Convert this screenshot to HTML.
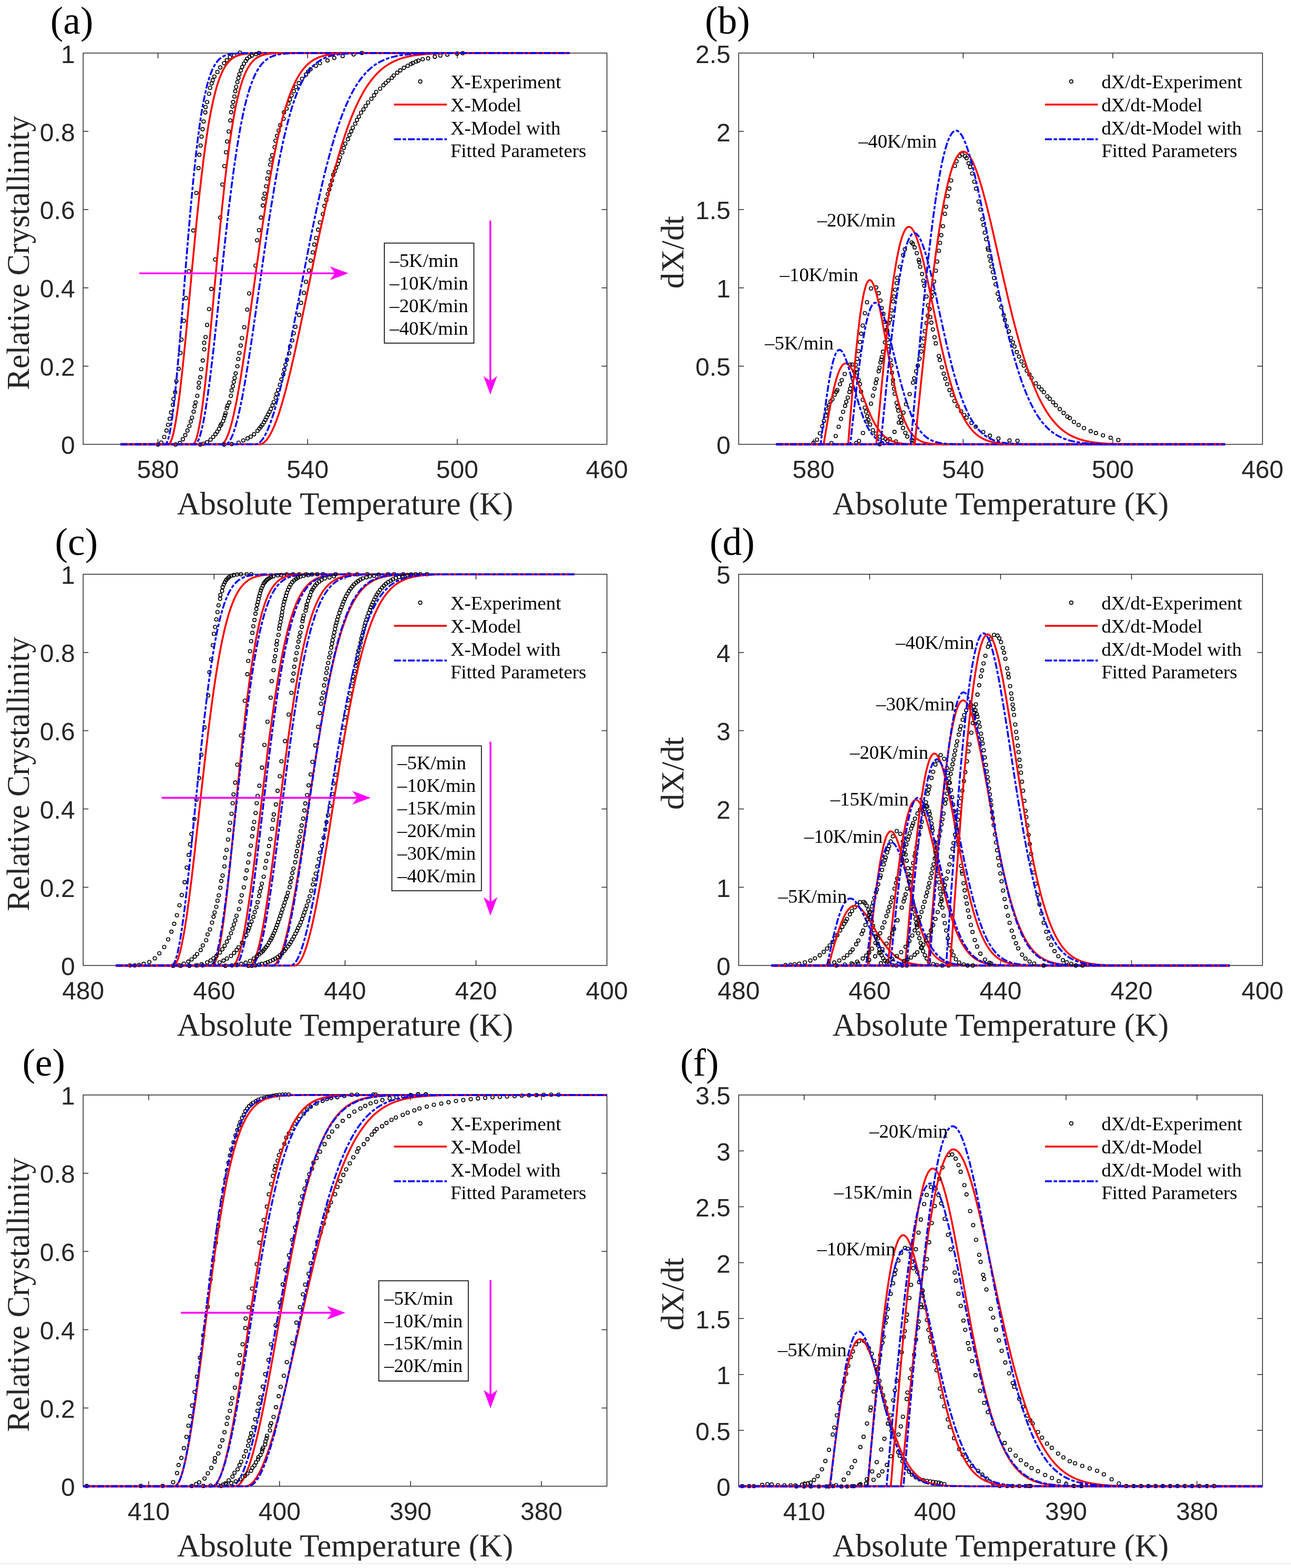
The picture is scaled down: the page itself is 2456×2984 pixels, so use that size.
<!DOCTYPE html>
<html lang="en"><head><meta charset="utf-8"><title>Crystallization kinetics: relative crystallinity and dX/dt versus absolute temperature</title>
<style>
html,body{margin:0;padding:0;background:#fff;}
body{width:2456px;height:2984px;overflow:hidden;position:relative;}
svg{display:block;position:absolute;left:0;top:0;}
text{white-space:pre;}
</style></head><body>
<svg width="2456" height="2984" viewBox="0 0 2456 2984">
<defs><marker id="mk" markerWidth="12" markerHeight="12" refX="6" refY="6" markerUnits="userSpaceOnUse" overflow="visible"><circle cx="6" cy="6" r="3.25" fill="none" stroke="#000" stroke-width="1.6"/></marker><clipPath id="figclip"><rect x="0" y="0" width="2456" height="2970"/></clipPath></defs>
<rect x="0" y="0" width="2456" height="2984" fill="#fff"/>
<g clip-path="url(#figclip)">
<g id="panel-a">
<rect x="158.2" y="101.0" width="996.4" height="744.6" fill="none" stroke="#262626" stroke-width="1.5"/>
<path d="M300.5,845.6v-10M300.5,101.0v10M585.2,845.6v-10M585.2,101.0v10M869.9,845.6v-10M869.9,101.0v10M158.2,696.7h10M1154.6,696.7h-10M158.2,547.8h10M1154.6,547.8h-10M158.2,398.8h10M1154.6,398.8h-10M158.2,249.9h10M1154.6,249.9h-10" fill="none" stroke="#262626" stroke-width="1.5"/>
<clipPath id="clip-a"><rect x="152.2" y="95.0" width="1008.4" height="756.6"/></clipPath>
<g clip-path="url(#clip-a)" fill="none" stroke-linejoin="round">
<polyline points="300.4,845.9 306.7,842.2 312.5,831.5 316.8,819.4 319.7,808.5 322.9,797.0 325.5,784.9 328.9,770.5 330.1,759.5 333.2,746.6 335.5,725.6 339.9,701.9 343.3,671.7 345.3,646.3 349.9,610.6 353.7,567.4 359.4,516.2 367.8,438.6 373.6,367.2 377.6,319.9 379.3,294.6 381.6,277.0 383.4,260.0 385.4,245.9 387.4,231.2 390.6,213.9 391.1,203.8 394.0,194.3 397.8,178.5 399.8,167.3 402.6,158.6 404.7,152.6 407.8,145.7 413.6,137.0 419.1,128.4 426.3,120.3 431.5,114.6 437.5,108.8 445.3,105.3 456.2,100.2" stroke="none" marker-start="url(#mk)" marker-mid="url(#mk)" marker-end="url(#mk)"/>
<path d="M229.4,845.6L319.9,845.6L320.2,845.6L320.8,845.4L321.5,845.1L322.2,844.4L323.0,843.5L323.8,842.3L324.7,840.7L325.6,838.6L326.5,836.2L327.5,833.2L328.5,829.8L329.6,825.8L330.6,821.3L331.7,816.2L332.8,810.6L334.0,804.4L335.1,797.5L336.3,790.1L337.5,782.1L338.7,773.5L339.9,764.3L341.2,754.6L342.5,744.2L343.7,733.3L345.0,721.8L346.4,709.8L347.7,697.3L349.0,684.3L350.4,670.8L351.8,657.0L353.2,642.7L354.6,628.1L356.0,613.1L357.4,597.9L358.9,582.4L360.3,566.7L361.8,550.8L363.3,534.9L364.7,518.8L366.2,502.7L367.8,486.6L369.3,470.5L370.8,454.5L372.4,438.7L373.9,423.0L375.5,407.5L377.1,392.2L378.6,377.3L380.2,362.6L381.9,348.2L383.5,334.2L385.1,320.6L386.7,307.4L388.4,294.7L390.0,282.3L391.7,270.4L393.4,259.0L395.0,248.1L396.7,237.6L398.4,227.7L400.1,218.2L401.9,209.2L403.6,200.7L405.3,192.7L407.1,185.1L408.8,178.0L410.6,171.3L412.3,165.1L414.1,159.3L415.9,153.9L417.7,148.9L419.5,144.3L421.3,140.0L423.1,136.1L424.9,132.5L426.7,129.2L428.5,126.1L430.4,123.4L432.2,120.9L434.1,118.7L435.9,116.6L437.8,114.8L439.7,113.1L441.5,111.6L443.4,110.3L445.3,109.1L447.2,108.1L449.1,107.2L451.0,106.3L453.0,105.6L454.9,105.0L456.8,104.4L458.8,103.9L460.7,103.5L462.7,103.1L464.6,102.8L466.6,102.5L468.6,102.3L470.5,102.1L472.5,101.9L474.5,101.8L476.5,101.7L478.5,101.5L480.5,101.5L482.5,101.4L484.5,101.3L486.5,101.3L488.6,101.2L490.6,101.2L492.6,101.1L494.7,101.1L496.7,101.1L498.8,101.1L500.9,101.1L502.9,101.0L505.0,101.0L507.1,101.0L509.2,101.0L511.2,101.0L513.3,101.0L515.4,101.0L517.5,101.0L519.6,101.0L521.8,101.0L523.9,101.0L526.0,101.0L528.1,101.0L530.3,101.0L532.4,101.0L1083.4,101.0" stroke="#f00" stroke-width="3.5"/>
<path d="M229.4,845.6L314.1,845.6L314.5,845.6L314.9,845.4L315.5,845.1L316.1,844.4L316.8,843.5L317.5,842.3L318.2,840.7L319.0,838.6L319.8,836.2L320.7,833.2L321.5,829.8L322.4,825.8L323.3,821.3L324.3,816.2L325.2,810.6L326.2,804.4L327.2,797.5L328.2,790.1L329.2,782.1L330.3,773.5L331.3,764.3L332.4,754.6L333.5,744.2L334.6,733.3L335.7,721.8L336.8,709.8L337.9,697.3L339.1,684.3L340.3,670.8L341.4,657.0L342.6,642.7L343.8,628.1L345.0,613.1L346.3,597.9L347.5,582.4L348.8,566.7L350.0,550.8L351.3,534.9L352.5,518.8L353.8,502.7L355.1,486.6L356.4,470.5L357.7,454.5L359.1,438.7L360.4,423.0L361.7,407.5L363.1,392.2L364.5,377.3L365.8,362.6L367.2,348.2L368.6,334.2L370.0,320.6L371.4,307.4L372.8,294.7L374.2,282.3L375.6,270.4L377.0,259.0L378.5,248.1L379.9,237.6L381.4,227.7L382.8,218.2L384.3,209.2L385.8,200.7L387.3,192.7L388.8,185.1L390.3,178.0L391.8,171.3L393.3,165.1L394.8,159.3L396.3,153.9L397.8,148.9L399.4,144.3L400.9,140.0L402.5,136.1L404.0,132.5L405.6,129.2L407.2,126.1L408.7,123.4L410.3,120.9L411.9,118.7L413.5,116.6L415.1,114.8L416.7,113.1L418.3,111.6L419.9,110.3L421.5,109.1L423.2,108.1L424.8,107.2L426.4,106.3L428.1,105.6L429.7,105.0L431.4,104.4L433.0,103.9L434.7,103.5L436.4,103.1L438.0,102.8L439.7,102.5L441.4,102.3L443.1,102.1L444.8,101.9L446.5,101.8L448.2,101.7L449.9,101.5L451.6,101.5L453.3,101.4L455.1,101.3L456.8,101.3L458.5,101.2L460.3,101.2L462.0,101.1L463.8,101.1L465.5,101.1L467.3,101.1L469.1,101.1L470.8,101.0L472.6,101.0L474.4,101.0L476.2,101.0L477.9,101.0L479.7,101.0L481.5,101.0L483.3,101.0L485.1,101.0L486.9,101.0L488.8,101.0L490.6,101.0L492.4,101.0L494.2,101.0L496.1,101.0L1083.4,101.0" stroke="#00f" stroke-width="3.5" stroke-dasharray="13.1 3.4 6.6 3.4"/>
<polyline points="334.1,845.9 342.2,843.1 347.9,835.9 352.5,828.1 356.6,819.4 360.3,810.8 362.9,802.2 365.2,794.7 368.4,783.4 370.4,773.4 372.1,765.9 375.3,753.2 377.9,737.6 378.5,728.4 381.0,718.1 382.8,702.5 385.7,686.1 388.5,664.8 388.5,652.4 391.1,641.5 394.0,618.4 397.8,588.2 402.1,549.9 409.3,493.7 419.1,414.1 423.1,351.3 426.8,316.2 430.0,289.7 432.0,269.2 435.2,250.2 438.1,229.2 439.8,213.6 442.1,202.7 443.5,194.1 445.9,183.7 447.6,173.6 449.3,165.5 451.6,156.3 453.6,148.5 455.4,141.3 458.2,134.1 460.8,127.5 464.0,121.2 467.5,116.0 470.3,111.7 474.7,108.2 479.0,105.9 487.0,103.0 492.8,100.7" stroke="none" marker-start="url(#mk)" marker-mid="url(#mk)" marker-end="url(#mk)"/>
<path d="M229.4,845.6L366.5,845.6L366.8,845.6L367.4,845.4L368.0,845.1L368.7,844.4L369.5,843.5L370.3,842.3L371.2,840.7L372.1,838.6L373.0,836.2L374.0,833.2L375.0,829.8L376.0,825.8L377.1,821.3L378.1,816.2L379.2,810.6L380.3,804.4L381.5,797.5L382.6,790.1L383.8,782.1L385.0,773.5L386.2,764.3L387.5,754.6L388.7,744.2L390.0,733.3L391.3,721.8L392.6,709.8L393.9,697.3L395.2,684.3L396.5,670.8L397.9,657.0L399.3,642.7L400.6,628.1L402.0,613.1L403.4,597.9L404.9,582.4L406.3,566.7L407.7,550.8L409.2,534.9L410.7,518.8L412.2,502.7L413.6,486.6L415.1,470.5L416.7,454.5L418.2,438.7L419.7,423.0L421.3,407.5L422.8,392.2L424.4,377.3L425.9,362.6L427.5,348.2L429.1,334.2L430.7,320.6L432.3,307.4L434.0,294.7L435.6,282.3L437.2,270.4L438.9,259.0L440.5,248.1L442.2,237.6L443.9,227.7L445.5,218.2L447.2,209.2L448.9,200.7L450.6,192.7L452.4,185.1L454.1,178.0L455.8,171.3L457.5,165.1L459.3,159.3L461.0,153.9L462.8,148.9L464.6,144.3L466.3,140.0L468.1,136.1L469.9,132.5L471.7,129.2L473.5,126.1L475.3,123.4L477.2,120.9L479.0,118.7L480.8,116.6L482.6,114.8L484.5,113.1L486.3,111.6L488.2,110.3L490.1,109.1L491.9,108.1L493.8,107.2L495.7,106.3L497.6,105.6L499.5,105.0L501.4,104.4L503.3,103.9L505.2,103.5L507.1,103.1L509.1,102.8L511.0,102.5L512.9,102.3L514.9,102.1L516.8,101.9L518.8,101.8L520.8,101.7L522.7,101.5L524.7,101.5L526.7,101.4L528.7,101.3L530.7,101.3L532.7,101.2L534.7,101.2L536.7,101.1L538.7,101.1L540.7,101.1L542.7,101.1L544.8,101.1L546.8,101.0L548.9,101.0L550.9,101.0L553.0,101.0L555.0,101.0L557.1,101.0L559.1,101.0L561.2,101.0L563.3,101.0L565.4,101.0L567.5,101.0L569.6,101.0L571.7,101.0L573.8,101.0L575.9,101.0L1083.4,101.0" stroke="#f00" stroke-width="3.5"/>
<path d="M229.4,845.6L370.5,845.6L370.9,845.6L371.6,845.4L372.3,845.1L373.1,844.4L374.0,843.5L375.0,842.3L376.0,840.7L377.0,838.6L378.1,836.2L379.2,833.2L380.4,829.8L381.6,825.8L382.8,821.3L384.0,816.2L385.3,810.6L386.6,804.4L387.9,797.5L389.3,790.1L390.6,782.1L392.0,773.5L393.4,764.3L394.9,754.6L396.3,744.2L397.8,733.3L399.3,721.8L400.8,709.8L402.3,697.3L403.8,684.3L405.4,670.8L407.0,657.0L408.5,642.7L410.1,628.1L411.8,613.1L413.4,597.9L415.0,582.4L416.7,566.7L418.4,550.8L420.1,534.9L421.8,518.8L423.5,502.7L425.2,486.6L427.0,470.5L428.7,454.5L430.5,438.7L432.3,423.0L434.0,407.5L435.8,392.2L437.7,377.3L439.5,362.6L441.3,348.2L443.2,334.2L445.0,320.6L446.9,307.4L448.8,294.7L450.7,282.3L452.6,270.4L454.5,259.0L456.4,248.1L458.3,237.6L460.3,227.7L462.2,218.2L464.2,209.2L466.1,200.7L468.1,192.7L470.1,185.1L472.1,178.0L474.1,171.3L476.1,165.1L478.2,159.3L480.2,153.9L482.2,148.9L484.3,144.3L486.3,140.0L488.4,136.1L490.5,132.5L492.6,129.2L494.7,126.1L496.8,123.4L498.9,120.9L501.0,118.7L503.1,116.6L505.2,114.8L507.4,113.1L509.5,111.6L511.7,110.3L513.8,109.1L516.0,108.1L518.2,107.2L520.4,106.3L522.6,105.6L524.8,105.0L527.0,104.4L529.2,103.9L531.4,103.5L533.6,103.1L535.9,102.8L538.1,102.5L540.4,102.3L542.6,102.1L544.9,101.9L547.2,101.8L549.4,101.7L551.7,101.5L554.0,101.5L556.3,101.4L558.6,101.3L560.9,101.3L563.2,101.2L565.6,101.2L567.9,101.1L570.2,101.1L572.6,101.1L574.9,101.1L577.3,101.1L579.6,101.0L582.0,101.0L584.4,101.0L586.8,101.0L589.2,101.0L591.5,101.0L593.9,101.0L596.3,101.0L598.8,101.0L601.2,101.0L603.6,101.0L606.0,101.0L608.5,101.0L610.9,101.0L613.3,101.0L1083.4,101.0" stroke="#00f" stroke-width="3.5" stroke-dasharray="13.1 3.4 6.6 3.4"/>
<polyline points="381.0,845.9 387.1,844.5 394.0,841.6 400.6,836.7 405.5,831.5 409.9,826.4 413.3,821.5 416.5,816.3 419.4,809.9 421.1,807.1 424.5,801.3 426.3,795.5 428.0,790.6 429.1,786.3 431.5,776.8 432.9,771.9 436.1,765.9 439.2,753.2 440.7,743.1 443.0,735.1 444.7,726.7 446.4,719.2 448.4,710.6 451.6,697.0 453.3,683.2 455.4,671.7 457.9,657.6 460.3,643.5 464.6,622.7 470.3,589.3 474.1,558.5 486.2,505.5 489.1,457.3 492.8,438.0 496.5,414.1 500.0,391.1 501.4,378.1 503.5,368.6 506.3,354.5 508.6,339.8 510.9,327.7 514.1,313.3 515.3,303.8 517.9,295.4 522.5,280.2 524.2,267.8 527.1,258.6 530.2,248.5 533.1,238.4 539.5,226.0 540.3,213.9 545.2,206.7 548.7,197.2 551.6,189.4 554.7,181.7 559.0,173.6 563.1,165.8 568.5,158.1 574.6,150.0 582.1,141.9 586.1,136.2 590.7,131.8 600.8,125.2 608.6,120.3 623.0,115.1 635.9,110.2 651.8,106.8 672.8,103.6 688.4,100.7" stroke="none" marker-start="url(#mk)" marker-mid="url(#mk)" marker-end="url(#mk)"/>
<path d="M229.4,845.6L419.9,845.6L420.5,845.6L421.3,845.4L422.3,845.1L423.4,844.4L424.5,843.5L425.8,842.3L427.1,840.7L428.4,838.6L429.8,836.2L431.3,833.2L432.8,829.8L434.3,825.8L435.9,821.3L437.5,816.2L439.2,810.6L440.9,804.4L442.6,797.5L444.4,790.1L446.1,782.1L447.9,773.5L449.8,764.3L451.6,754.6L453.5,744.2L455.4,733.3L457.4,721.8L459.3,709.8L461.3,697.3L463.3,684.3L465.3,670.8L467.4,657.0L469.5,642.7L471.6,628.1L473.7,613.1L475.8,597.9L477.9,582.4L480.1,566.7L482.3,550.8L484.5,534.9L486.7,518.8L488.9,502.7L491.2,486.6L493.4,470.5L495.7,454.5L498.0,438.7L500.3,423.0L502.7,407.5L505.0,392.2L507.4,377.3L509.8,362.6L512.2,348.2L514.6,334.2L517.0,320.6L519.4,307.4L521.9,294.7L524.3,282.3L526.8,270.4L529.3,259.0L531.8,248.1L534.3,237.6L536.8,227.7L539.4,218.2L541.9,209.2L544.5,200.7L547.1,192.7L549.6,185.1L552.2,178.0L554.9,171.3L557.5,165.1L560.1,159.3L562.8,153.9L565.4,148.9L568.1,144.3L570.8,140.0L573.5,136.1L576.2,132.5L578.9,129.2L581.6,126.1L584.3,123.4L587.1,120.9L589.8,118.7L592.6,116.6L595.4,114.8L598.2,113.1L601.0,111.6L603.8,110.3L606.6,109.1L609.4,108.1L612.3,107.2L615.1,106.3L618.0,105.6L620.8,105.0L623.7,104.4L626.6,103.9L629.5,103.5L632.4,103.1L635.3,102.8L638.2,102.5L641.1,102.3L644.1,102.1L647.0,101.9L650.0,101.8L652.9,101.7L655.9,101.5L658.9,101.5L661.9,101.4L664.9,101.3L667.9,101.3L670.9,101.2L673.9,101.2L677.0,101.1L680.0,101.1L683.1,101.1L686.1,101.1L689.2,101.1L692.3,101.0L695.4,101.0L698.4,101.0L701.5,101.0L704.6,101.0L707.8,101.0L710.9,101.0L714.0,101.0L717.2,101.0L720.3,101.0L723.5,101.0L726.6,101.0L729.8,101.0L733.0,101.0L736.1,101.0L1083.4,101.0" stroke="#f00" stroke-width="3.5"/>
<path d="M229.4,845.6L428.4,845.6L429.0,845.6L429.8,845.4L430.8,845.1L432.0,844.4L433.2,843.5L434.4,842.3L435.8,840.7L437.2,838.6L438.6,836.2L440.1,833.2L441.7,829.8L443.3,825.8L444.9,821.3L446.5,816.2L448.3,810.6L450.0,804.4L451.8,797.5L453.6,790.1L455.4,782.1L457.3,773.5L459.1,764.3L461.1,754.6L463.0,744.2L465.0,733.3L467.0,721.8L469.0,709.8L471.0,697.3L473.1,684.3L475.2,670.8L477.3,657.0L479.4,642.7L481.6,628.1L483.7,613.1L485.9,597.9L488.1,582.4L490.4,566.7L492.6,550.8L494.9,534.9L497.2,518.8L499.5,502.7L501.8,486.6L504.1,470.5L506.5,454.5L508.8,438.7L511.2,423.0L513.6,407.5L516.0,392.2L518.5,377.3L520.9,362.6L523.4,348.2L525.8,334.2L528.3,320.6L530.8,307.4L533.4,294.7L535.9,282.3L538.4,270.4L541.0,259.0L543.6,248.1L546.2,237.6L548.8,227.7L551.4,218.2L554.0,209.2L556.6,200.7L559.3,192.7L562.0,185.1L564.6,178.0L567.3,171.3L570.0,165.1L572.7,159.3L575.5,153.9L578.2,148.9L581.0,144.3L583.7,140.0L586.5,136.1L589.3,132.5L592.1,129.2L594.9,126.1L597.7,123.4L600.5,120.9L603.4,118.7L606.2,116.6L609.1,114.8L611.9,113.1L614.8,111.6L617.7,110.3L620.6,109.1L623.5,108.1L626.4,107.2L629.4,106.3L632.3,105.6L635.2,105.0L638.2,104.4L641.2,103.9L644.2,103.5L647.1,103.1L650.1,102.8L653.2,102.5L656.2,102.3L659.2,102.1L662.2,101.9L665.3,101.8L668.3,101.7L671.4,101.5L674.5,101.5L677.5,101.4L680.6,101.3L683.7,101.3L686.8,101.2L690.0,101.2L693.1,101.1L696.2,101.1L699.3,101.1L702.5,101.1L705.7,101.1L708.8,101.0L712.0,101.0L715.2,101.0L718.4,101.0L721.6,101.0L724.8,101.0L728.0,101.0L731.2,101.0L734.4,101.0L737.7,101.0L740.9,101.0L744.2,101.0L747.4,101.0L750.7,101.0L754.0,101.0L1083.4,101.0" stroke="#00f" stroke-width="3.5" stroke-dasharray="13.1 3.4 6.6 3.4"/>
<polyline points="426.3,845.9 440.7,845.1 453.9,842.5 462.8,838.2 470.9,834.4 477.0,831.0 483.3,826.4 489.9,820.0 493.4,815.7 496.3,812.0 499.1,808.5 502.3,803.6 504.9,799.0 507.2,794.1 510.1,788.9 512.7,783.7 515.3,778.3 518.4,771.6 520.7,765.3 524.5,756.7 526.2,749.5 529.1,742.3 532.5,732.2 535.4,722.1 538.9,712.3 540.9,703.4 543.2,694.2 545.8,684.7 550.1,672.3 551.8,659.6 555.9,647.8 558.8,634.3 561.9,621.9 569.1,599.4 572.6,576.4 578.1,557.4 582.1,536.3 587.8,514.7 591.0,496.0 595.0,480.2 597.9,465.4 601.4,453.0 605.1,437.1 608.6,423.3 614.3,407.5 617.2,391.9 621.0,380.4 623.6,369.5 626.4,360.8 628.7,352.2 631.6,343.5 633.9,332.9 636.8,326.3 639.4,319.1 642.6,311.9 644.6,306.1 646.9,299.5 651.2,290.3 654.1,281.6 657.0,273.5 661.9,264.9 664.7,257.1 668.2,249.9 671.1,243.3 675.7,235.5 679.1,228.3 682.6,222.0 686.9,214.5 691.5,208.2 695.6,201.8 700.2,195.2 706.5,188.0 711.7,181.4 715.7,175.0 723.2,168.7 729.6,162.1 733.9,157.8 738.8,153.4 745.4,148.3 749.0,143.7 755.6,138.4 761.5,133.9 768.4,129.1 775.5,125.2 781.6,121.7 785.3,119.9 791.4,117.2 795.9,115.4 804.1,112.7 814.5,111.1 827.2,107.9 837.8,105.8 851.0,104.0 869.6,102.1 880.2,101.3" stroke="none" marker-start="url(#mk)" marker-mid="url(#mk)" marker-end="url(#mk)"/>
<path d="M229.4,845.6L493.2,845.6L494.0,845.6L495.2,845.4L496.7,845.1L498.3,844.4L500.0,843.5L501.9,842.3L503.8,840.7L505.8,838.6L507.9,836.2L510.1,833.2L512.3,829.8L514.6,825.8L516.9,821.3L519.3,816.2L521.8,810.6L524.3,804.4L526.9,797.5L529.5,790.1L532.1,782.1L534.8,773.5L537.5,764.3L540.3,754.6L543.1,744.2L545.9,733.3L548.8,721.8L551.7,709.8L554.7,697.3L557.6,684.3L560.7,670.8L563.7,657.0L566.8,642.7L569.9,628.1L573.0,613.1L576.2,597.9L579.3,582.4L582.6,566.7L585.8,550.8L589.1,534.9L592.4,518.8L595.7,502.7L599.0,486.6L602.4,470.5L605.8,454.5L609.2,438.7L612.7,423.0L616.1,407.5L619.6,392.2L623.1,377.3L626.6,362.6L630.2,348.2L633.8,334.2L637.4,320.6L641.0,307.4L644.6,294.7L648.3,282.3L652.0,270.4L655.6,259.0L659.4,248.1L663.1,237.6L666.9,227.7L670.6,218.2L674.4,209.2L678.2,200.7L682.1,192.7L685.9,185.1L689.8,178.0L693.6,171.3L697.5,165.1L701.5,159.3L705.4,153.9L709.3,148.9L713.3,144.3L717.3,140.0L721.3,136.1L725.3,132.5L729.3,129.2L733.4,126.1L737.5,123.4L741.5,120.9L745.6,118.7L749.7,116.6L753.9,114.8L758.0,113.1L762.2,111.6L766.3,110.3L770.5,109.1L774.7,108.1L778.9,107.2L783.2,106.3L787.4,105.6L791.7,105.0L795.9,104.4L800.2,103.9L804.5,103.5L808.8,103.1L813.2,102.8L817.5,102.5L821.8,102.3L826.2,102.1L830.6,101.9L835.0,101.8L839.4,101.7L843.8,101.5L848.2,101.5L852.7,101.4L857.1,101.3L861.6,101.3L866.1,101.2L870.6,101.2L875.1,101.1L879.6,101.1L884.2,101.1L888.7,101.1L893.3,101.1L897.8,101.0L902.4,101.0L907.0,101.0L911.6,101.0L916.2,101.0L920.8,101.0L925.5,101.0L930.1,101.0L934.8,101.0L939.5,101.0L944.2,101.0L948.9,101.0L953.6,101.0L958.3,101.0L963.0,101.0L1083.4,101.0" stroke="#f00" stroke-width="3.5"/>
<path d="M229.4,845.6L485.5,845.6L486.3,845.6L487.5,845.4L488.8,845.1L490.3,844.4L491.9,843.5L493.6,842.3L495.4,840.7L497.3,838.6L499.3,836.2L501.3,833.2L503.4,829.8L505.5,825.8L507.7,821.3L510.0,816.2L512.2,810.6L514.6,804.4L517.0,797.5L519.4,790.1L521.9,782.1L524.4,773.5L526.9,764.3L529.5,754.6L532.1,744.2L534.8,733.3L537.5,721.8L540.2,709.8L542.9,697.3L545.7,684.3L548.5,670.8L551.3,657.0L554.2,642.7L557.1,628.1L560.0,613.1L563.0,597.9L565.9,582.4L568.9,566.7L572.0,550.8L575.0,534.9L578.1,518.8L581.2,502.7L584.3,486.6L587.5,470.5L590.6,454.5L593.8,438.7L597.0,423.0L600.3,407.5L603.5,392.2L606.8,377.3L610.1,362.6L613.4,348.2L616.7,334.2L620.1,320.6L623.5,307.4L626.9,294.7L630.3,282.3L633.7,270.4L637.1,259.0L640.6,248.1L644.1,237.6L647.6,227.7L651.1,218.2L654.7,209.2L658.2,200.7L661.8,192.7L665.4,185.1L669.0,178.0L672.6,171.3L676.2,165.1L679.9,159.3L683.6,153.9L687.3,148.9L691.0,144.3L694.7,140.0L698.4,136.1L702.2,132.5L705.9,129.2L709.7,126.1L713.5,123.4L717.3,120.9L721.1,118.7L724.9,116.6L728.8,114.8L732.7,113.1L736.5,111.6L740.4,110.3L744.3,109.1L748.3,108.1L752.2,107.2L756.1,106.3L760.1,105.6L764.1,105.0L768.1,104.4L772.1,103.9L776.1,103.5L780.1,103.1L784.1,102.8L788.2,102.5L792.2,102.3L796.3,102.1L800.4,101.9L804.5,101.8L808.6,101.7L812.7,101.5L816.9,101.5L821.0,101.4L825.2,101.3L829.4,101.3L833.5,101.2L837.7,101.2L841.9,101.1L846.2,101.1L850.4,101.1L854.6,101.1L858.9,101.1L863.1,101.0L867.4,101.0L871.7,101.0L876.0,101.0L880.3,101.0L884.6,101.0L889.0,101.0L893.3,101.0L897.6,101.0L902.0,101.0L906.4,101.0L910.8,101.0L915.1,101.0L919.6,101.0L924.0,101.0L1083.4,101.0" stroke="#00f" stroke-width="3.5" stroke-dasharray="13.1 3.4 6.6 3.4"/>
</g>
<g font-family="Liberation Sans, Arial, sans-serif" font-size="48.0" fill="#262626">
<text x="300.5" y="909.8" text-anchor="middle">580</text>
<text x="585.2" y="909.8" text-anchor="middle">540</text>
<text x="869.9" y="909.8" text-anchor="middle">500</text>
<text x="1154.6" y="909.8" text-anchor="middle">460</text>
<text x="142.6" y="864.2" text-anchor="end">0</text>
<text x="142.6" y="715.3" text-anchor="end">0.2</text>
<text x="142.6" y="566.4" text-anchor="end">0.4</text>
<text x="142.6" y="417.4" text-anchor="end">0.6</text>
<text x="142.6" y="268.5" text-anchor="end">0.8</text>
<text x="142.6" y="119.6" text-anchor="end">1</text>
</g>
<g font-family="Liberation Serif, Times New Roman, serif" font-size="60.8" fill="#262626">
<text x="656.4" y="979.3" text-anchor="middle">Absolute Temperature (K)</text>
<text transform="translate(55.0,481.3) rotate(-90)" text-anchor="middle">Relative Crystallinity</text>
</g>
<text x="95.8" y="64" font-family="Liberation Serif, Times New Roman, serif" font-size="73.5" fill="#000">(a)</text>
<g font-family="Liberation Serif, Times New Roman, serif" font-size="36.8" fill="#000">
<circle cx="799.5" cy="155.1" r="3.25" fill="none" stroke="#000" stroke-width="1.6"/>
<path d="M749.5,199.1h100.5" stroke="#f00" stroke-width="3.5" fill="none"/>
<path d="M749.5,265.1h100.5" stroke="#00f" stroke-width="3.5" stroke-dasharray="13.1 3.4 6.6 3.4" fill="none"/>
<text x="856.9" y="168.4">X-Experiment</text>
<text x="856.9" y="211.8">X-Model</text>
<text x="856.9" y="255.8">X-Model with</text>
<text x="856.9" y="298.7">Fitted Parameters</text>
</g>
<rect x="731.2" y="462.6" width="170.3" height="190.4" fill="#fff" stroke="#000" stroke-width="1.6"/>
<g font-family="Liberation Serif, Times New Roman, serif" font-size="36.8" fill="#000">
<text x="741.3" y="508.0">–5K/min</text>
<text x="741.3" y="551.0">–10K/min</text>
<text x="741.3" y="594.0">–20K/min</text>
<text x="741.3" y="637.0">–40K/min</text>
</g>
<path d="M265.0,520.1L638.1,520.1" stroke="#f0f" stroke-width="3.4" fill="none"/>
<path d="M662.8,520.1L627.8,507.1L637.1,520.1L627.8,533.1Z" fill="#f0f"/>
<path d="M932.8,419.7L932.8,726.1" stroke="#f0f" stroke-width="3.4" fill="none"/>
<path d="M932.8,750.8L945.8,715.8L932.8,725.1L919.8,715.8Z" fill="#f0f"/>
<g font-family="Liberation Serif, Times New Roman, serif" font-size="36.8" fill="#000">
</g>
</g>
<g id="panel-b">
<rect x="1405.3" y="101.0" width="996.4" height="744.6" fill="none" stroke="#262626" stroke-width="1.5"/>
<path d="M1547.6,845.6v-10M1547.6,101.0v10M1832.3,845.6v-10M1832.3,101.0v10M2117.0,845.6v-10M2117.0,101.0v10M1405.3,696.7h10M2401.7,696.7h-10M1405.3,547.8h10M2401.7,547.8h-10M1405.3,398.8h10M2401.7,398.8h-10M1405.3,249.9h10M2401.7,249.9h-10" fill="none" stroke="#262626" stroke-width="1.5"/>
<clipPath id="clip-b"><rect x="1399.3" y="95.0" width="1008.4" height="756.6"/></clipPath>
<g clip-path="url(#clip-b)" fill="none" stroke-linejoin="round">
<polyline points="1547.6,842.9 1554.2,836.7 1559.8,824.5 1564.3,811.2 1567.4,801.2 1571.3,790.9 1573.2,783.0 1576.4,774.8 1576.8,771.2 1580.1,764.0 1583.6,759.7 1587.9,751.3 1591.2,745.6 1592.9,742.4 1598.0,731.2 1601.3,723.4 1607.0,711.7 1617.4,693.7 1621.4,693.7 1627.9,694.2 1629.4,702.8 1630.1,709.3 1633.4,723.0 1635.8,730.9 1638.0,745.3 1641.3,760.8 1645.2,775.8 1647.4,783.5 1649.8,792.1 1652.1,799.3 1648.8,802.2 1655.3,807.9 1660.6,818.7 1666.1,825.2 1673.6,831.0 1679.0,832.8 1684.8,835.3 1688.1,839.2 1692.7,835.6 1704.3,840.3" stroke="none" marker-start="url(#mk)" marker-mid="url(#mk)" marker-end="url(#mk)"/>
<path d="M1476.5,845.6L1567.0,845.6L1567.3,843.3L1567.9,839.9L1568.6,835.9L1569.3,831.5L1570.1,826.8L1570.9,821.8L1571.8,816.5L1572.7,811.1L1573.6,805.5L1574.6,799.9L1575.6,794.1L1576.7,788.2L1577.7,782.3L1578.8,776.4L1579.9,770.5L1581.1,764.6L1582.2,758.8L1583.4,753.1L1584.6,747.6L1585.8,742.1L1587.0,736.9L1588.3,731.8L1589.6,726.9L1590.8,722.3L1592.1,718.0L1593.5,713.9L1594.8,710.1L1596.1,706.6L1597.5,703.5L1598.9,700.7L1600.3,698.3L1601.7,696.2L1603.1,694.5L1604.5,693.2L1606.0,692.3L1607.4,691.8L1608.9,691.6L1610.4,691.9L1611.8,692.5L1613.3,693.4L1614.9,694.8L1616.4,696.5L1617.9,698.5L1619.5,700.8L1621.0,703.4L1622.6,706.4L1624.2,709.5L1625.7,713.0L1627.3,716.6L1629.0,720.4L1630.6,724.4L1632.2,728.6L1633.8,732.9L1635.5,737.2L1637.1,741.7L1638.8,746.2L1640.5,750.7L1642.1,755.3L1643.8,759.8L1645.5,764.3L1647.2,768.8L1649.0,773.1L1650.7,777.4L1652.4,781.6L1654.2,785.7L1655.9,789.7L1657.7,793.5L1659.4,797.2L1661.2,800.7L1663.0,804.1L1664.8,807.3L1666.6,810.4L1668.4,813.3L1670.2,816.0L1672.0,818.6L1673.8,821.0L1675.6,823.3L1677.5,825.4L1679.3,827.3L1681.2,829.1L1683.0,830.8L1684.9,832.3L1686.8,833.7L1688.6,835.0L1690.5,836.2L1692.4,837.3L1694.3,838.2L1696.2,839.1L1698.1,839.9L1700.1,840.6L1702.0,841.2L1703.9,841.8L1705.9,842.3L1707.8,842.7L1709.8,843.1L1711.7,843.4L1713.7,843.7L1715.7,844.0L1717.6,844.2L1719.6,844.4L1721.6,844.6L1723.6,844.8L1725.6,844.9L1727.6,845.0L1729.6,845.1L1731.6,845.2L1733.6,845.2L1735.7,845.3L1737.7,845.4L1739.7,845.4L1741.8,845.4L1743.8,845.5L1745.9,845.5L1748.0,845.5L1750.0,845.5L1752.1,845.5L1754.2,845.6L1756.3,845.6L1758.3,845.6L1760.4,845.6L1762.5,845.6L1764.6,845.6L1766.7,845.6L1768.9,845.6L1771.0,845.6L1773.1,845.6L1775.2,845.6L1777.4,845.6L1779.5,845.6L2330.5,845.6" stroke="#f00" stroke-width="3.5"/>
<path d="M1476.5,845.6L1561.2,845.6L1561.6,842.9L1562.0,838.9L1562.6,834.2L1563.2,829.1L1563.9,823.6L1564.6,817.7L1565.3,811.6L1566.1,805.3L1566.9,798.8L1567.8,792.2L1568.6,785.4L1569.5,778.5L1570.4,771.7L1571.4,764.7L1572.3,757.9L1573.3,751.0L1574.3,744.2L1575.3,737.6L1576.3,731.1L1577.4,724.7L1578.4,718.6L1579.5,712.6L1580.6,707.0L1581.7,701.6L1582.8,696.5L1583.9,691.7L1585.0,687.3L1586.2,683.2L1587.4,679.6L1588.5,676.3L1589.7,673.5L1590.9,671.1L1592.1,669.1L1593.4,667.6L1594.6,666.5L1595.9,665.9L1597.1,665.7L1598.4,666.0L1599.6,666.7L1600.9,667.8L1602.2,669.4L1603.5,671.4L1604.8,673.7L1606.2,676.4L1607.5,679.5L1608.8,682.9L1610.2,686.6L1611.6,690.6L1612.9,694.9L1614.3,699.4L1615.7,704.0L1617.1,708.9L1618.5,713.9L1619.9,719.0L1621.3,724.2L1622.7,729.5L1624.1,734.8L1625.6,740.1L1627.0,745.4L1628.5,750.6L1629.9,755.8L1631.4,760.9L1632.9,766.0L1634.4,770.9L1635.9,775.6L1637.4,780.3L1638.9,784.7L1640.4,789.1L1641.9,793.2L1643.4,797.1L1644.9,800.9L1646.5,804.5L1648.0,807.9L1649.6,811.1L1651.1,814.1L1652.7,816.9L1654.3,819.5L1655.8,822.0L1657.4,824.3L1659.0,826.4L1660.6,828.3L1662.2,830.1L1663.8,831.7L1665.4,833.2L1667.0,834.6L1668.6,835.9L1670.3,837.0L1671.9,838.0L1673.5,838.9L1675.2,839.7L1676.8,840.5L1678.5,841.1L1680.1,841.7L1681.8,842.2L1683.5,842.7L1685.1,843.1L1686.8,843.4L1688.5,843.7L1690.2,844.0L1691.9,844.2L1693.6,844.4L1695.3,844.6L1697.0,844.8L1698.7,844.9L1700.4,845.0L1702.2,845.1L1703.9,845.2L1705.6,845.3L1707.4,845.3L1709.1,845.4L1710.9,845.4L1712.6,845.4L1714.4,845.5L1716.2,845.5L1717.9,845.5L1719.7,845.5L1721.5,845.5L1723.3,845.6L1725.0,845.6L1726.8,845.6L1728.6,845.6L1730.4,845.6L1732.2,845.6L1734.0,845.6L1735.9,845.6L1737.7,845.6L1739.5,845.6L1741.3,845.6L1743.2,845.6L2330.5,845.6" stroke="#00f" stroke-width="3.5" stroke-dasharray="13.1 3.4 6.6 3.4"/>
<polyline points="1581.8,843.2 1589.8,829.8 1595.5,812.3 1599.8,797.1 1603.9,783.7 1607.8,772.4 1609.9,764.7 1612.8,756.8 1616.0,746.0 1617.4,739.8 1619.3,733.0 1622.2,720.1 1625.8,707.8 1630.8,682.9 1633.3,668.2 1636.1,650.7 1638.4,635.1 1688.4,646.6 1689.9,658.9 1694.2,685.5 1695.6,695.6 1696.8,709.3 1698.8,723.3 1699.2,730.5 1700.9,739.8 1702.1,749.2 1705.7,766.5 1707.4,774.4 1709.0,781.6 1711.7,792.8 1714.3,800.0 1710.0,804.3 1714.8,804.8 1717.9,814.4 1722.3,823.8 1726.1,830.7 1734.5,837.5 1737.4,838.6 1641.2,619.5 1645.3,596.0 1649.5,575.3 1657.0,549.0 1666.9,547.1 1671.6,557.9 1674.9,572.0 1677.1,586.4 1680.5,597.4 1683.2,612.6 1686.8,627.8" stroke="none" marker-start="url(#mk)" marker-mid="url(#mk)" marker-end="url(#mk)"/>
<path d="M1476.5,845.6L1613.6,845.6L1613.9,840.9L1614.5,833.9L1615.1,825.9L1615.8,816.9L1616.6,807.4L1617.4,797.2L1618.3,786.6L1619.2,775.6L1620.1,764.3L1621.1,752.7L1622.1,741.0L1623.1,729.1L1624.2,717.1L1625.2,705.1L1626.3,693.1L1627.4,681.2L1628.6,669.5L1629.7,657.9L1630.9,646.6L1632.1,635.6L1633.3,624.9L1634.6,614.6L1635.8,604.7L1637.1,595.3L1638.4,586.5L1639.7,578.2L1641.0,570.5L1642.3,563.5L1643.6,557.1L1645.0,551.5L1646.4,546.5L1647.7,542.3L1649.1,538.9L1650.5,536.3L1652.0,534.4L1653.4,533.3L1654.8,533.0L1656.3,533.5L1657.8,534.7L1659.3,536.7L1660.7,539.4L1662.2,542.8L1663.8,546.9L1665.3,551.7L1666.8,557.0L1668.4,563.0L1669.9,569.4L1671.5,576.3L1673.0,583.7L1674.6,591.5L1676.2,599.6L1677.8,608.1L1679.4,616.7L1681.1,625.6L1682.7,634.7L1684.3,643.8L1686.0,653.0L1687.6,662.2L1689.3,671.4L1691.0,680.6L1692.6,689.6L1694.3,698.5L1696.0,707.2L1697.7,715.7L1699.5,724.0L1701.2,732.1L1702.9,739.9L1704.6,747.3L1706.4,754.5L1708.1,761.4L1709.9,767.9L1711.7,774.2L1713.4,780.0L1715.2,785.6L1717.0,790.8L1718.8,795.7L1720.6,800.3L1722.4,804.6L1724.3,808.5L1726.1,812.2L1727.9,815.6L1729.7,818.7L1731.6,821.5L1733.4,824.1L1735.3,826.5L1737.2,828.7L1739.0,830.6L1740.9,832.4L1742.8,834.0L1744.7,835.4L1746.6,836.7L1748.5,837.8L1750.4,838.8L1752.3,839.7L1754.2,840.5L1756.2,841.2L1758.1,841.8L1760.0,842.4L1762.0,842.8L1763.9,843.2L1765.9,843.6L1767.9,843.9L1769.8,844.2L1771.8,844.4L1773.8,844.6L1775.8,844.7L1777.8,844.9L1779.8,845.0L1781.8,845.1L1783.8,845.2L1785.8,845.3L1787.8,845.3L1789.8,845.4L1791.9,845.4L1793.9,845.4L1796.0,845.5L1798.0,845.5L1800.1,845.5L1802.1,845.5L1804.2,845.5L1806.2,845.6L1808.3,845.6L1810.4,845.6L1812.5,845.6L1814.6,845.6L1816.7,845.6L1818.8,845.6L1820.9,845.6L1823.0,845.6L2330.5,845.6" stroke="#f00" stroke-width="3.5"/>
<path d="M1476.5,845.6L1617.6,845.6L1618.0,841.5L1618.7,835.6L1619.4,828.6L1620.2,820.9L1621.1,812.6L1622.1,803.9L1623.1,794.7L1624.1,785.2L1625.2,775.5L1626.3,765.5L1627.5,755.4L1628.7,745.1L1629.9,734.8L1631.1,724.5L1632.4,714.1L1633.7,703.9L1635.0,693.7L1636.4,683.8L1637.7,674.0L1639.1,664.5L1640.5,655.3L1642.0,646.4L1643.4,637.9L1644.9,629.8L1646.4,622.2L1647.9,615.0L1649.4,608.4L1650.9,602.3L1652.5,596.8L1654.1,592.0L1655.6,587.7L1657.2,584.1L1658.9,581.1L1660.5,578.9L1662.1,577.3L1663.8,576.3L1665.5,576.1L1667.2,576.5L1668.9,577.5L1670.6,579.2L1672.3,581.6L1674.1,584.5L1675.8,588.1L1677.6,592.1L1679.4,596.8L1681.1,601.9L1682.9,607.4L1684.8,613.4L1686.6,619.8L1688.4,626.5L1690.3,633.5L1692.1,640.8L1694.0,648.3L1695.9,655.9L1697.8,663.7L1699.7,671.6L1701.6,679.5L1703.5,687.5L1705.4,695.4L1707.4,703.3L1709.3,711.1L1711.3,718.8L1713.2,726.3L1715.2,733.6L1717.2,740.8L1719.2,747.7L1721.2,754.4L1723.2,760.9L1725.3,767.1L1727.3,773.0L1729.3,778.6L1731.4,784.0L1733.4,789.1L1735.5,793.9L1737.6,798.4L1739.7,802.6L1741.8,806.5L1743.9,810.2L1746.0,813.6L1748.1,816.8L1750.2,819.7L1752.3,822.4L1754.5,824.8L1756.6,827.1L1758.8,829.1L1760.9,831.0L1763.1,832.7L1765.3,834.2L1767.5,835.6L1769.7,836.8L1771.9,837.9L1774.1,838.9L1776.3,839.8L1778.5,840.5L1780.7,841.2L1783.0,841.8L1785.2,842.4L1787.5,842.8L1789.7,843.2L1792.0,843.6L1794.3,843.9L1796.5,844.1L1798.8,844.4L1801.1,844.6L1803.4,844.7L1805.7,844.9L1808.0,845.0L1810.3,845.1L1812.7,845.2L1815.0,845.2L1817.3,845.3L1819.7,845.4L1822.0,845.4L1824.4,845.4L1826.7,845.5L1829.1,845.5L1831.5,845.5L1833.9,845.5L1836.3,845.5L1838.6,845.6L1841.0,845.6L1843.4,845.6L1845.9,845.6L1848.3,845.6L1850.7,845.6L1853.1,845.6L1855.6,845.6L1858.0,845.6L1860.4,845.6L2330.5,845.6" stroke="#00f" stroke-width="3.5" stroke-dasharray="13.1 3.4 6.6 3.4"/>
<polyline points="1629.0,843.0 1634.1,839.2 1641.7,824.0 1656.9,768.2 1660.7,753.0 1663.7,739.8 1666.2,728.9 1667.8,721.8 1671.6,706.6 1673.3,699.8 1675.1,689.7 1676.6,684.6 1677.6,679.5 1679.7,669.4 1683.5,651.6 1687.8,628.8 1690.3,614.9 1693.1,608.5 1694.4,602.2 1696.2,590.8 1699.2,573.6 1700.7,564.2 1703.0,551.5 1705.8,538.8 1707.0,528.7 1711.9,507.7 1718.2,485.6 1721.5,474.2 1734.2,461.5 1736.7,464.1 1740.0,470.9 1744.1,481.8 1747.9,494.5 1748.9,499.1 1750.6,507.7 1754.2,521.6 1756.7,534.3 1758.5,543.9 1762.6,564.2 1765.3,581.2 1768.4,588.3 1769.7,603.5 1771.7,614.1 1774.7,627.0 1777.8,641.7 1780.3,653.4 1786.1,677.5 1787.9,685.1 1791.7,699.0 1795.3,711.2 1798.3,720.6 1801.8,731.0 1806.4,742.4 1810.7,751.7 1815.8,763.2 1821.6,772.8 1828.5,782.7 1834.3,789.8 1838.8,794.8 1848.2,805.0 1856.3,812.1 1870.5,822.2 1883.2,829.1 1899.4,834.6 1920.5,838.2 1935.7,838.7" stroke="none" marker-start="url(#mk)" marker-mid="url(#mk)" marker-end="url(#mk)"/>
<path d="M1476.5,845.6L1667.0,845.6L1667.6,839.3L1668.4,830.2L1669.4,819.5L1670.5,807.7L1671.6,794.9L1672.9,781.5L1674.2,767.4L1675.5,752.9L1676.9,737.9L1678.4,722.6L1679.9,707.0L1681.4,691.3L1683.0,675.4L1684.6,659.5L1686.3,643.7L1688.0,627.9L1689.7,612.4L1691.5,597.0L1693.2,582.0L1695.0,567.4L1696.9,553.3L1698.7,539.6L1700.6,526.6L1702.5,514.1L1704.5,502.4L1706.4,491.4L1708.4,481.3L1710.4,472.0L1712.4,463.5L1714.5,456.0L1716.6,449.5L1718.7,444.0L1720.8,439.4L1722.9,435.9L1725.0,433.4L1727.2,432.0L1729.4,431.6L1731.6,432.2L1733.8,433.9L1736.0,436.5L1738.3,440.1L1740.5,444.6L1742.8,450.0L1745.1,456.3L1747.4,463.4L1749.8,471.2L1752.1,479.8L1754.5,489.0L1756.9,498.8L1759.3,509.1L1761.7,519.8L1764.1,531.0L1766.5,542.5L1769.0,554.3L1771.4,566.2L1773.9,578.3L1776.4,590.5L1778.9,602.8L1781.4,614.9L1783.9,627.0L1786.5,639.0L1789.0,650.8L1791.6,662.3L1794.2,673.6L1796.7,684.6L1799.3,695.3L1802.0,705.6L1804.6,715.5L1807.2,725.0L1809.9,734.1L1812.5,742.7L1815.2,751.0L1817.9,758.8L1820.6,766.1L1823.3,773.0L1826.0,779.5L1828.7,785.6L1831.4,791.2L1834.2,796.5L1836.9,801.3L1839.7,805.8L1842.5,809.9L1845.3,813.7L1848.1,817.2L1850.9,820.3L1853.7,823.2L1856.5,825.8L1859.4,828.1L1862.2,830.2L1865.1,832.1L1867.9,833.8L1870.8,835.3L1873.7,836.6L1876.6,837.8L1879.5,838.9L1882.4,839.8L1885.3,840.6L1888.2,841.3L1891.2,841.9L1894.1,842.5L1897.1,842.9L1900.0,843.4L1903.0,843.7L1906.0,844.0L1909.0,844.3L1912.0,844.5L1915.0,844.7L1918.0,844.8L1921.0,844.9L1924.1,845.1L1927.1,845.2L1930.2,845.2L1933.2,845.3L1936.3,845.4L1939.4,845.4L1942.5,845.4L1945.5,845.5L1948.6,845.5L1951.7,845.5L1954.9,845.5L1958.0,845.5L1961.1,845.6L1964.3,845.6L1967.4,845.6L1970.6,845.6L1973.7,845.6L1976.9,845.6L1980.1,845.6L1983.2,845.6L2330.5,845.6" stroke="#f00" stroke-width="3.5"/>
<path d="M1476.5,845.6L1675.5,845.6L1676.1,839.5L1676.9,830.6L1677.9,820.2L1679.1,808.7L1680.3,796.4L1681.5,783.3L1682.9,769.7L1684.3,755.6L1685.7,741.0L1687.2,726.1L1688.8,711.0L1690.4,695.7L1692.0,680.3L1693.6,664.9L1695.4,649.5L1697.1,634.2L1698.9,619.1L1700.7,604.2L1702.5,589.6L1704.4,575.4L1706.2,561.7L1708.2,548.4L1710.1,535.7L1712.1,523.7L1714.1,512.3L1716.1,501.6L1718.1,491.8L1720.2,482.7L1722.3,474.5L1724.4,467.2L1726.5,460.9L1728.7,455.5L1730.8,451.1L1733.0,447.7L1735.2,445.3L1737.5,443.9L1739.7,443.5L1742.0,444.1L1744.3,445.7L1746.6,448.3L1748.9,451.8L1751.2,456.2L1753.6,461.4L1755.9,467.5L1758.3,474.4L1760.7,482.0L1763.1,490.3L1765.6,499.2L1768.0,508.7L1770.5,518.7L1772.9,529.2L1775.4,540.0L1777.9,551.2L1780.5,562.6L1783.0,574.3L1785.5,586.0L1788.1,597.9L1790.7,609.7L1793.3,621.6L1795.9,633.3L1798.5,644.9L1801.1,656.4L1803.7,667.6L1806.4,678.6L1809.1,689.2L1811.7,699.6L1814.4,709.6L1817.1,719.2L1819.8,728.5L1822.6,737.3L1825.3,745.7L1828.1,753.7L1830.8,761.3L1833.6,768.4L1836.4,775.1L1839.2,781.4L1842.0,787.3L1844.8,792.8L1847.6,797.9L1850.5,802.6L1853.3,807.0L1856.2,811.0L1859.0,814.6L1861.9,818.0L1864.8,821.0L1867.7,823.8L1870.6,826.3L1873.5,828.6L1876.5,830.7L1879.4,832.5L1882.3,834.1L1885.3,835.6L1888.3,836.9L1891.3,838.1L1894.2,839.1L1897.2,840.0L1900.3,840.8L1903.3,841.4L1906.3,842.0L1909.3,842.6L1912.4,843.0L1915.4,843.4L1918.5,843.8L1921.6,844.0L1924.6,844.3L1927.7,844.5L1930.8,844.7L1933.9,844.8L1937.1,845.0L1940.2,845.1L1943.3,845.2L1946.4,845.2L1949.6,845.3L1952.8,845.4L1955.9,845.4L1959.1,845.4L1962.3,845.5L1965.5,845.5L1968.7,845.5L1971.9,845.5L1975.1,845.5L1978.3,845.6L1981.5,845.6L1984.8,845.6L1988.0,845.6L1991.3,845.6L1994.5,845.6L1997.8,845.6L2001.1,845.6L2330.5,845.6" stroke="#00f" stroke-width="3.5" stroke-dasharray="13.1 3.4 6.6 3.4"/>
<polyline points="1673.6,845.4 1701.7,821.9 1718.7,785.2 1723.7,769.3 1730.6,750.0 1736.9,728.3 1739.2,720.1 1742.8,706.8 1746.0,695.9 1749.3,682.6 1752.8,668.7 1754.7,657.7 1756.8,644.2 1759.3,630.4 1762.8,614.9 1765.1,600.9 1768.4,588.3 1772.7,564.2 1774.2,556.1 1777.0,535.8 1780.3,515.3 1782.8,497.8 1786.1,477.3 1788.2,462.3 1790.7,447.6 1793.8,430.5 1797.6,407.0 1799.7,393.5 1802.9,373.2 1805.9,359.1 1809.4,343.5 1816.7,315.8 1819.7,307.0 1825.6,296.7 1830.6,293.8 1835.9,297.3 1838.8,301.1 1842.6,310.6 1845.6,317.9 1849.4,330.3 1853.5,345.8 1857.0,359.1 1861.7,383.5 1865.3,398.7 1869.1,417.3 1871.1,428.1 1873.5,442.8 1876.1,455.2 1879.4,472.2 1880.0,475.2 1882.3,487.8 1884.4,496.6 1886.4,507.5 1888.8,517.8 1891.1,529.0 1894.1,541.3 1898.2,559.0 1901.1,570.1 1904.9,584.5 1909.4,599.5 1911.7,608.9 1915.2,620.7 1919.1,630.4 1923.2,643.3 1927.0,651.6 1929.9,659.5 1934.3,670.1 1938.7,678.6 1943.2,687.7 1947.6,695.7 1953.4,705.4 1958.4,712.7 1962.3,719.2 1970.5,729.5 1976.4,736.2 1981.4,741.2 1985.8,746.2 1992.5,754.5 1997.0,758.9 2003.4,765.6 2008.7,771.2 2016.1,778.6 2023.4,785.9 2030.5,792.7 2035.2,795.6 2043.1,803.0 2051.9,808.8 2062.2,814.7 2074.9,820.6 2084.9,824.1 2098.4,828.5 2112.8,833.0 2127.5,837.4" stroke="none" marker-start="url(#mk)" marker-mid="url(#mk)" marker-end="url(#mk)"/>
<path d="M1476.5,845.6L1740.3,845.6L1741.1,837.2L1742.3,824.8L1743.8,810.4L1745.4,794.5L1747.1,777.4L1749.0,759.3L1750.9,740.4L1752.9,720.8L1755.0,700.6L1757.2,680.0L1759.4,659.1L1761.7,637.9L1764.0,616.5L1766.4,595.1L1768.9,573.8L1771.4,552.6L1774.0,531.6L1776.6,511.0L1779.2,490.8L1781.9,471.2L1784.6,452.1L1787.4,433.7L1790.2,416.1L1793.0,399.4L1795.9,383.6L1798.8,368.9L1801.8,355.2L1804.7,342.7L1807.8,331.3L1810.8,321.2L1813.9,312.4L1817.0,305.0L1820.1,298.9L1823.3,294.2L1826.4,290.8L1829.7,288.9L1832.9,288.4L1836.2,289.2L1839.5,291.4L1842.8,294.9L1846.1,299.8L1849.5,305.9L1852.9,313.2L1856.3,321.6L1859.8,331.2L1863.2,341.7L1866.7,353.2L1870.2,365.6L1873.7,378.7L1877.3,392.6L1880.9,407.1L1884.5,422.1L1888.1,437.6L1891.7,453.4L1895.4,469.5L1899.1,485.9L1902.7,502.3L1906.5,518.7L1910.2,535.1L1914.0,551.4L1917.7,567.5L1921.5,583.4L1925.3,598.9L1929.2,614.1L1933.0,628.9L1936.9,643.2L1940.7,657.1L1944.6,670.4L1948.6,683.2L1952.5,695.5L1956.4,707.1L1960.4,718.2L1964.4,728.7L1968.4,738.6L1972.4,747.9L1976.4,756.7L1980.5,764.8L1984.6,772.4L1988.6,779.5L1992.7,786.0L1996.8,792.0L2001.0,797.6L2005.1,802.7L2009.3,807.3L2013.4,811.6L2017.6,815.4L2021.8,818.9L2026.0,822.1L2030.3,824.9L2034.5,827.4L2038.8,829.7L2043.0,831.7L2047.3,833.5L2051.6,835.1L2055.9,836.5L2060.3,837.8L2064.6,838.9L2068.9,839.8L2073.3,840.7L2077.7,841.4L2082.1,842.0L2086.5,842.6L2090.9,843.0L2095.3,843.4L2099.8,843.8L2104.2,844.1L2108.7,844.3L2113.2,844.5L2117.7,844.7L2122.2,844.9L2126.7,845.0L2131.3,845.1L2135.8,845.2L2140.4,845.3L2144.9,845.3L2149.5,845.4L2154.1,845.4L2158.7,845.5L2163.3,845.5L2167.9,845.5L2172.6,845.5L2177.2,845.5L2181.9,845.6L2186.6,845.6L2191.3,845.6L2196.0,845.6L2200.7,845.6L2205.4,845.6L2210.1,845.6L2330.5,845.6" stroke="#f00" stroke-width="3.5"/>
<path d="M1476.5,845.6L1732.6,845.6L1733.4,836.6L1734.6,823.3L1735.9,807.9L1737.4,790.9L1739.0,772.5L1740.7,753.1L1742.5,732.9L1744.4,711.9L1746.4,690.3L1748.4,668.2L1750.5,645.7L1752.6,623.0L1754.8,600.1L1757.1,577.2L1759.3,554.3L1761.7,531.6L1764.1,509.2L1766.5,487.1L1769.0,465.4L1771.5,444.3L1774.0,423.9L1776.6,404.2L1779.2,385.4L1781.9,367.5L1784.6,350.6L1787.3,334.7L1790.0,320.1L1792.8,306.6L1795.6,294.5L1798.4,283.7L1801.3,274.3L1804.2,266.3L1807.1,259.7L1810.1,254.7L1813.0,251.1L1816.0,249.0L1819.1,248.4L1822.1,249.3L1825.2,251.7L1828.3,255.5L1831.4,260.7L1834.6,267.2L1837.7,275.0L1840.9,284.1L1844.1,294.3L1847.4,305.6L1850.6,317.9L1853.9,331.2L1857.2,345.3L1860.5,360.2L1863.8,375.7L1867.2,391.8L1870.6,408.4L1874.0,425.3L1877.4,442.6L1880.8,460.1L1884.2,477.7L1887.7,495.3L1891.2,512.9L1894.7,530.3L1898.2,547.6L1901.8,564.6L1905.3,581.2L1908.9,597.5L1912.5,613.4L1916.1,628.7L1919.7,643.6L1923.3,657.9L1927.0,671.6L1930.7,684.7L1934.4,697.2L1938.1,709.1L1941.8,720.4L1945.5,731.0L1949.3,740.9L1953.0,750.3L1956.8,759.0L1960.6,767.2L1964.4,774.7L1968.2,781.7L1972.0,788.2L1975.9,794.2L1979.8,799.6L1983.6,804.6L1987.5,809.1L1991.4,813.3L1995.4,817.0L1999.3,820.4L2003.2,823.4L2007.2,826.1L2011.2,828.6L2015.2,830.7L2019.2,832.7L2023.2,834.4L2027.2,835.9L2031.2,837.2L2035.3,838.4L2039.3,839.4L2043.4,840.3L2047.5,841.1L2051.6,841.8L2055.7,842.4L2059.8,842.9L2064.0,843.3L2068.1,843.7L2072.3,844.0L2076.5,844.2L2080.6,844.5L2084.8,844.7L2089.0,844.8L2093.3,845.0L2097.5,845.1L2101.7,845.2L2106.0,845.2L2110.2,845.3L2114.5,845.4L2118.8,845.4L2123.1,845.4L2127.4,845.5L2131.7,845.5L2136.1,845.5L2140.4,845.5L2144.7,845.5L2149.1,845.6L2153.5,845.6L2157.9,845.6L2162.2,845.6L2166.7,845.6L2171.1,845.6L2330.5,845.6" stroke="#00f" stroke-width="3.5" stroke-dasharray="13.1 3.4 6.6 3.4"/>
</g>
<g font-family="Liberation Sans, Arial, sans-serif" font-size="48.0" fill="#262626">
<text x="1547.6" y="909.8" text-anchor="middle">580</text>
<text x="1832.3" y="909.8" text-anchor="middle">540</text>
<text x="2117.0" y="909.8" text-anchor="middle">500</text>
<text x="2401.7" y="909.8" text-anchor="middle">460</text>
<text x="1389.7" y="864.2" text-anchor="end">0</text>
<text x="1389.7" y="715.3" text-anchor="end">0.5</text>
<text x="1389.7" y="566.4" text-anchor="end">1</text>
<text x="1389.7" y="417.4" text-anchor="end">1.5</text>
<text x="1389.7" y="268.5" text-anchor="end">2</text>
<text x="1389.7" y="119.6" text-anchor="end">2.5</text>
</g>
<g font-family="Liberation Serif, Times New Roman, serif" font-size="60.8" fill="#262626">
<text x="1903.5" y="979.3" text-anchor="middle">Absolute Temperature (K)</text>
<text transform="translate(1300.0,480.0) rotate(-90)" text-anchor="middle">dX/dt</text>
</g>
<text x="1341" y="64" font-family="Liberation Serif, Times New Roman, serif" font-size="73.5" fill="#000">(b)</text>
<g font-family="Liberation Serif, Times New Roman, serif" font-size="36.8" fill="#000">
<circle cx="2038.0" cy="155.1" r="3.25" fill="none" stroke="#000" stroke-width="1.6"/>
<path d="M1988.0,199.1h100.5" stroke="#f00" stroke-width="3.5" fill="none"/>
<path d="M1988.0,265.1h100.5" stroke="#00f" stroke-width="3.5" stroke-dasharray="13.1 3.4 6.6 3.4" fill="none"/>
<text x="2095.4" y="168.4">dX/dt-Experiment</text>
<text x="2095.4" y="211.8">dX/dt-Model</text>
<text x="2095.4" y="255.8">dX/dt-Model with</text>
<text x="2095.4" y="298.7">Fitted Parameters</text>
</g>
<g font-family="Liberation Serif, Times New Roman, serif" font-size="36.8" fill="#000">
<text x="1455.1" y="665.2">–5K/min</text>
<text x="1483.6" y="534.7">–10K/min</text>
<text x="1554.7" y="430.7">–20K/min</text>
<text x="1632.9" y="281.4">–40K/min</text>
</g>
</g>
<g id="panel-c">
<rect x="158.2" y="1092.8" width="996.4" height="744.6" fill="none" stroke="#262626" stroke-width="1.5"/>
<path d="M407.3,1837.4v-10M407.3,1092.8v10M656.4,1837.4v-10M656.4,1092.8v10M905.5,1837.4v-10M905.5,1092.8v10M158.2,1688.5h10M1154.6,1688.5h-10M158.2,1539.6h10M1154.6,1539.6h-10M158.2,1390.6h10M1154.6,1390.6h-10M158.2,1241.7h10M1154.6,1241.7h-10" fill="none" stroke="#262626" stroke-width="1.5"/>
<clipPath id="clip-c"><rect x="152.2" y="1086.8" width="1008.4" height="756.6"/></clipPath>
<g clip-path="url(#clip-c)" fill="none" stroke-linejoin="round">
<polyline points="569.1,1093.0 582.0,1093.0 614.6,1092.7 663.5,1093.0 679.4,1093.0 698.7,1092.7 749.9,1092.7 767.2,1092.7" stroke="none" marker-start="url(#mk)" marker-mid="url(#mk)" marker-end="url(#mk)"/>
<polyline points="247.3,1837.3 256.5,1837.3 264.6,1836.4 273.2,1834.4 284.1,1830.7 294.5,1823.8 303.2,1814.3 312.4,1802.2 319.9,1787.8 326.2,1773.1 331.4,1758.1 336.6,1741.7 341.5,1722.7 345.8,1703.4 351.3,1678.9 355.3,1651.0 359.0,1627.1 361.6,1606.9 364.2,1587.3 369.7,1558.5 373.7,1521.9 378.9,1480.7 383.0,1436.3 389.0,1384.4 396.0,1323.4 398.5,1279.3 401.7,1254.8 404.9,1228.0 406.9,1206.2 409.2,1193.2 411.5,1178.8 413.8,1164.7 415.8,1152.0 418.7,1139.6 419.3,1132.4 422.5,1124.4 423.6,1117.4 425.9,1112.3 427.9,1107.9 430.2,1103.9 433.1,1100.7 436.0,1098.1 440.0,1095.8 444.6,1094.4 451.0,1093.2 458.2,1092.7 469.4,1092.7 478.0,1092.7" stroke="none" marker-start="url(#mk)" marker-mid="url(#mk)" marker-end="url(#mk)"/>
<path d="M220.5,1837.4L329.4,1837.4L329.9,1837.4L330.5,1837.2L331.3,1836.9L332.2,1836.2L333.1,1835.3L334.1,1834.1L335.1,1832.5L336.2,1830.4L337.3,1828.0L338.5,1825.0L339.7,1821.6L340.9,1817.6L342.2,1813.1L343.5,1808.0L344.8,1802.4L346.1,1796.2L347.5,1789.3L348.9,1781.9L350.3,1773.9L351.8,1765.3L353.2,1756.1L354.7,1746.4L356.2,1736.0L357.7,1725.1L359.3,1713.6L360.8,1701.6L362.4,1689.1L364.0,1676.1L365.6,1662.6L367.2,1648.8L368.9,1634.5L370.6,1619.9L372.2,1604.9L373.9,1589.7L375.6,1574.2L377.4,1558.5L379.1,1542.6L380.9,1526.7L382.6,1510.6L384.4,1494.5L386.2,1478.4L388.0,1462.3L389.8,1446.3L391.6,1430.5L393.5,1414.8L395.3,1399.3L397.2,1384.0L399.1,1369.1L401.0,1354.4L402.9,1340.0L404.8,1326.0L406.7,1312.4L408.7,1299.2L410.6,1286.5L412.6,1274.1L414.6,1262.2L416.5,1250.8L418.5,1239.9L420.5,1229.4L422.5,1219.5L424.6,1210.0L426.6,1201.0L428.6,1192.5L430.7,1184.5L432.8,1176.9L434.8,1169.8L436.9,1163.1L439.0,1156.9L441.1,1151.1L443.2,1145.7L445.3,1140.7L447.4,1136.1L449.6,1131.8L451.7,1127.9L453.9,1124.3L456.0,1121.0L458.2,1117.9L460.4,1115.2L462.6,1112.7L464.8,1110.5L467.0,1108.4L469.2,1106.6L471.4,1104.9L473.6,1103.4L475.9,1102.1L478.1,1100.9L480.4,1099.9L482.6,1099.0L484.9,1098.1L487.2,1097.4L489.4,1096.8L491.7,1096.2L494.0,1095.7L496.3,1095.3L498.6,1094.9L501.0,1094.6L503.3,1094.3L505.6,1094.1L508.0,1093.9L510.3,1093.7L512.7,1093.6L515.0,1093.5L517.4,1093.3L519.8,1093.3L522.2,1093.2L524.6,1093.1L526.9,1093.1L529.4,1093.0L531.8,1093.0L534.2,1092.9L536.6,1092.9L539.0,1092.9L541.5,1092.9L543.9,1092.9L546.4,1092.8L548.8,1092.8L551.3,1092.8L553.7,1092.8L556.2,1092.8L558.7,1092.8L561.2,1092.8L563.7,1092.8L566.2,1092.8L568.7,1092.8L571.2,1092.8L573.7,1092.8L576.2,1092.8L578.8,1092.8L581.3,1092.8L1092.3,1092.8" stroke="#f00" stroke-width="3.5"/>
<path d="M220.5,1837.4L326.4,1837.4L326.8,1837.4L327.4,1837.2L328.1,1836.9L328.9,1836.2L329.7,1835.3L330.6,1834.1L331.5,1832.5L332.5,1830.4L333.5,1828.0L334.5,1825.0L335.6,1821.6L336.7,1817.6L337.8,1813.1L339.0,1808.0L340.1,1802.4L341.3,1796.2L342.6,1789.3L343.8,1781.9L345.1,1773.9L346.3,1765.3L347.6,1756.1L349.0,1746.4L350.3,1736.0L351.7,1725.1L353.0,1713.6L354.4,1701.6L355.8,1689.1L357.3,1676.1L358.7,1662.6L360.2,1648.8L361.6,1634.5L363.1,1619.9L364.6,1604.9L366.1,1589.7L367.6,1574.2L369.2,1558.5L370.7,1542.6L372.3,1526.7L373.9,1510.6L375.5,1494.5L377.1,1478.4L378.7,1462.3L380.3,1446.3L381.9,1430.5L383.6,1414.8L385.2,1399.3L386.9,1384.0L388.6,1369.1L390.3,1354.4L392.0,1340.0L393.7,1326.0L395.4,1312.4L397.1,1299.2L398.9,1286.5L400.6,1274.1L402.4,1262.2L404.1,1250.8L405.9,1239.9L407.7,1229.4L409.5,1219.5L411.3,1210.0L413.1,1201.0L414.9,1192.5L416.8,1184.5L418.6,1176.9L420.4,1169.8L422.3,1163.1L424.2,1156.9L426.0,1151.1L427.9,1145.7L429.8,1140.7L431.7,1136.1L433.6,1131.8L435.5,1127.9L437.4,1124.3L439.4,1121.0L441.3,1117.9L443.2,1115.2L445.2,1112.7L447.1,1110.5L449.1,1108.4L451.1,1106.6L453.1,1104.9L455.1,1103.4L457.0,1102.1L459.0,1100.9L461.1,1099.9L463.1,1099.0L465.1,1098.1L467.1,1097.4L469.2,1096.8L471.2,1096.2L473.2,1095.7L475.3,1095.3L477.4,1094.9L479.4,1094.6L481.5,1094.3L483.6,1094.1L485.7,1093.9L487.8,1093.7L489.9,1093.6L492.0,1093.5L494.1,1093.3L496.2,1093.3L498.3,1093.2L500.5,1093.1L502.6,1093.1L504.7,1093.0L506.9,1093.0L509.1,1092.9L511.2,1092.9L513.4,1092.9L515.6,1092.9L517.7,1092.9L519.9,1092.8L522.1,1092.8L524.3,1092.8L526.5,1092.8L528.7,1092.8L530.9,1092.8L533.1,1092.8L535.4,1092.8L537.6,1092.8L539.8,1092.8L542.1,1092.8L544.3,1092.8L546.6,1092.8L548.8,1092.8L551.1,1092.8L1092.3,1092.8" stroke="#00f" stroke-width="3.5" stroke-dasharray="13.1 3.4 6.6 3.4"/>
<polyline points="329.4,1837.9 340.0,1836.7 349.5,1833.8 358.2,1830.1 364.5,1825.8 370.6,1820.6 374.9,1815.7 381.8,1807.9 385.8,1799.3 392.2,1789.2 395.0,1778.3 399.4,1768.8 403.4,1755.8 406.3,1744.6 408.3,1736.5 411.5,1725.8 413.8,1714.3 416.3,1704.0 419.2,1689.6 421.0,1676.6 423.5,1666.2 427.0,1648.7 428.2,1632.2 431.0,1617.5 433.9,1597.7 436.2,1579.5 437.7,1565.7 440.5,1548.7 442.6,1528.5 444.3,1511.8 447.5,1489.4 451.5,1455.3 458.7,1399.7 465.7,1333.5 470.6,1283.1 472.3,1257.7 475.7,1239.3 477.8,1220.3 480.1,1204.4 481.8,1191.8 484.1,1179.9 486.1,1168.1 487.8,1158.9 489.3,1151.1 490.7,1145.7 491.9,1139.9 493.3,1134.1 494.7,1129.0 496.2,1123.8 497.6,1119.5 499.9,1114.6 501.9,1110.2 504.3,1107.4 506.6,1104.5 509.1,1102.2 512.3,1100.2 515.8,1098.1 520.1,1096.7 528.2,1095.0 535.1,1094.4 545.4,1093.2 557.5,1093.0" stroke="none" marker-start="url(#mk)" marker-mid="url(#mk)" marker-end="url(#mk)"/>
<path d="M220.5,1837.4L403.6,1837.4L404.0,1837.4L404.6,1837.2L405.3,1836.9L406.1,1836.2L406.9,1835.3L407.8,1834.1L408.7,1832.5L409.6,1830.4L410.6,1828.0L411.7,1825.0L412.7,1821.6L413.8,1817.6L415.0,1813.1L416.1,1808.0L417.3,1802.4L418.5,1796.2L419.7,1789.3L420.9,1781.9L422.2,1773.9L423.5,1765.3L424.8,1756.1L426.1,1746.4L427.4,1736.0L428.8,1725.1L430.2,1713.6L431.6,1701.6L433.0,1689.1L434.4,1676.1L435.8,1662.6L437.3,1648.8L438.7,1634.5L440.2,1619.9L441.7,1604.9L443.2,1589.7L444.7,1574.2L446.3,1558.5L447.8,1542.6L449.4,1526.7L451.0,1510.6L452.5,1494.5L454.1,1478.4L455.7,1462.3L457.4,1446.3L459.0,1430.5L460.6,1414.8L462.3,1399.3L464.0,1384.0L465.6,1369.1L467.3,1354.4L469.0,1340.0L470.7,1326.0L472.4,1312.4L474.2,1299.2L475.9,1286.5L477.6,1274.1L479.4,1262.2L481.2,1250.8L482.9,1239.9L484.7,1229.4L486.5,1219.5L488.3,1210.0L490.1,1201.0L491.9,1192.5L493.8,1184.5L495.6,1176.9L497.4,1169.8L499.3,1163.1L501.2,1156.9L503.0,1151.1L504.9,1145.7L506.8,1140.7L508.7,1136.1L510.6,1131.8L512.5,1127.9L514.4,1124.3L516.3,1121.0L518.3,1117.9L520.2,1115.2L522.2,1112.7L524.1,1110.5L526.1,1108.4L528.0,1106.6L530.0,1104.9L532.0,1103.4L534.0,1102.1L536.0,1100.9L538.0,1099.9L540.0,1099.0L542.0,1098.1L544.0,1097.4L546.1,1096.8L548.1,1096.2L550.2,1095.7L552.2,1095.3L554.3,1094.9L556.3,1094.6L558.4,1094.3L560.5,1094.1L562.6,1093.9L564.7,1093.7L566.8,1093.6L568.9,1093.5L571.0,1093.3L573.1,1093.3L575.2,1093.2L577.3,1093.1L579.5,1093.1L581.6,1093.0L583.8,1093.0L585.9,1092.9L588.1,1092.9L590.2,1092.9L592.4,1092.9L594.6,1092.9L596.8,1092.8L598.9,1092.8L601.1,1092.8L603.3,1092.8L605.5,1092.8L607.7,1092.8L610.0,1092.8L612.2,1092.8L614.4,1092.8L616.6,1092.8L618.9,1092.8L621.1,1092.8L623.4,1092.8L625.6,1092.8L627.9,1092.8L1092.3,1092.8" stroke="#f00" stroke-width="3.5"/>
<path d="M220.5,1837.4L400.5,1837.4L400.9,1837.4L401.6,1837.2L402.3,1836.9L403.1,1836.2L404.0,1835.3L405.0,1834.1L406.0,1832.5L407.0,1830.4L408.1,1828.0L409.3,1825.0L410.4,1821.6L411.6,1817.6L412.8,1813.1L414.1,1808.0L415.3,1802.4L416.7,1796.2L418.0,1789.3L419.3,1781.9L420.7,1773.9L422.1,1765.3L423.5,1756.1L424.9,1746.4L426.4,1736.0L427.9,1725.1L429.4,1713.6L430.9,1701.6L432.4,1689.1L434.0,1676.1L435.5,1662.6L437.1,1648.8L438.7,1634.5L440.3,1619.9L441.9,1604.9L443.6,1589.7L445.2,1574.2L446.9,1558.5L448.6,1542.6L450.3,1526.7L452.0,1510.6L453.7,1494.5L455.5,1478.4L457.2,1462.3L459.0,1446.3L460.7,1430.5L462.5,1414.8L464.3,1399.3L466.1,1384.0L468.0,1369.1L469.8,1354.4L471.6,1340.0L473.5,1326.0L475.4,1312.4L477.2,1299.2L479.1,1286.5L481.0,1274.1L482.9,1262.2L484.9,1250.8L486.8,1239.9L488.7,1229.4L490.7,1219.5L492.6,1210.0L494.6,1201.0L496.6,1192.5L498.6,1184.5L500.6,1176.9L502.6,1169.8L504.6,1163.1L506.6,1156.9L508.7,1151.1L510.7,1145.7L512.8,1140.7L514.8,1136.1L516.9,1131.8L519.0,1127.9L521.0,1124.3L523.1,1121.0L525.2,1117.9L527.4,1115.2L529.5,1112.7L531.6,1110.5L533.7,1108.4L535.9,1106.6L538.0,1104.9L540.2,1103.4L542.4,1102.1L544.5,1100.9L546.7,1099.9L548.9,1099.0L551.1,1098.1L553.3,1097.4L555.5,1096.8L557.7,1096.2L560.0,1095.7L562.2,1095.3L564.4,1094.9L566.7,1094.6L568.9,1094.3L571.2,1094.1L573.5,1093.9L575.7,1093.7L578.0,1093.6L580.3,1093.5L582.6,1093.3L584.9,1093.3L587.2,1093.2L589.5,1093.1L591.8,1093.1L594.2,1093.0L596.5,1093.0L598.8,1092.9L601.2,1092.9L603.6,1092.9L605.9,1092.9L608.3,1092.9L610.7,1092.8L613.0,1092.8L615.4,1092.8L617.8,1092.8L620.2,1092.8L622.6,1092.8L625.0,1092.8L627.4,1092.8L629.9,1092.8L632.3,1092.8L634.7,1092.8L637.2,1092.8L639.6,1092.8L642.0,1092.8L644.5,1092.8L1092.3,1092.8" stroke="#00f" stroke-width="3.5" stroke-dasharray="13.1 3.4 6.6 3.4"/>
<polyline points="343.8,1837.9 360.2,1837.9 373.1,1837.3 383.5,1835.0 394.2,1831.5 400.8,1827.8 406.3,1823.8 411.7,1819.2 418.4,1812.8 423.0,1806.5 427.3,1799.9 431.6,1792.1 435.4,1784.6 439.4,1776.0 442.3,1767.3 444.9,1759.5 447.5,1751.5 450.0,1742.8 454.7,1730.2 457.5,1715.8 459.8,1703.7 463.9,1688.7 467.0,1671.4 469.3,1656.4 472.2,1641.2 474.2,1625.9 477.1,1609.5 479.7,1591.6 481.4,1576.9 483.5,1564.3 486.3,1547.3 488.4,1528.5 490.1,1514.7 493.5,1495.4 498.4,1460.9 503.1,1417.8 508.9,1373.5 514.9,1327.7 516.9,1296.3 520.4,1275.3 521.5,1258.3 523.3,1249.1 525.0,1237.0 526.1,1226.6 527.0,1219.7 529.9,1208.2 531.0,1196.6 532.2,1190.3 533.6,1183.7 534.8,1177.1 535.9,1171.3 536.8,1165.0 537.9,1157.8 539.4,1150.9 540.8,1144.8 542.3,1139.9 544.0,1133.9 545.7,1128.1 548.0,1122.3 550.3,1117.4 552.9,1112.5 556.1,1107.9 559.6,1104.5 563.3,1101.6 566.8,1099.3 571.4,1097.3 577.7,1095.8 586.3,1094.4 593.5,1093.2 603.6,1092.7" stroke="none" marker-start="url(#mk)" marker-mid="url(#mk)" marker-end="url(#mk)"/>
<path d="M220.5,1837.4L441.8,1837.4L442.3,1837.4L443.0,1837.2L443.9,1836.9L444.8,1836.2L445.8,1835.3L446.9,1834.1L448.0,1832.5L449.2,1830.4L450.4,1828.0L451.6,1825.0L452.9,1821.6L454.3,1817.6L455.6,1813.1L457.0,1808.0L458.4,1802.4L459.9,1796.2L461.4,1789.3L462.9,1781.9L464.4,1773.9L466.0,1765.3L467.6,1756.1L469.2,1746.4L470.8,1736.0L472.4,1725.1L474.1,1713.6L475.8,1701.6L477.5,1689.1L479.2,1676.1L481.0,1662.6L482.7,1648.8L484.5,1634.5L486.3,1619.9L488.1,1604.9L490.0,1589.7L491.8,1574.2L493.7,1558.5L495.6,1542.6L497.5,1526.7L499.4,1510.6L501.3,1494.5L503.2,1478.4L505.2,1462.3L507.2,1446.3L509.1,1430.5L511.1,1414.8L513.1,1399.3L515.2,1384.0L517.2,1369.1L519.3,1354.4L521.3,1340.0L523.4,1326.0L525.5,1312.4L527.6,1299.2L529.7,1286.5L531.8,1274.1L533.9,1262.2L536.1,1250.8L538.2,1239.9L540.4,1229.4L542.6,1219.5L544.8,1210.0L547.0,1201.0L549.2,1192.5L551.4,1184.5L553.6,1176.9L555.9,1169.8L558.1,1163.1L560.4,1156.9L562.6,1151.1L564.9,1145.7L567.2,1140.7L569.5,1136.1L571.8,1131.8L574.1,1127.9L576.5,1124.3L578.8,1121.0L581.2,1117.9L583.5,1115.2L585.9,1112.7L588.3,1110.5L590.6,1108.4L593.0,1106.6L595.4,1104.9L597.9,1103.4L600.3,1102.1L602.7,1100.9L605.1,1099.9L607.6,1099.0L610.0,1098.1L612.5,1097.4L615.0,1096.8L617.4,1096.2L619.9,1095.7L622.4,1095.3L624.9,1094.9L627.4,1094.6L629.9,1094.3L632.5,1094.1L635.0,1093.9L637.5,1093.7L640.1,1093.6L642.6,1093.5L645.2,1093.3L647.8,1093.3L650.4,1093.2L652.9,1093.1L655.5,1093.1L658.1,1093.0L660.7,1093.0L663.4,1092.9L666.0,1092.9L668.6,1092.9L671.2,1092.9L673.9,1092.9L676.5,1092.8L679.2,1092.8L681.9,1092.8L684.5,1092.8L687.2,1092.8L689.9,1092.8L692.6,1092.8L695.3,1092.8L698.0,1092.8L700.7,1092.8L703.4,1092.8L706.1,1092.8L708.9,1092.8L711.6,1092.8L714.3,1092.8L1092.3,1092.8" stroke="#f00" stroke-width="3.5"/>
<path d="M220.5,1837.4L446.6,1837.4L447.1,1837.4L447.8,1837.2L448.7,1836.9L449.6,1836.2L450.6,1835.3L451.6,1834.1L452.7,1832.5L453.9,1830.4L455.1,1828.0L456.3,1825.0L457.6,1821.6L458.9,1817.6L460.3,1813.1L461.6,1808.0L463.0,1802.4L464.5,1796.2L465.9,1789.3L467.4,1781.9L468.9,1773.9L470.5,1765.3L472.0,1756.1L473.6,1746.4L475.2,1736.0L476.9,1725.1L478.5,1713.6L480.2,1701.6L481.9,1689.1L483.6,1676.1L485.3,1662.6L487.0,1648.8L488.8,1634.5L490.6,1619.9L492.3,1604.9L494.2,1589.7L496.0,1574.2L497.8,1558.5L499.7,1542.6L501.5,1526.7L503.4,1510.6L505.3,1494.5L507.2,1478.4L509.2,1462.3L511.1,1446.3L513.1,1430.5L515.0,1414.8L517.0,1399.3L519.0,1384.0L521.0,1369.1L523.1,1354.4L525.1,1340.0L527.1,1326.0L529.2,1312.4L531.3,1299.2L533.3,1286.5L535.4,1274.1L537.5,1262.2L539.7,1250.8L541.8,1239.9L543.9,1229.4L546.1,1219.5L548.2,1210.0L550.4,1201.0L552.6,1192.5L554.8,1184.5L557.0,1176.9L559.2,1169.8L561.4,1163.1L563.6,1156.9L565.9,1151.1L568.1,1145.7L570.4,1140.7L572.7,1136.1L574.9,1131.8L577.2,1127.9L579.5,1124.3L581.8,1121.0L584.2,1117.9L586.5,1115.2L588.8,1112.7L591.2,1110.5L593.5,1108.4L595.9,1106.6L598.2,1104.9L600.6,1103.4L603.0,1102.1L605.4,1100.9L607.8,1099.9L610.2,1099.0L612.6,1098.1L615.1,1097.4L617.5,1096.8L620.0,1096.2L622.4,1095.7L624.9,1095.3L627.3,1094.9L629.8,1094.6L632.3,1094.3L634.8,1094.1L637.3,1093.9L639.8,1093.7L642.3,1093.6L644.8,1093.5L647.4,1093.3L649.9,1093.3L652.4,1093.2L655.0,1093.1L657.6,1093.1L660.1,1093.0L662.7,1093.0L665.3,1092.9L667.9,1092.9L670.5,1092.9L673.1,1092.9L675.7,1092.9L678.3,1092.8L680.9,1092.8L683.5,1092.8L686.2,1092.8L688.8,1092.8L691.5,1092.8L694.1,1092.8L696.8,1092.8L699.4,1092.8L702.1,1092.8L704.8,1092.8L707.5,1092.8L710.2,1092.8L712.9,1092.8L715.6,1092.8L1092.3,1092.8" stroke="#00f" stroke-width="3.5" stroke-dasharray="13.1 3.4 6.6 3.4"/>
<polyline points="375.4,1837.3 385.5,1837.3 406.3,1835.9 417.8,1831.5 425.3,1828.1 431.6,1824.3 439.4,1819.2 445.4,1813.4 450.3,1807.9 453.8,1802.7 460.4,1794.1 468.5,1779.7 471.9,1771.1 473.7,1766.2 475.7,1760.4 478.6,1753.8 482.0,1745.1 484.6,1735.9 487.8,1726.7 490.1,1716.9 493.0,1705.4 494.4,1696.8 496.4,1689.8 498.1,1681.8 501.6,1668.5 504.5,1651.5 506.5,1638.6 509.7,1624.7 511.7,1610.1 514.3,1596.8 517.7,1577.2 519.5,1560.2 520.9,1549.9 524.9,1530.9 528.1,1504.9 532.4,1477.3 535.4,1448.7 542.3,1410.4 549.2,1359.7 554.4,1318.5 556.4,1295.1 558.4,1281.9 559.8,1268.9 562.1,1255.4 564.2,1242.7 566.2,1231.5 567.9,1221.1 569.6,1211.9 571.4,1203.8 574.0,1192.9 575.4,1182.2 576.3,1177.1 577.7,1171.3 581.4,1162.1 582.9,1155.5 583.5,1150.6 586.0,1143.4 588.1,1137.6 590.1,1132.7 592.1,1126.1 594.4,1122.3 596.7,1118.3 599.9,1114.0 603.0,1110.2 607.4,1106.8 611.7,1103.6 618.0,1100.7 626.7,1099.0 635.3,1096.7 638.2,1092.7" stroke="none" marker-start="url(#mk)" marker-mid="url(#mk)" marker-end="url(#mk)"/>
<path d="M220.5,1837.4L474.8,1837.4L475.3,1837.4L476.1,1837.2L477.0,1836.9L477.9,1836.2L479.0,1835.3L480.1,1834.1L481.3,1832.5L482.5,1830.4L483.7,1828.0L485.1,1825.0L486.4,1821.6L487.8,1817.6L489.2,1813.1L490.7,1808.0L492.1,1802.4L493.7,1796.2L495.2,1789.3L496.8,1781.9L498.4,1773.9L500.0,1765.3L501.6,1756.1L503.3,1746.4L505.0,1736.0L506.7,1725.1L508.5,1713.6L510.2,1701.6L512.0,1689.1L513.8,1676.1L515.6,1662.6L517.5,1648.8L519.3,1634.5L521.2,1619.9L523.1,1604.9L525.0,1589.7L526.9,1574.2L528.9,1558.5L530.8,1542.6L532.8,1526.7L534.8,1510.6L536.8,1494.5L538.8,1478.4L540.9,1462.3L542.9,1446.3L545.0,1430.5L547.1,1414.8L549.1,1399.3L551.3,1384.0L553.4,1369.1L555.5,1354.4L557.7,1340.0L559.8,1326.0L562.0,1312.4L564.2,1299.2L566.4,1286.5L568.6,1274.1L570.8,1262.2L573.0,1250.8L575.3,1239.9L577.5,1229.4L579.8,1219.5L582.1,1210.0L584.4,1201.0L586.7,1192.5L589.0,1184.5L591.3,1176.9L593.6,1169.8L596.0,1163.1L598.4,1156.9L600.7,1151.1L603.1,1145.7L605.5,1140.7L607.9,1136.1L610.3,1131.8L612.7,1127.9L615.1,1124.3L617.6,1121.0L620.0,1117.9L622.5,1115.2L624.9,1112.7L627.4,1110.5L629.9,1108.4L632.4,1106.6L634.9,1104.9L637.4,1103.4L639.9,1102.1L642.4,1100.9L645.0,1099.9L647.5,1099.0L650.1,1098.1L652.7,1097.4L655.2,1096.8L657.8,1096.2L660.4,1095.7L663.0,1095.3L665.6,1094.9L668.2,1094.6L670.8,1094.3L673.5,1094.1L676.1,1093.9L678.8,1093.7L681.4,1093.6L684.1,1093.5L686.7,1093.3L689.4,1093.3L692.1,1093.2L694.8,1093.1L697.5,1093.1L700.2,1093.0L702.9,1093.0L705.7,1092.9L708.4,1092.9L711.1,1092.9L713.9,1092.9L716.6,1092.9L719.4,1092.8L722.2,1092.8L724.9,1092.8L727.7,1092.8L730.5,1092.8L733.3,1092.8L736.1,1092.8L738.9,1092.8L741.7,1092.8L744.6,1092.8L747.4,1092.8L750.2,1092.8L753.1,1092.8L755.9,1092.8L758.8,1092.8L1092.3,1092.8" stroke="#f00" stroke-width="3.5"/>
<path d="M220.5,1837.4L477.7,1837.4L478.2,1837.4L479.0,1837.2L479.9,1836.9L480.9,1836.2L482.0,1835.3L483.1,1834.1L484.3,1832.5L485.6,1830.4L486.9,1828.0L488.2,1825.0L489.6,1821.6L491.0,1817.6L492.5,1813.1L494.0,1808.0L495.5,1802.4L497.1,1796.2L498.7,1789.3L500.3,1781.9L501.9,1773.9L503.6,1765.3L505.3,1756.1L507.0,1746.4L508.7,1736.0L510.5,1725.1L512.3,1713.6L514.1,1701.6L515.9,1689.1L517.8,1676.1L519.7,1662.6L521.6,1648.8L523.5,1634.5L525.4,1619.9L527.4,1604.9L529.3,1589.7L531.3,1574.2L533.3,1558.5L535.3,1542.6L537.3,1526.7L539.4,1510.6L541.5,1494.5L543.5,1478.4L545.6,1462.3L547.7,1446.3L549.9,1430.5L552.0,1414.8L554.2,1399.3L556.3,1384.0L558.5,1369.1L560.7,1354.4L562.9,1340.0L565.1,1326.0L567.4,1312.4L569.6,1299.2L571.9,1286.5L574.2,1274.1L576.5,1262.2L578.8,1250.8L581.1,1239.9L583.4,1229.4L585.7,1219.5L588.1,1210.0L590.4,1201.0L592.8,1192.5L595.2,1184.5L597.6,1176.9L600.0,1169.8L602.4,1163.1L604.8,1156.9L607.3,1151.1L609.7,1145.7L612.2,1140.7L614.6,1136.1L617.1,1131.8L619.6,1127.9L622.1,1124.3L624.6,1121.0L627.1,1117.9L629.6,1115.2L632.2,1112.7L634.7,1110.5L637.3,1108.4L639.8,1106.6L642.4,1104.9L645.0,1103.4L647.6,1102.1L650.2,1100.9L652.8,1099.9L655.4,1099.0L658.1,1098.1L660.7,1097.4L663.4,1096.8L666.0,1096.2L668.7,1095.7L671.4,1095.3L674.0,1094.9L676.7,1094.6L679.4,1094.3L682.1,1094.1L684.8,1093.9L687.6,1093.7L690.3,1093.6L693.0,1093.5L695.8,1093.3L698.6,1093.3L701.3,1093.2L704.1,1093.1L706.9,1093.1L709.7,1093.0L712.5,1093.0L715.3,1092.9L718.1,1092.9L720.9,1092.9L723.7,1092.9L726.6,1092.9L729.4,1092.8L732.2,1092.8L735.1,1092.8L738.0,1092.8L740.8,1092.8L743.7,1092.8L746.6,1092.8L749.5,1092.8L752.4,1092.8L755.3,1092.8L758.2,1092.8L761.1,1092.8L764.1,1092.8L767.0,1092.8L769.9,1092.8L1092.3,1092.8" stroke="#00f" stroke-width="3.5" stroke-dasharray="13.1 3.4 6.6 3.4"/>
<polyline points="428.7,1837.9 441.1,1837.3 450.3,1836.7 459.0,1834.4 467.3,1832.1 475.7,1828.7 482.9,1824.3 488.4,1820.0 493.0,1816.3 497.0,1812.8 500.2,1809.9 502.8,1806.5 505.9,1802.7 508.8,1799.0 511.7,1794.1 514.6,1789.2 516.6,1785.5 518.9,1780.6 520.9,1776.2 523.2,1771.1 525.2,1765.9 527.2,1760.4 529.0,1755.2 531.3,1748.9 533.3,1743.1 535.3,1737.1 537.3,1730.7 539.6,1723.5 541.6,1717.8 543.9,1710.6 545.7,1706.3 547.7,1699.1 551.1,1688.4 552.6,1678.9 554.6,1671.1 556.3,1661.6 558.3,1653.0 561.5,1640.9 563.2,1629.4 565.0,1619.9 566.7,1609.8 568.4,1601.7 570.1,1592.5 572.2,1581.8 573.9,1570.9 576.8,1557.9 579.1,1542.4 580.8,1529.1 584.3,1513.3 587.1,1494.6 590.9,1473.8 594.4,1449.8 599.9,1418.4 605.3,1383.3 608.5,1357.1 610.8,1339.2 612.3,1329.1 614.9,1318.2 616.6,1304.4 619.2,1292.6 620.9,1280.7 622.3,1271.8 624.4,1261.7 626.4,1251.1 628.4,1242.2 630.1,1232.6 631.6,1224.9 632.7,1218.2 634.4,1211.0 635.9,1203.8 637.3,1197.2 638.5,1190.9 640.2,1185.1 641.6,1179.4 643.4,1173.6 645.7,1166.4 647.7,1160.6 649.7,1155.5 651.7,1150.0 653.7,1144.8 656.0,1139.9 658.3,1134.7 661.2,1129.5 664.1,1124.6 667.0,1120.3 670.4,1116.0 673.6,1112.3 677.6,1108.8 681.4,1105.9 685.7,1103.0 690.0,1100.7 697.2,1098.7 703.8,1096.7 711.6,1095.8 720.3,1093.5 738.4,1092.7" stroke="none" marker-start="url(#mk)" marker-mid="url(#mk)" marker-end="url(#mk)"/>
<path d="M220.5,1837.4L518.3,1837.4L518.9,1837.4L519.8,1837.2L520.8,1836.9L522.0,1836.2L523.3,1835.3L524.6,1834.1L526.0,1832.5L527.5,1830.4L529.0,1828.0L530.5,1825.0L532.2,1821.6L533.8,1817.6L535.5,1813.1L537.3,1808.0L539.0,1802.4L540.9,1796.2L542.7,1789.3L544.6,1781.9L546.5,1773.9L548.5,1765.3L550.4,1756.1L552.4,1746.4L554.5,1736.0L556.5,1725.1L558.6,1713.6L560.7,1701.6L562.9,1689.1L565.0,1676.1L567.2,1662.6L569.4,1648.8L571.6,1634.5L573.9,1619.9L576.1,1604.9L578.4,1589.7L580.7,1574.2L583.1,1558.5L585.4,1542.6L587.8,1526.7L590.2,1510.6L592.6,1494.5L595.0,1478.4L597.4,1462.3L599.9,1446.3L602.4,1430.5L604.9,1414.8L607.4,1399.3L609.9,1384.0L612.5,1369.1L615.0,1354.4L617.6,1340.0L620.2,1326.0L622.8,1312.4L625.4,1299.2L628.0,1286.5L630.7,1274.1L633.3,1262.2L636.0,1250.8L638.7,1239.9L641.4,1229.4L644.1,1219.5L646.9,1210.0L649.6,1201.0L652.4,1192.5L655.2,1184.5L657.9,1176.9L660.7,1169.8L663.6,1163.1L666.4,1156.9L669.2,1151.1L672.1,1145.7L674.9,1140.7L677.8,1136.1L680.7,1131.8L683.6,1127.9L686.5,1124.3L689.4,1121.0L692.4,1117.9L695.3,1115.2L698.3,1112.7L701.2,1110.5L704.2,1108.4L707.2,1106.6L710.2,1104.9L713.2,1103.4L716.2,1102.1L719.3,1100.9L722.3,1099.9L725.4,1099.0L728.4,1098.1L731.5,1097.4L734.6,1096.8L737.7,1096.2L740.8,1095.7L743.9,1095.3L747.0,1094.9L750.2,1094.6L753.3,1094.3L756.5,1094.1L759.6,1093.9L762.8,1093.7L766.0,1093.6L769.2,1093.5L772.4,1093.3L775.6,1093.3L778.8,1093.2L782.0,1093.1L785.3,1093.1L788.5,1093.0L791.8,1093.0L795.0,1092.9L798.3,1092.9L801.6,1092.9L804.9,1092.9L808.2,1092.9L811.5,1092.8L814.8,1092.8L818.2,1092.8L821.5,1092.8L824.8,1092.8L828.2,1092.8L831.6,1092.8L834.9,1092.8L838.3,1092.8L841.7,1092.8L845.1,1092.8L848.5,1092.8L851.9,1092.8L855.3,1092.8L858.7,1092.8L1092.3,1092.8" stroke="#f00" stroke-width="3.5"/>
<path d="M220.5,1837.4L521.0,1837.4L521.6,1837.4L522.5,1837.2L523.5,1836.9L524.6,1836.2L525.8,1835.3L527.1,1834.1L528.5,1832.5L529.9,1830.4L531.4,1828.0L532.9,1825.0L534.5,1821.6L536.1,1817.6L537.7,1813.1L539.4,1808.0L541.1,1802.4L542.9,1796.2L544.7,1789.3L546.5,1781.9L548.4,1773.9L550.3,1765.3L552.2,1756.1L554.1,1746.4L556.1,1736.0L558.1,1725.1L560.1,1713.6L562.2,1701.6L564.3,1689.1L566.4,1676.1L568.5,1662.6L570.6,1648.8L572.8,1634.5L575.0,1619.9L577.2,1604.9L579.4,1589.7L581.6,1574.2L583.9,1558.5L586.2,1542.6L588.5,1526.7L590.8,1510.6L593.1,1494.5L595.5,1478.4L597.8,1462.3L600.2,1446.3L602.6,1430.5L605.0,1414.8L607.5,1399.3L609.9,1384.0L612.4,1369.1L614.9,1354.4L617.4,1340.0L619.9,1326.0L622.4,1312.4L625.0,1299.2L627.5,1286.5L630.1,1274.1L632.7,1262.2L635.3,1250.8L637.9,1239.9L640.5,1229.4L643.2,1219.5L645.8,1210.0L648.5,1201.0L651.2,1192.5L653.9,1184.5L656.6,1176.9L659.3,1169.8L662.0,1163.1L664.8,1156.9L667.5,1151.1L670.3,1145.7L673.1,1140.7L675.9,1136.1L678.7,1131.8L681.5,1127.9L684.3,1124.3L687.1,1121.0L690.0,1117.9L692.8,1115.2L695.7,1112.7L698.6,1110.5L701.5,1108.4L704.4,1106.6L707.3,1104.9L710.2,1103.4L713.1,1102.1L716.1,1100.9L719.0,1099.9L722.0,1099.0L725.0,1098.1L728.0,1097.4L731.0,1096.8L734.0,1096.2L737.0,1095.7L740.0,1095.3L743.0,1094.9L746.1,1094.6L749.1,1094.3L752.2,1094.1L755.3,1093.9L758.4,1093.7L761.4,1093.6L764.5,1093.5L767.7,1093.3L770.8,1093.3L773.9,1093.2L777.0,1093.1L780.2,1093.1L783.3,1093.0L786.5,1093.0L789.7,1092.9L792.8,1092.9L796.0,1092.9L799.2,1092.9L802.4,1092.9L805.6,1092.8L808.9,1092.8L812.1,1092.8L815.3,1092.8L818.6,1092.8L821.8,1092.8L825.1,1092.8L828.4,1092.8L831.7,1092.8L834.9,1092.8L838.2,1092.8L841.5,1092.8L844.9,1092.8L848.2,1092.8L851.5,1092.8L1092.3,1092.8" stroke="#00f" stroke-width="3.5" stroke-dasharray="13.1 3.4 6.6 3.4"/>
<polyline points="472.5,1837.9 479.1,1837.9 485.8,1837.3 493.0,1835.9 497.9,1834.4 505.1,1833.0 509.4,1831.0 514.3,1829.2 519.5,1826.6 523.8,1824.3 528.1,1821.5 532.4,1818.0 536.7,1814.3 541.1,1809.4 543.9,1805.6 547.7,1801.3 550.6,1797.0 553.4,1792.7 556.3,1787.8 559.2,1782.6 562.1,1776.8 565.0,1771.1 567.0,1766.2 569.9,1761.0 572.2,1755.2 574.8,1748.9 577.1,1742.3 579.1,1736.5 581.4,1730.2 583.7,1723.5 586.6,1714.9 589.2,1705.7 592.3,1695.3 595.2,1683.2 597.2,1673.7 600.7,1662.5 603.6,1648.9 606.7,1634.8 609.3,1622.7 612.5,1609.8 615.7,1594.2 618.8,1578.7 621.1,1564.6 624.0,1551.3 627.5,1534.0 632.4,1511.0 634.4,1491.1 638.4,1474.4 643.9,1446.9 650.6,1413.2 654.0,1384.7 657.2,1365.1 660.6,1347.0 662.9,1332.6 665.5,1319.6 669.0,1305.5 670.7,1295.4 671.9,1287.4 674.5,1277.3 676.5,1267.2 677.9,1260.0 679.4,1252.8 680.5,1245.6 682.0,1238.4 684.3,1231.2 686.0,1223.1 687.4,1215.4 689.2,1209.6 690.6,1203.8 692.3,1197.2 693.8,1190.9 695.2,1185.1 697.2,1179.4 699.2,1172.7 701.5,1166.4 703.8,1160.6 705.3,1155.7 707.3,1151.1 709.6,1146.2 711.9,1141.3 714.5,1136.2 716.8,1131.8 719.7,1127.5 723.1,1122.6 726.9,1118.3 730.3,1114.6 734.1,1111.1 738.4,1107.9 743.3,1105.1 747.6,1102.5 752.8,1100.2 759.1,1098.1 766.3,1096.4 775.0,1094.4 782.2,1093.2 790.8,1092.7 799.5,1092.7 812.4,1092.7" stroke="none" marker-start="url(#mk)" marker-mid="url(#mk)" marker-end="url(#mk)"/>
<path d="M220.5,1837.4L560.5,1837.4L561.1,1837.4L562.1,1837.2L563.2,1836.9L564.5,1836.2L565.8,1835.3L567.2,1834.1L568.7,1832.5L570.3,1830.4L571.9,1828.0L573.6,1825.0L575.3,1821.6L577.1,1817.6L578.9,1813.1L580.7,1808.0L582.6,1802.4L584.6,1796.2L586.6,1789.3L588.6,1781.9L590.6,1773.9L592.7,1765.3L594.8,1756.1L596.9,1746.4L599.1,1736.0L601.3,1725.1L603.5,1713.6L605.8,1701.6L608.1,1689.1L610.4,1676.1L612.7,1662.6L615.0,1648.8L617.4,1634.5L619.8,1619.9L622.2,1604.9L624.7,1589.7L627.2,1574.2L629.6,1558.5L632.1,1542.6L634.7,1526.7L637.2,1510.6L639.8,1494.5L642.4,1478.4L645.0,1462.3L647.6,1446.3L650.3,1430.5L652.9,1414.8L655.6,1399.3L658.3,1384.0L661.0,1369.1L663.7,1354.4L666.5,1340.0L669.2,1326.0L672.0,1312.4L674.8,1299.2L677.6,1286.5L680.5,1274.1L683.3,1262.2L686.2,1250.8L689.0,1239.9L691.9,1229.4L694.8,1219.5L697.8,1210.0L700.7,1201.0L703.6,1192.5L706.6,1184.5L709.6,1176.9L712.6,1169.8L715.6,1163.1L718.6,1156.9L721.6,1151.1L724.6,1145.7L727.7,1140.7L730.8,1136.1L733.9,1131.8L736.9,1127.9L740.1,1124.3L743.2,1121.0L746.3,1117.9L749.4,1115.2L752.6,1112.7L755.8,1110.5L758.9,1108.4L762.1,1106.6L765.3,1104.9L768.6,1103.4L771.8,1102.1L775.0,1100.9L778.3,1099.9L781.5,1099.0L784.8,1098.1L788.1,1097.4L791.4,1096.8L794.7,1096.2L798.0,1095.7L801.3,1095.3L804.7,1094.9L808.0,1094.6L811.4,1094.3L814.7,1094.1L818.1,1093.9L821.5,1093.7L824.9,1093.6L828.3,1093.5L831.7,1093.3L835.1,1093.3L838.6,1093.2L842.0,1093.1L845.5,1093.1L849.0,1093.0L852.4,1093.0L855.9,1092.9L859.4,1092.9L862.9,1092.9L866.4,1092.9L870.0,1092.9L873.5,1092.8L877.0,1092.8L880.6,1092.8L884.2,1092.8L887.7,1092.8L891.3,1092.8L894.9,1092.8L898.5,1092.8L902.1,1092.8L905.7,1092.8L909.3,1092.8L913.0,1092.8L916.6,1092.8L920.3,1092.8L923.9,1092.8L1092.3,1092.8" stroke="#f00" stroke-width="3.5"/>
<path d="M220.5,1837.4L552.8,1837.4L553.5,1837.4L554.4,1837.2L555.6,1836.9L556.8,1836.2L558.1,1835.3L559.5,1834.1L561.0,1832.5L562.6,1830.4L564.2,1828.0L565.9,1825.0L567.6,1821.6L569.4,1817.6L571.2,1813.1L573.0,1808.0L574.9,1802.4L576.9,1796.2L578.8,1789.3L580.8,1781.9L582.9,1773.9L585.0,1765.3L587.1,1756.1L589.2,1746.4L591.4,1736.0L593.5,1725.1L595.8,1713.6L598.0,1701.6L600.3,1689.1L602.6,1676.1L604.9,1662.6L607.2,1648.8L609.6,1634.5L612.0,1619.9L614.4,1604.9L616.9,1589.7L619.3,1574.2L621.8,1558.5L624.3,1542.6L626.8,1526.7L629.4,1510.6L631.9,1494.5L634.5,1478.4L637.1,1462.3L639.7,1446.3L642.4,1430.5L645.0,1414.8L647.7,1399.3L650.4,1384.0L653.1,1369.1L655.8,1354.4L658.5,1340.0L661.3,1326.0L664.1,1312.4L666.9,1299.2L669.7,1286.5L672.5,1274.1L675.3,1262.2L678.2,1250.8L681.0,1239.9L683.9,1229.4L686.8,1219.5L689.7,1210.0L692.6,1201.0L695.6,1192.5L698.5,1184.5L701.5,1176.9L704.5,1169.8L707.5,1163.1L710.5,1156.9L713.5,1151.1L716.5,1145.7L719.6,1140.7L722.6,1136.1L725.7,1131.8L728.8,1127.9L731.9,1124.3L735.0,1121.0L738.1,1117.9L741.3,1115.2L744.4,1112.7L747.6,1110.5L750.7,1108.4L753.9,1106.6L757.1,1104.9L760.3,1103.4L763.5,1102.1L766.8,1100.9L770.0,1099.9L773.3,1099.0L776.5,1098.1L779.8,1097.4L783.1,1096.8L786.4,1096.2L789.7,1095.7L793.0,1095.3L796.3,1094.9L799.7,1094.6L803.0,1094.3L806.4,1094.1L809.7,1093.9L813.1,1093.7L816.5,1093.6L819.9,1093.5L823.3,1093.3L826.7,1093.3L830.2,1093.2L833.6,1093.1L837.0,1093.1L840.5,1093.0L844.0,1093.0L847.4,1092.9L850.9,1092.9L854.4,1092.9L857.9,1092.9L861.4,1092.9L865.0,1092.8L868.5,1092.8L872.0,1092.8L875.6,1092.8L879.2,1092.8L882.7,1092.8L886.3,1092.8L889.9,1092.8L893.5,1092.8L897.1,1092.8L900.7,1092.8L904.3,1092.8L908.0,1092.8L911.6,1092.8L915.2,1092.8L1092.3,1092.8" stroke="#00f" stroke-width="3.5" stroke-dasharray="13.1 3.4 6.6 3.4"/>
</g>
<g font-family="Liberation Sans, Arial, sans-serif" font-size="48.0" fill="#262626">
<text x="158.2" y="1901.6" text-anchor="middle">480</text>
<text x="407.3" y="1901.6" text-anchor="middle">460</text>
<text x="656.4" y="1901.6" text-anchor="middle">440</text>
<text x="905.5" y="1901.6" text-anchor="middle">420</text>
<text x="1154.6" y="1901.6" text-anchor="middle">400</text>
<text x="142.6" y="1856.0" text-anchor="end">0</text>
<text x="142.6" y="1707.1" text-anchor="end">0.2</text>
<text x="142.6" y="1558.2" text-anchor="end">0.4</text>
<text x="142.6" y="1409.2" text-anchor="end">0.6</text>
<text x="142.6" y="1260.3" text-anchor="end">0.8</text>
<text x="142.6" y="1111.4" text-anchor="end">1</text>
</g>
<g font-family="Liberation Serif, Times New Roman, serif" font-size="60.8" fill="#262626">
<text x="656.4" y="1971.1" text-anchor="middle">Absolute Temperature (K)</text>
<text transform="translate(55.0,1473.1) rotate(-90)" text-anchor="middle">Relative Crystallinity</text>
</g>
<text x="104.6" y="1056.3" font-family="Liberation Serif, Times New Roman, serif" font-size="73.5" fill="#000">(c)</text>
<g font-family="Liberation Serif, Times New Roman, serif" font-size="36.8" fill="#000">
<circle cx="799.5" cy="1146.9" r="3.25" fill="none" stroke="#000" stroke-width="1.6"/>
<path d="M749.5,1190.9h100.5" stroke="#f00" stroke-width="3.5" fill="none"/>
<path d="M749.5,1256.9h100.5" stroke="#00f" stroke-width="3.5" stroke-dasharray="13.1 3.4 6.6 3.4" fill="none"/>
<text x="856.9" y="1160.2">X-Experiment</text>
<text x="856.9" y="1203.6">X-Model</text>
<text x="856.9" y="1247.6">X-Model with</text>
<text x="856.9" y="1290.5">Fitted Parameters</text>
</g>
<rect x="745.5" y="1419.4" width="170.3" height="275.8" fill="#fff" stroke="#000" stroke-width="1.6"/>
<g font-family="Liberation Serif, Times New Roman, serif" font-size="36.8" fill="#000">
<text x="756" y="1464.0">–5K/min</text>
<text x="756" y="1506.9">–10K/min</text>
<text x="756" y="1549.8">–15K/min</text>
<text x="756" y="1592.7">–20K/min</text>
<text x="756" y="1635.6">–30K/min</text>
<text x="756" y="1678.5">–40K/min</text>
</g>
<path d="M307.3,1518.3L680.5,1518.3" stroke="#f0f" stroke-width="3.4" fill="none"/>
<path d="M705.2,1518.3L670.2,1505.3L679.5,1518.3L670.2,1531.3Z" fill="#f0f"/>
<path d="M933.1,1411.5L933.1,1717.8" stroke="#f0f" stroke-width="3.4" fill="none"/>
<path d="M933.1,1742.5L946.1,1707.5L933.1,1716.8L920.1,1707.5Z" fill="#f0f"/>
</g>
<g id="panel-d">
<rect x="1405.3" y="1092.8" width="996.4" height="744.6" fill="none" stroke="#262626" stroke-width="1.5"/>
<path d="M1654.4,1837.4v-10M1654.4,1092.8v10M1903.5,1837.4v-10M1903.5,1092.8v10M2152.6,1837.4v-10M2152.6,1092.8v10M1405.3,1688.5h10M2401.7,1688.5h-10M1405.3,1539.6h10M2401.7,1539.6h-10M1405.3,1390.6h10M2401.7,1390.6h-10M1405.3,1241.7h10M2401.7,1241.7h-10" fill="none" stroke="#262626" stroke-width="1.5"/>
<clipPath id="clip-d"><rect x="1399.3" y="1086.8" width="1008.4" height="756.6"/></clipPath>
<g clip-path="url(#clip-d)" fill="none" stroke-linejoin="round">
<polyline points="1494.4,1836.5 1503.6,1836.0 1511.7,1835.2 1520.3,1834.0 1531.2,1831.5 1541.6,1828.0 1550.3,1823.8 1559.5,1817.9 1567.0,1811.6 1573.3,1805.3 1578.5,1799.3 1583.7,1792.7 1588.6,1785.9 1592.9,1779.4 1598.4,1770.7 1602.4,1764.0 1606.1,1757.8 1608.7,1753.4 1611.3,1749.0 1616.8,1740.1 1620.8,1733.8 1626.0,1726.6 1630.1,1721.9 1636.1,1716.9 1643.1,1716.5 1645.6,1718.7 1648.8,1723.6 1652.0,1731.0 1654.0,1736.9 1656.3,1744.6 1658.6,1753.1 1660.9,1762.1 1662.9,1770.2 1665.8,1781.6 1666.4,1783.9 1669.6,1795.6 1670.7,1799.5 1673.0,1806.8 1675.0,1812.4 1677.3,1818.0 1680.2,1823.7 1683.1,1828.0 1687.1,1832.2 1691.7,1835.0 1698.1,1836.7 1705.3,1837.4 1716.5,1837.4 1725.1,1837.4" stroke="none" marker-start="url(#mk)" marker-mid="url(#mk)" marker-end="url(#mk)"/>
<path d="M1467.6,1837.4L1576.5,1837.4L1577.0,1835.7L1577.6,1833.2L1578.4,1830.2L1579.3,1827.0L1580.2,1823.5L1581.2,1819.8L1582.2,1815.9L1583.3,1811.9L1584.4,1807.8L1585.6,1803.6L1586.8,1799.3L1588.0,1795.0L1589.3,1790.7L1590.6,1786.3L1591.9,1781.9L1593.2,1777.6L1594.6,1773.3L1596.0,1769.1L1597.4,1765.0L1598.9,1761.0L1600.3,1757.1L1601.8,1753.4L1603.3,1749.8L1604.8,1746.4L1606.4,1743.1L1607.9,1740.1L1609.5,1737.3L1611.1,1734.8L1612.7,1732.5L1614.3,1730.4L1616.0,1728.6L1617.7,1727.1L1619.3,1725.8L1621.0,1724.9L1622.7,1724.2L1624.5,1723.8L1626.2,1723.7L1628.0,1723.9L1629.7,1724.3L1631.5,1725.0L1633.3,1726.0L1635.1,1727.3L1636.9,1728.8L1638.7,1730.5L1640.6,1732.4L1642.4,1734.6L1644.3,1736.9L1646.2,1739.5L1648.1,1742.1L1650.0,1745.0L1651.9,1747.9L1653.8,1751.0L1655.8,1754.2L1657.7,1757.4L1659.7,1760.7L1661.7,1764.0L1663.6,1767.3L1665.6,1770.7L1667.6,1774.1L1669.6,1777.4L1671.7,1780.7L1673.7,1783.9L1675.7,1787.1L1677.8,1790.2L1679.9,1793.2L1681.9,1796.1L1684.0,1798.9L1686.1,1801.7L1688.2,1804.3L1690.3,1806.8L1692.4,1809.2L1694.5,1811.4L1696.7,1813.6L1698.8,1815.6L1701.0,1817.5L1703.1,1819.3L1705.3,1820.9L1707.5,1822.5L1709.7,1823.9L1711.9,1825.2L1714.1,1826.5L1716.3,1827.6L1718.5,1828.6L1720.7,1829.6L1723.0,1830.5L1725.2,1831.2L1727.5,1832.0L1729.7,1832.6L1732.0,1833.2L1734.3,1833.7L1736.5,1834.2L1738.8,1834.6L1741.1,1834.9L1743.4,1835.3L1745.7,1835.6L1748.1,1835.8L1750.4,1836.0L1752.7,1836.2L1755.1,1836.4L1757.4,1836.5L1759.8,1836.7L1762.1,1836.8L1764.5,1836.9L1766.9,1837.0L1769.3,1837.0L1771.7,1837.1L1774.0,1837.1L1776.5,1837.2L1778.9,1837.2L1781.3,1837.3L1783.7,1837.3L1786.1,1837.3L1788.6,1837.3L1791.0,1837.3L1793.5,1837.3L1795.9,1837.4L1798.4,1837.4L1800.8,1837.4L1803.3,1837.4L1805.8,1837.4L1808.3,1837.4L1810.8,1837.4L1813.3,1837.4L1815.8,1837.4L1818.3,1837.4L1820.8,1837.4L1823.3,1837.4L1825.9,1837.4L1828.4,1837.4L2339.4,1837.4" stroke="#f00" stroke-width="3.5"/>
<path d="M1467.6,1837.4L1573.5,1837.4L1573.9,1835.5L1574.5,1832.6L1575.2,1829.4L1576.0,1825.7L1576.8,1821.8L1577.7,1817.7L1578.6,1813.3L1579.6,1808.9L1580.6,1804.2L1581.6,1799.5L1582.7,1794.7L1583.8,1789.9L1584.9,1785.0L1586.1,1780.1L1587.2,1775.2L1588.4,1770.4L1589.7,1765.6L1590.9,1760.9L1592.2,1756.2L1593.4,1751.7L1594.7,1747.4L1596.1,1743.2L1597.4,1739.2L1598.8,1735.3L1600.1,1731.7L1601.5,1728.3L1602.9,1725.2L1604.4,1722.3L1605.8,1719.8L1607.3,1717.4L1608.7,1715.4L1610.2,1713.7L1611.7,1712.3L1613.2,1711.3L1614.7,1710.5L1616.3,1710.0L1617.8,1709.9L1619.4,1710.1L1621.0,1710.6L1622.6,1711.4L1624.2,1712.5L1625.8,1713.9L1627.4,1715.6L1629.0,1717.5L1630.7,1719.7L1632.3,1722.1L1634.0,1724.8L1635.7,1727.6L1637.4,1730.6L1639.1,1733.8L1640.8,1737.1L1642.5,1740.5L1644.2,1744.1L1646.0,1747.7L1647.7,1751.4L1649.5,1755.1L1651.2,1758.9L1653.0,1762.6L1654.8,1766.4L1656.6,1770.1L1658.4,1773.8L1660.2,1777.4L1662.0,1781.0L1663.9,1784.4L1665.7,1787.8L1667.5,1791.1L1669.4,1794.3L1671.3,1797.3L1673.1,1800.3L1675.0,1803.1L1676.9,1805.7L1678.8,1808.3L1680.7,1810.7L1682.6,1812.9L1684.5,1815.1L1686.5,1817.1L1688.4,1818.9L1690.3,1820.7L1692.3,1822.3L1694.2,1823.8L1696.2,1825.1L1698.2,1826.4L1700.2,1827.6L1702.2,1828.6L1704.1,1829.6L1706.1,1830.5L1708.2,1831.3L1710.2,1832.0L1712.2,1832.7L1714.2,1833.2L1716.3,1833.8L1718.3,1834.2L1720.3,1834.6L1722.4,1835.0L1724.5,1835.3L1726.5,1835.6L1728.6,1835.9L1730.7,1836.1L1732.8,1836.3L1734.9,1836.4L1737.0,1836.6L1739.1,1836.7L1741.2,1836.8L1743.3,1836.9L1745.4,1837.0L1747.6,1837.1L1749.7,1837.1L1751.8,1837.2L1754.0,1837.2L1756.2,1837.2L1758.3,1837.3L1760.5,1837.3L1762.7,1837.3L1764.8,1837.3L1767.0,1837.3L1769.2,1837.3L1771.4,1837.4L1773.6,1837.4L1775.8,1837.4L1778.0,1837.4L1780.2,1837.4L1782.5,1837.4L1784.7,1837.4L1786.9,1837.4L1789.2,1837.4L1791.4,1837.4L1793.7,1837.4L1795.9,1837.4L1798.2,1837.4L2339.4,1837.4" stroke="#00f" stroke-width="3.5" stroke-dasharray="13.1 3.4 6.6 3.4"/>
<polyline points="1576.5,1834.2 1587.1,1831.6 1596.6,1828.0 1605.3,1823.0 1611.6,1818.0 1617.7,1812.1 1622.0,1806.9 1628.9,1796.9 1632.9,1790.0 1639.3,1777.4 1642.1,1770.9 1646.5,1760.3 1650.5,1749.4 1653.4,1741.1 1655.4,1735.0 1658.6,1725.0 1660.9,1717.5 1663.4,1708.7 1666.3,1698.6 1668.1,1692.5 1670.6,1683.1 1674.1,1670.5 1675.3,1666.2 1678.1,1655.6 1681.0,1645.2 1683.3,1636.9 1684.8,1631.9 1687.6,1622.2 1689.7,1615.7 1691.4,1610.4 1694.6,1601.4 1698.6,1591.6 1705.8,1581.5 1712.8,1587.0 1717.7,1601.6 1719.4,1608.8 1722.8,1626.3 1724.9,1637.9 1727.2,1652.3 1728.9,1663.6 1731.2,1679.1 1733.2,1692.9 1734.9,1704.6 1736.4,1714.3 1737.8,1723.7 1739.0,1731.1 1740.4,1740.1 1741.8,1748.7 1743.3,1756.9 1744.7,1764.7 1747.0,1776.3 1749.0,1785.4 1751.4,1794.6 1753.7,1802.7 1756.2,1810.3 1759.4,1817.8 1762.9,1824.1 1767.2,1829.5 1775.3,1834.7 1782.2,1836.5 1792.5,1837.4 1804.6,1837.4" stroke="none" marker-start="url(#mk)" marker-mid="url(#mk)" marker-end="url(#mk)"/>
<path d="M1467.6,1837.4L1650.7,1837.4L1651.1,1833.5L1651.7,1827.9L1652.4,1821.3L1653.2,1814.0L1654.0,1806.1L1654.9,1797.9L1655.8,1789.2L1656.7,1780.2L1657.7,1771.0L1658.8,1761.5L1659.8,1751.9L1660.9,1742.2L1662.1,1732.4L1663.2,1722.6L1664.4,1712.8L1665.6,1703.1L1666.8,1693.5L1668.0,1684.1L1669.3,1674.8L1670.6,1665.8L1671.9,1657.1L1673.2,1648.6L1674.5,1640.6L1675.9,1632.9L1677.3,1625.7L1678.7,1618.9L1680.1,1612.6L1681.5,1606.9L1682.9,1601.7L1684.4,1597.1L1685.8,1593.0L1687.3,1589.6L1688.8,1586.8L1690.3,1584.7L1691.8,1583.1L1693.4,1582.3L1694.9,1582.0L1696.5,1582.4L1698.1,1583.4L1699.6,1585.0L1701.2,1587.2L1702.8,1590.0L1704.5,1593.4L1706.1,1597.3L1707.7,1601.6L1709.4,1606.5L1711.1,1611.7L1712.7,1617.4L1714.4,1623.4L1716.1,1629.8L1717.8,1636.4L1719.5,1643.3L1721.3,1650.4L1723.0,1657.7L1724.7,1665.1L1726.5,1672.5L1728.3,1680.0L1730.0,1687.6L1731.8,1695.1L1733.6,1702.6L1735.4,1709.9L1737.2,1717.2L1739.0,1724.3L1740.9,1731.3L1742.7,1738.1L1744.5,1744.7L1746.4,1751.0L1748.3,1757.1L1750.1,1763.0L1752.0,1768.6L1753.9,1773.9L1755.8,1779.0L1757.7,1783.8L1759.6,1788.4L1761.5,1792.6L1763.4,1796.6L1765.4,1800.4L1767.3,1803.9L1769.3,1807.1L1771.2,1810.1L1773.2,1812.9L1775.1,1815.4L1777.1,1817.7L1779.1,1819.9L1781.1,1821.8L1783.1,1823.6L1785.1,1825.2L1787.1,1826.6L1789.1,1827.9L1791.1,1829.1L1793.2,1830.1L1795.2,1831.0L1797.3,1831.9L1799.3,1832.6L1801.4,1833.3L1803.4,1833.8L1805.5,1834.3L1807.6,1834.8L1809.7,1835.1L1811.8,1835.5L1813.9,1835.8L1816.0,1836.0L1818.1,1836.2L1820.2,1836.4L1822.3,1836.6L1824.4,1836.7L1826.6,1836.8L1828.7,1836.9L1830.9,1837.0L1833.0,1837.1L1835.2,1837.1L1837.3,1837.2L1839.5,1837.2L1841.7,1837.2L1843.9,1837.3L1846.0,1837.3L1848.2,1837.3L1850.4,1837.3L1852.6,1837.3L1854.8,1837.4L1857.1,1837.4L1859.3,1837.4L1861.5,1837.4L1863.7,1837.4L1866.0,1837.4L1868.2,1837.4L1870.5,1837.4L1872.7,1837.4L1875.0,1837.4L2339.4,1837.4" stroke="#f00" stroke-width="3.5"/>
<path d="M1467.6,1837.4L1647.6,1837.4L1648.0,1833.8L1648.7,1828.7L1649.4,1822.6L1650.2,1815.9L1651.1,1808.7L1652.1,1801.1L1653.1,1793.1L1654.1,1784.8L1655.2,1776.4L1656.4,1767.7L1657.5,1758.8L1658.7,1749.9L1659.9,1740.9L1661.2,1731.9L1662.4,1722.9L1663.8,1714.0L1665.1,1705.2L1666.4,1696.5L1667.8,1688.0L1669.2,1679.7L1670.6,1671.7L1672.0,1663.9L1673.5,1656.5L1675.0,1649.5L1676.5,1642.8L1678.0,1636.6L1679.5,1630.9L1681.1,1625.6L1682.6,1620.8L1684.2,1616.6L1685.8,1612.9L1687.4,1609.7L1689.0,1607.1L1690.7,1605.1L1692.3,1603.7L1694.0,1602.9L1695.7,1602.7L1697.4,1603.1L1699.1,1604.0L1700.8,1605.5L1702.6,1607.5L1704.3,1610.1L1706.1,1613.2L1707.8,1616.7L1709.6,1620.7L1711.4,1625.2L1713.2,1630.0L1715.1,1635.2L1716.9,1640.8L1718.7,1646.6L1720.6,1652.7L1722.5,1659.0L1724.3,1665.6L1726.2,1672.2L1728.1,1679.0L1730.0,1685.9L1732.0,1692.8L1733.9,1699.7L1735.8,1706.6L1737.8,1713.5L1739.7,1720.3L1741.7,1727.0L1743.7,1733.5L1745.7,1739.9L1747.7,1746.1L1749.7,1752.2L1751.7,1758.0L1753.7,1763.6L1755.8,1769.0L1757.8,1774.2L1759.9,1779.1L1761.9,1783.8L1764.0,1788.2L1766.1,1792.3L1768.1,1796.3L1770.2,1799.9L1772.3,1803.4L1774.5,1806.6L1776.6,1809.6L1778.7,1812.3L1780.8,1814.8L1783.0,1817.2L1785.1,1819.3L1787.3,1821.3L1789.5,1823.1L1791.6,1824.7L1793.8,1826.2L1796.0,1827.5L1798.2,1828.7L1800.4,1829.7L1802.6,1830.7L1804.8,1831.6L1807.1,1832.3L1809.3,1833.0L1811.5,1833.6L1813.8,1834.1L1816.0,1834.6L1818.3,1835.0L1820.6,1835.3L1822.8,1835.6L1825.1,1835.9L1827.4,1836.1L1829.7,1836.3L1832.0,1836.5L1834.3,1836.6L1836.6,1836.8L1838.9,1836.9L1841.3,1837.0L1843.6,1837.0L1845.9,1837.1L1848.3,1837.1L1850.7,1837.2L1853.0,1837.2L1855.4,1837.3L1857.8,1837.3L1860.1,1837.3L1862.5,1837.3L1864.9,1837.3L1867.3,1837.4L1869.7,1837.4L1872.1,1837.4L1874.5,1837.4L1877.0,1837.4L1879.4,1837.4L1881.8,1837.4L1884.3,1837.4L1886.7,1837.4L1889.1,1837.4L1891.6,1837.4L2339.4,1837.4" stroke="#00f" stroke-width="3.5" stroke-dasharray="13.1 3.4 6.6 3.4"/>
<polyline points="1590.9,1837.4 1607.3,1835.8 1620.2,1833.6 1630.6,1830.2 1641.3,1824.1 1647.9,1818.6 1653.4,1812.7 1658.8,1805.5 1665.5,1794.6 1670.1,1785.7 1674.4,1776.1 1678.7,1765.4 1682.5,1755.2 1686.5,1743.4 1689.4,1734.4 1692.0,1725.9 1694.6,1717.1 1697.1,1708.0 1701.8,1691.2 1704.6,1680.4 1706.9,1671.7 1711.0,1656.2 1714.1,1644.1 1716.4,1635.4 1719.3,1624.6 1721.3,1617.2 1724.2,1606.9 1726.8,1597.9 1728.5,1592.2 1730.6,1585.7 1733.4,1577.0 1735.5,1571.2 1737.2,1566.6 1740.6,1558.1 1745.5,1548.1 1750.2,1541.0 1756.0,1535.5 1762.0,1533.6 1764.0,1535.1 1767.5,1544.3 1768.6,1549.0 1770.4,1557.4 1772.1,1567.3 1773.2,1574.7 1774.1,1580.5 1777.0,1601.6 1778.1,1610.6 1779.3,1619.8 1780.7,1631.6 1781.9,1641.1 1783.0,1650.7 1783.9,1657.9 1785.0,1667.4 1786.5,1679.2 1787.9,1690.7 1789.4,1702.0 1791.1,1714.9 1792.8,1727.3 1795.1,1742.7 1797.4,1756.7 1800.0,1770.8 1803.2,1785.7 1806.7,1798.9 1810.4,1810.1 1813.9,1818.0 1818.5,1825.5 1824.8,1831.7 1833.4,1835.5 1840.6,1837.4 1850.7,1837.4" stroke="none" marker-start="url(#mk)" marker-mid="url(#mk)" marker-end="url(#mk)"/>
<path d="M1467.6,1837.4L1688.9,1837.4L1689.4,1832.6L1690.1,1825.6L1691.0,1817.5L1691.9,1808.5L1692.9,1798.8L1694.0,1788.6L1695.1,1777.9L1696.3,1766.8L1697.5,1755.4L1698.7,1743.7L1700.0,1731.9L1701.4,1719.9L1702.7,1707.8L1704.1,1695.7L1705.5,1683.6L1707.0,1671.6L1708.5,1659.8L1710.0,1648.1L1711.5,1636.7L1713.1,1625.6L1714.7,1614.8L1716.3,1604.4L1717.9,1594.4L1719.5,1585.0L1721.2,1576.1L1722.9,1567.7L1724.6,1560.0L1726.3,1552.9L1728.1,1546.4L1729.8,1540.7L1731.6,1535.8L1733.4,1531.5L1735.2,1528.1L1737.1,1525.4L1738.9,1523.5L1740.8,1522.4L1742.7,1522.1L1744.6,1522.6L1746.5,1523.9L1748.4,1525.9L1750.3,1528.6L1752.3,1532.1L1754.3,1536.2L1756.2,1541.0L1758.2,1546.4L1760.2,1552.3L1762.3,1558.8L1764.3,1565.8L1766.4,1573.3L1768.4,1581.1L1770.5,1589.3L1772.6,1597.8L1774.7,1606.6L1776.8,1615.5L1778.9,1624.7L1781.0,1633.9L1783.2,1643.2L1785.3,1652.5L1787.5,1661.7L1789.7,1671.0L1791.9,1680.1L1794.1,1689.0L1796.3,1697.8L1798.5,1706.4L1800.7,1714.8L1803.0,1722.9L1805.2,1730.8L1807.5,1738.3L1809.7,1745.5L1812.0,1752.5L1814.3,1759.1L1816.6,1765.3L1818.9,1771.3L1821.2,1776.9L1823.6,1782.1L1825.9,1787.1L1828.3,1791.7L1830.6,1796.0L1833.0,1800.0L1835.4,1803.7L1837.7,1807.1L1840.1,1810.2L1842.5,1813.1L1845.0,1815.7L1847.4,1818.1L1849.8,1820.3L1852.2,1822.3L1854.7,1824.1L1857.1,1825.7L1859.6,1827.1L1862.1,1828.4L1864.5,1829.6L1867.0,1830.6L1869.5,1831.5L1872.0,1832.3L1874.5,1833.0L1877.0,1833.6L1879.6,1834.1L1882.1,1834.6L1884.6,1835.0L1887.2,1835.4L1889.7,1835.7L1892.3,1836.0L1894.9,1836.2L1897.5,1836.4L1900.0,1836.5L1902.6,1836.7L1905.2,1836.8L1907.8,1836.9L1910.5,1837.0L1913.1,1837.1L1915.7,1837.1L1918.3,1837.2L1921.0,1837.2L1923.6,1837.2L1926.3,1837.3L1929.0,1837.3L1931.6,1837.3L1934.3,1837.3L1937.0,1837.3L1939.7,1837.4L1942.4,1837.4L1945.1,1837.4L1947.8,1837.4L1950.5,1837.4L1953.2,1837.4L1956.0,1837.4L1958.7,1837.4L1961.4,1837.4L2339.4,1837.4" stroke="#f00" stroke-width="3.5"/>
<path d="M1467.6,1837.4L1693.7,1837.4L1694.2,1832.6L1694.9,1825.5L1695.8,1817.2L1696.7,1808.1L1697.7,1798.3L1698.7,1787.9L1699.8,1777.1L1701.0,1765.9L1702.2,1754.3L1703.4,1742.5L1704.7,1730.5L1706.0,1718.3L1707.4,1706.1L1708.7,1693.8L1710.1,1681.6L1711.6,1669.4L1713.0,1657.4L1714.5,1645.6L1716.0,1634.0L1717.6,1622.8L1719.1,1611.8L1720.7,1601.3L1722.3,1591.2L1724.0,1581.6L1725.6,1572.6L1727.3,1564.1L1729.0,1556.3L1730.7,1549.1L1732.4,1542.6L1734.1,1536.8L1735.9,1531.8L1737.7,1527.5L1739.4,1524.0L1741.3,1521.3L1743.1,1519.4L1744.9,1518.3L1746.8,1518.0L1748.6,1518.5L1750.5,1519.7L1752.4,1521.7L1754.3,1524.5L1756.3,1528.0L1758.2,1532.2L1760.2,1537.0L1762.1,1542.5L1764.1,1548.6L1766.1,1555.1L1768.1,1562.2L1770.2,1569.8L1772.2,1577.7L1774.2,1586.0L1776.3,1594.7L1778.4,1603.5L1780.4,1612.6L1782.5,1621.8L1784.6,1631.2L1786.8,1640.6L1788.9,1650.0L1791.0,1659.4L1793.2,1668.8L1795.3,1678.0L1797.5,1687.1L1799.7,1696.0L1801.9,1704.7L1804.1,1713.2L1806.3,1721.4L1808.5,1729.3L1810.7,1737.0L1813.0,1744.3L1815.2,1751.3L1817.5,1758.0L1819.8,1764.4L1822.0,1770.4L1824.3,1776.1L1826.6,1781.4L1828.9,1786.4L1831.3,1791.1L1833.6,1795.5L1835.9,1799.5L1838.3,1803.2L1840.6,1806.7L1843.0,1809.9L1845.3,1812.8L1847.7,1815.5L1850.1,1817.9L1852.5,1820.1L1854.9,1822.1L1857.3,1823.9L1859.7,1825.5L1862.2,1827.0L1864.6,1828.3L1867.1,1829.5L1869.5,1830.5L1872.0,1831.4L1874.4,1832.2L1876.9,1832.9L1879.4,1833.6L1881.9,1834.1L1884.4,1834.6L1886.9,1835.0L1889.4,1835.4L1891.9,1835.7L1894.5,1835.9L1897.0,1836.2L1899.5,1836.4L1902.1,1836.5L1904.7,1836.7L1907.2,1836.8L1909.8,1836.9L1912.4,1837.0L1915.0,1837.1L1917.6,1837.1L1920.2,1837.2L1922.8,1837.2L1925.4,1837.2L1928.0,1837.3L1930.6,1837.3L1933.3,1837.3L1935.9,1837.3L1938.6,1837.3L1941.2,1837.4L1943.9,1837.4L1946.5,1837.4L1949.2,1837.4L1951.9,1837.4L1954.6,1837.4L1957.3,1837.4L1960.0,1837.4L1962.7,1837.4L2339.4,1837.4" stroke="#00f" stroke-width="3.5" stroke-dasharray="13.1 3.4 6.6 3.4"/>
<polyline points="1622.5,1835.1 1632.6,1833.5 1653.4,1826.8 1664.9,1819.9 1672.4,1813.4 1678.7,1806.5 1686.5,1795.8 1692.5,1785.5 1697.4,1775.8 1700.9,1768.1 1707.5,1751.4 1715.6,1727.3 1719.0,1715.6 1720.8,1709.5 1722.8,1702.1 1725.7,1691.2 1729.1,1677.3 1731.7,1666.5 1734.9,1652.8 1737.2,1642.5 1740.1,1629.2 1741.5,1622.5 1743.5,1613.0 1745.2,1604.7 1748.7,1588.0 1751.6,1573.9 1753.6,1564.1 1756.8,1548.7 1758.8,1539.0 1761.4,1526.7 1764.8,1510.8 1766.6,1503.1 1768.0,1496.9 1772.0,1480.4 1775.2,1468.7 1779.5,1455.0 1782.5,1447.3 1789.4,1437.0 1796.3,1444.2 1801.5,1461.6 1803.5,1470.8 1805.5,1481.4 1806.9,1489.6 1809.2,1503.8 1811.3,1517.2 1813.3,1531.3 1815.0,1543.9 1816.7,1556.9 1818.5,1570.1 1821.1,1590.2 1822.5,1601.4 1823.4,1608.1 1824.8,1619.2 1828.5,1647.7 1830.0,1658.3 1830.6,1662.5 1833.1,1680.8 1835.2,1694.4 1837.2,1707.3 1839.2,1719.6 1841.5,1732.8 1843.8,1745.0 1847.0,1760.2 1850.1,1773.6 1854.5,1789.0 1858.8,1801.4 1865.1,1814.9 1873.8,1826.3 1882.4,1832.4 1885.3,1833.6" stroke="none" marker-start="url(#mk)" marker-mid="url(#mk)" marker-end="url(#mk)"/>
<path d="M1467.6,1837.4L1721.9,1837.4L1722.4,1831.3L1723.2,1822.4L1724.1,1811.9L1725.0,1800.4L1726.1,1788.0L1727.2,1774.9L1728.4,1761.2L1729.6,1747.1L1730.8,1732.5L1732.2,1717.5L1733.5,1702.4L1734.9,1687.0L1736.3,1671.6L1737.8,1656.1L1739.2,1640.6L1740.8,1625.3L1742.3,1610.1L1743.9,1595.2L1745.5,1580.6L1747.1,1566.3L1748.7,1552.5L1750.4,1539.2L1752.1,1526.5L1753.8,1514.4L1755.6,1503.0L1757.3,1492.3L1759.1,1482.4L1760.9,1473.3L1762.7,1465.1L1764.6,1457.8L1766.4,1451.4L1768.3,1446.0L1770.2,1441.6L1772.1,1438.2L1774.0,1435.8L1776.0,1434.4L1777.9,1434.0L1779.9,1434.6L1781.9,1436.2L1783.9,1438.8L1785.9,1442.3L1788.0,1446.7L1790.0,1451.9L1792.1,1458.1L1794.2,1465.0L1796.2,1472.6L1798.4,1480.9L1800.5,1489.9L1802.6,1499.4L1804.8,1509.5L1806.9,1519.9L1809.1,1530.8L1811.3,1542.0L1813.5,1553.5L1815.7,1565.2L1817.9,1577.0L1820.1,1588.8L1822.4,1600.8L1824.6,1612.6L1826.9,1624.4L1829.2,1636.1L1831.5,1647.6L1833.8,1658.8L1836.1,1669.8L1838.4,1680.5L1840.7,1690.9L1843.1,1700.9L1845.5,1710.6L1847.8,1719.9L1850.2,1728.7L1852.6,1737.2L1855.0,1745.2L1857.4,1752.8L1859.8,1760.0L1862.2,1766.7L1864.7,1773.0L1867.1,1778.9L1869.6,1784.4L1872.0,1789.5L1874.5,1794.3L1877.0,1798.6L1879.5,1802.6L1882.0,1806.3L1884.5,1809.7L1887.0,1812.8L1889.5,1815.5L1892.1,1818.1L1894.6,1820.4L1897.2,1822.4L1899.8,1824.2L1902.3,1825.9L1904.9,1827.4L1907.5,1828.7L1910.1,1829.8L1912.7,1830.8L1915.3,1831.7L1917.9,1832.5L1920.6,1833.2L1923.2,1833.8L1925.9,1834.4L1928.5,1834.8L1931.2,1835.2L1933.8,1835.5L1936.5,1835.8L1939.2,1836.1L1941.9,1836.3L1944.6,1836.5L1947.3,1836.6L1950.0,1836.8L1952.8,1836.9L1955.5,1837.0L1958.2,1837.0L1961.0,1837.1L1963.7,1837.2L1966.5,1837.2L1969.3,1837.2L1972.0,1837.3L1974.8,1837.3L1977.6,1837.3L1980.4,1837.3L1983.2,1837.3L1986.0,1837.4L1988.8,1837.4L1991.7,1837.4L1994.5,1837.4L1997.3,1837.4L2000.2,1837.4L2003.0,1837.4L2005.9,1837.4L2339.4,1837.4" stroke="#f00" stroke-width="3.5"/>
<path d="M1467.6,1837.4L1724.8,1837.4L1725.3,1831.5L1726.1,1822.8L1727.0,1812.7L1728.0,1801.5L1729.1,1789.4L1730.2,1776.7L1731.4,1763.4L1732.7,1749.6L1734.0,1735.4L1735.3,1720.9L1736.7,1706.2L1738.1,1691.3L1739.6,1676.3L1741.1,1661.2L1742.6,1646.2L1744.2,1631.3L1745.8,1616.6L1747.4,1602.1L1749.0,1587.9L1750.7,1574.0L1752.4,1560.6L1754.1,1547.7L1755.8,1535.3L1757.6,1523.6L1759.4,1512.5L1761.2,1502.1L1763.0,1492.5L1764.9,1483.6L1766.8,1475.7L1768.7,1468.6L1770.6,1462.4L1772.5,1457.1L1774.5,1452.8L1776.4,1449.5L1778.4,1447.2L1780.4,1445.8L1782.4,1445.4L1784.4,1446.0L1786.5,1447.6L1788.6,1450.1L1790.6,1453.5L1792.7,1457.8L1794.8,1462.9L1797.0,1468.8L1799.1,1475.6L1801.3,1483.0L1803.4,1491.1L1805.6,1499.8L1807.8,1509.0L1810.0,1518.8L1812.2,1529.0L1814.5,1539.5L1816.7,1550.4L1819.0,1561.6L1821.3,1572.9L1823.6,1584.4L1825.9,1595.9L1828.2,1607.5L1830.5,1619.0L1832.8,1630.5L1835.2,1641.8L1837.5,1653.0L1839.9,1663.9L1842.3,1674.6L1844.7,1685.0L1847.1,1695.1L1849.5,1704.8L1851.9,1714.2L1854.4,1723.2L1856.8,1731.8L1859.3,1740.0L1861.7,1747.8L1864.2,1755.2L1866.7,1762.2L1869.2,1768.7L1871.7,1774.8L1874.2,1780.6L1876.7,1785.9L1879.3,1790.9L1881.8,1795.5L1884.4,1799.7L1886.9,1803.6L1889.5,1807.2L1892.1,1810.5L1894.7,1813.5L1897.3,1816.2L1899.9,1818.6L1902.5,1820.8L1905.2,1822.8L1907.8,1824.6L1910.5,1826.2L1913.1,1827.6L1915.8,1828.9L1918.5,1830.0L1921.1,1831.0L1923.8,1831.9L1926.5,1832.7L1929.2,1833.3L1931.9,1833.9L1934.7,1834.4L1937.4,1834.9L1940.1,1835.3L1942.9,1835.6L1945.7,1835.9L1948.4,1836.1L1951.2,1836.3L1954.0,1836.5L1956.8,1836.7L1959.6,1836.8L1962.4,1836.9L1965.2,1837.0L1968.0,1837.1L1970.8,1837.1L1973.7,1837.2L1976.5,1837.2L1979.3,1837.2L1982.2,1837.3L1985.1,1837.3L1987.9,1837.3L1990.8,1837.3L1993.7,1837.3L1996.6,1837.4L1999.5,1837.4L2002.4,1837.4L2005.3,1837.4L2008.2,1837.4L2011.2,1837.4L2014.1,1837.4L2017.0,1837.4L2339.4,1837.4" stroke="#00f" stroke-width="3.5" stroke-dasharray="13.1 3.4 6.6 3.4"/>
<polyline points="1675.8,1833.1 1688.2,1829.4 1697.4,1825.2 1706.1,1819.5 1714.4,1812.0 1722.8,1801.9 1730.0,1790.7 1735.5,1780.5 1740.1,1770.6 1744.1,1760.8 1747.3,1752.4 1749.9,1745.1 1753.0,1735.5 1755.9,1726.2 1758.8,1716.2 1761.7,1705.7 1763.7,1698.1 1766.0,1688.9 1768.0,1680.6 1770.3,1670.8 1772.3,1661.9 1774.3,1652.8 1776.1,1644.8 1778.4,1633.8 1780.4,1623.9 1782.4,1613.9 1784.4,1603.6 1786.7,1591.6 1788.7,1581.0 1791.0,1568.7 1792.8,1559.3 1794.8,1548.3 1798.2,1529.3 1799.7,1521.4 1801.7,1510.3 1803.4,1500.8 1805.4,1489.8 1808.6,1472.7 1810.3,1463.5 1812.1,1454.4 1813.8,1445.6 1815.5,1436.8 1817.2,1428.3 1819.3,1418.7 1821.0,1410.7 1823.9,1398.1 1826.2,1388.6 1827.9,1382.0 1831.4,1369.8 1834.2,1361.0 1838.0,1351.7 1841.5,1345.3 1847.0,1340.8 1852.4,1345.1 1855.6,1351.9 1857.9,1358.8 1859.4,1363.9 1862.0,1374.6 1863.7,1382.7 1866.3,1396.3 1868.0,1406.2 1869.4,1414.9 1871.5,1427.8 1873.5,1441.4 1875.5,1455.6 1877.2,1468.1 1878.7,1478.8 1879.8,1487.5 1881.5,1500.8 1883.0,1511.9 1884.4,1523.1 1885.6,1532.1 1887.3,1545.6 1888.7,1556.9 1890.5,1570.3 1892.8,1588.0 1894.8,1603.2 1896.8,1618.1 1898.8,1632.7 1900.8,1646.8 1903.1,1662.3 1905.4,1677.2 1908.3,1694.7 1911.2,1711.0 1914.1,1726.1 1917.5,1742.6 1920.7,1756.2 1924.7,1771.3 1928.5,1783.4 1932.8,1795.1 1937.1,1804.7 1944.3,1816.8 1950.9,1824.3 1958.7,1830.0 1967.4,1833.7 1985.5,1837.4" stroke="none" marker-start="url(#mk)" marker-mid="url(#mk)" marker-end="url(#mk)"/>
<path d="M1467.6,1837.4L1765.4,1837.4L1766.0,1829.8L1766.9,1818.6L1767.9,1805.5L1769.1,1791.1L1770.4,1775.6L1771.7,1759.3L1773.1,1742.1L1774.6,1724.4L1776.1,1706.1L1777.6,1687.5L1779.3,1668.5L1780.9,1649.3L1782.6,1629.9L1784.4,1610.6L1786.1,1591.2L1788.0,1572.0L1789.8,1553.1L1791.7,1534.4L1793.6,1516.1L1795.6,1498.3L1797.5,1481.0L1799.5,1464.4L1801.6,1448.5L1803.6,1433.3L1805.7,1419.0L1807.8,1405.6L1810.0,1393.3L1812.1,1381.9L1814.3,1371.6L1816.5,1362.5L1818.7,1354.5L1821.0,1347.8L1823.2,1342.2L1825.5,1338.0L1827.8,1335.0L1830.2,1333.2L1832.5,1332.7L1834.9,1333.5L1837.3,1335.5L1839.7,1338.7L1842.1,1343.1L1844.5,1348.6L1847.0,1355.2L1849.5,1362.8L1852.0,1371.5L1854.5,1381.0L1857.0,1391.5L1859.6,1402.7L1862.1,1414.6L1864.7,1427.1L1867.3,1440.3L1869.9,1453.9L1872.5,1467.9L1875.1,1482.2L1877.8,1496.8L1880.4,1511.6L1883.1,1526.5L1885.8,1541.4L1888.5,1556.2L1891.2,1571.0L1894.0,1585.5L1896.7,1599.9L1899.5,1614.0L1902.3,1627.7L1905.0,1641.1L1907.8,1654.1L1910.7,1666.7L1913.5,1678.8L1916.3,1690.4L1919.2,1701.4L1922.0,1712.0L1924.9,1722.0L1927.8,1731.5L1930.7,1740.5L1933.6,1748.9L1936.5,1756.9L1939.5,1764.2L1942.4,1771.1L1945.4,1777.5L1948.3,1783.4L1951.3,1788.9L1954.3,1793.9L1957.3,1798.5L1960.3,1802.7L1963.3,1806.6L1966.4,1810.1L1969.4,1813.2L1972.5,1816.1L1975.5,1818.6L1978.6,1820.9L1981.7,1823.0L1984.8,1824.8L1987.9,1826.5L1991.0,1827.9L1994.1,1829.2L1997.3,1830.3L2000.4,1831.3L2003.6,1832.2L2006.7,1832.9L2009.9,1833.6L2013.1,1834.2L2016.3,1834.7L2019.5,1835.1L2022.7,1835.4L2025.9,1835.8L2029.1,1836.0L2032.4,1836.3L2035.6,1836.4L2038.9,1836.6L2042.1,1836.7L2045.4,1836.9L2048.7,1837.0L2052.0,1837.0L2055.3,1837.1L2058.6,1837.2L2061.9,1837.2L2065.3,1837.2L2068.6,1837.3L2071.9,1837.3L2075.3,1837.3L2078.7,1837.3L2082.0,1837.3L2085.4,1837.4L2088.8,1837.4L2092.2,1837.4L2095.6,1837.4L2099.0,1837.4L2102.4,1837.4L2105.8,1837.4L2339.4,1837.4" stroke="#f00" stroke-width="3.5"/>
<path d="M1467.6,1837.4L1768.1,1837.4L1768.7,1829.5L1769.6,1818.0L1770.6,1804.6L1771.7,1789.7L1772.9,1773.8L1774.2,1756.9L1775.6,1739.3L1777.0,1721.0L1778.5,1702.2L1780.0,1682.9L1781.6,1663.4L1783.2,1643.6L1784.8,1623.7L1786.5,1603.7L1788.2,1583.8L1790.0,1564.1L1791.8,1544.5L1793.6,1525.3L1795.5,1506.4L1797.4,1488.1L1799.3,1470.3L1801.2,1453.2L1803.2,1436.8L1805.2,1421.2L1807.2,1406.4L1809.3,1392.7L1811.4,1379.9L1813.5,1368.2L1815.6,1357.6L1817.7,1348.2L1819.9,1340.0L1822.1,1333.0L1824.3,1327.3L1826.5,1322.9L1828.7,1319.8L1831.0,1318.0L1833.3,1317.5L1835.6,1318.3L1837.9,1320.4L1840.2,1323.7L1842.6,1328.2L1844.9,1333.9L1847.3,1340.7L1849.7,1348.6L1852.1,1357.5L1854.6,1367.3L1857.0,1378.0L1859.5,1389.6L1862.0,1401.9L1864.5,1414.8L1867.0,1428.3L1869.5,1442.3L1872.1,1456.8L1874.6,1471.5L1877.2,1486.6L1879.8,1501.8L1882.4,1517.1L1885.0,1532.4L1887.6,1547.7L1890.3,1562.9L1892.9,1578.0L1895.6,1592.8L1898.3,1607.3L1901.0,1621.4L1903.7,1635.2L1906.4,1648.6L1909.1,1661.5L1911.9,1674.0L1914.6,1685.9L1917.4,1697.4L1920.2,1708.2L1923.0,1718.6L1925.8,1728.4L1928.6,1737.6L1931.4,1746.3L1934.2,1754.4L1937.1,1762.0L1939.9,1769.1L1942.8,1775.7L1945.7,1781.8L1948.6,1787.4L1951.5,1792.6L1954.4,1797.4L1957.3,1801.7L1960.2,1805.6L1963.2,1809.2L1966.1,1812.5L1969.1,1815.4L1972.1,1818.1L1975.1,1820.4L1978.1,1822.6L1981.1,1824.5L1984.1,1826.1L1987.1,1827.6L1990.1,1829.0L1993.2,1830.1L1996.2,1831.1L1999.3,1832.0L2002.4,1832.8L2005.5,1833.5L2008.5,1834.1L2011.6,1834.6L2014.8,1835.0L2017.9,1835.4L2021.0,1835.7L2024.1,1836.0L2027.3,1836.2L2030.4,1836.4L2033.6,1836.6L2036.8,1836.7L2039.9,1836.8L2043.1,1836.9L2046.3,1837.0L2049.5,1837.1L2052.7,1837.1L2056.0,1837.2L2059.2,1837.2L2062.4,1837.3L2065.7,1837.3L2068.9,1837.3L2072.2,1837.3L2075.5,1837.3L2078.8,1837.4L2082.0,1837.4L2085.3,1837.4L2088.6,1837.4L2092.0,1837.4L2095.3,1837.4L2098.6,1837.4L2339.4,1837.4" stroke="#00f" stroke-width="3.5" stroke-dasharray="13.1 3.4 6.6 3.4"/>
<polyline points="1719.6,1829.1 1726.2,1826.2 1732.9,1822.3 1740.1,1816.9 1745.0,1812.3 1752.2,1804.0 1756.5,1797.9 1761.4,1790.0 1766.6,1780.3 1770.9,1770.9 1775.2,1760.5 1779.5,1748.7 1783.8,1735.7 1788.2,1721.3 1791.0,1710.9 1794.8,1696.4 1797.7,1684.6 1800.5,1672.0 1803.4,1658.8 1806.3,1645.0 1809.2,1630.5 1812.1,1615.4 1814.1,1604.5 1817.0,1588.4 1819.3,1575.2 1821.9,1559.9 1824.2,1546.0 1826.2,1533.7 1828.5,1519.3 1830.8,1504.7 1833.7,1486.2 1836.3,1469.4 1839.4,1448.8 1842.3,1430.0 1844.3,1416.8 1847.8,1394.5 1850.7,1376.1 1853.8,1356.3 1856.4,1340.5 1859.6,1321.9 1862.8,1304.1 1865.9,1287.3 1868.2,1275.9 1871.1,1262.5 1874.6,1248.0 1879.5,1230.7 1881.5,1224.8 1885.5,1215.4 1891.0,1208.2 1897.7,1209.6 1901.1,1214.7 1904.3,1222.0 1907.7,1233.0 1910.0,1242.1 1912.6,1253.8 1916.1,1272.0 1917.8,1282.0 1919.0,1289.0 1921.6,1305.8 1923.6,1319.7 1925.0,1330.0 1926.5,1340.7 1927.6,1349.4 1929.1,1360.5 1931.4,1378.8 1933.1,1392.8 1934.5,1404.7 1936.3,1419.1 1937.7,1431.3 1939.4,1445.9 1940.9,1458.2 1942.3,1470.5 1944.3,1487.6 1946.3,1504.7 1948.6,1524.0 1950.9,1543.0 1952.4,1554.7 1954.4,1570.9 1956.7,1588.8 1959.0,1606.2 1961.6,1625.1 1963.9,1641.2 1966.8,1660.3 1970.2,1681.7 1974.0,1703.1 1977.4,1720.9 1981.2,1738.4 1985.5,1756.1 1990.4,1773.2 1994.7,1785.8 1999.9,1798.3 2006.2,1810.1 2013.4,1819.8 2022.1,1827.4 2029.3,1831.3 2037.9,1834.2 2046.6,1837.4 2059.5,1837.4" stroke="none" marker-start="url(#mk)" marker-mid="url(#mk)" marker-end="url(#mk)"/>
<path d="M1467.6,1837.4L1807.6,1837.4L1808.2,1827.9L1809.2,1813.9L1810.3,1797.6L1811.6,1779.6L1812.9,1760.3L1814.3,1739.8L1815.8,1718.4L1817.4,1696.2L1819.0,1673.4L1820.7,1650.1L1822.4,1626.4L1824.2,1602.4L1826.0,1578.3L1827.8,1554.1L1829.7,1529.9L1831.7,1506.0L1833.7,1482.3L1835.7,1458.9L1837.7,1436.1L1839.8,1413.8L1841.9,1392.3L1844.0,1371.5L1846.2,1351.6L1848.4,1332.7L1850.6,1314.8L1852.9,1298.1L1855.2,1282.6L1857.5,1268.5L1859.8,1255.6L1862.1,1244.2L1864.5,1234.3L1866.9,1225.8L1869.3,1218.9L1871.8,1213.6L1874.3,1209.8L1876.7,1207.6L1879.2,1207.0L1881.8,1208.0L1884.3,1210.5L1886.9,1214.5L1889.5,1220.0L1892.1,1226.8L1894.7,1235.1L1897.4,1244.7L1900.0,1255.4L1902.7,1267.4L1905.4,1280.4L1908.1,1294.4L1910.8,1309.3L1913.6,1325.0L1916.3,1341.4L1919.1,1358.4L1921.9,1375.9L1924.7,1393.8L1927.6,1412.0L1930.4,1430.4L1933.3,1449.0L1936.1,1467.6L1939.0,1486.2L1941.9,1504.6L1944.9,1522.8L1947.8,1540.8L1950.7,1558.3L1953.7,1575.5L1956.7,1592.3L1959.7,1608.5L1962.7,1624.2L1965.7,1639.3L1968.7,1653.7L1971.7,1667.6L1974.8,1680.8L1977.9,1693.3L1981.0,1705.2L1984.0,1716.4L1987.2,1726.9L1990.3,1736.8L1993.4,1746.0L1996.5,1754.6L1999.7,1762.6L2002.9,1770.0L2006.0,1776.8L2009.2,1783.1L2012.4,1788.8L2015.7,1794.1L2018.9,1798.9L2022.1,1803.3L2025.4,1807.2L2028.6,1810.8L2031.9,1814.0L2035.2,1816.8L2038.5,1819.4L2041.8,1821.7L2045.1,1823.8L2048.4,1825.6L2051.8,1827.2L2055.1,1828.6L2058.5,1829.8L2061.8,1830.9L2065.2,1831.8L2068.6,1832.6L2072.0,1833.4L2075.4,1834.0L2078.8,1834.5L2082.2,1835.0L2085.7,1835.4L2089.1,1835.7L2092.6,1836.0L2096.1,1836.2L2099.5,1836.4L2103.0,1836.6L2106.5,1836.7L2110.0,1836.8L2113.5,1836.9L2117.1,1837.0L2120.6,1837.1L2124.1,1837.2L2127.7,1837.2L2131.3,1837.2L2134.8,1837.3L2138.4,1837.3L2142.0,1837.3L2145.6,1837.3L2149.2,1837.3L2152.8,1837.4L2156.4,1837.4L2160.1,1837.4L2163.7,1837.4L2167.4,1837.4L2171.0,1837.4L2339.4,1837.4" stroke="#f00" stroke-width="3.5"/>
<path d="M1467.6,1837.4L1799.9,1837.4L1800.6,1827.8L1801.5,1813.8L1802.7,1797.5L1803.9,1779.5L1805.2,1760.0L1806.6,1739.5L1808.1,1718.1L1809.7,1695.8L1811.3,1673.0L1813.0,1649.6L1814.7,1625.8L1816.5,1601.8L1818.3,1577.5L1820.1,1553.3L1822.0,1529.1L1824.0,1505.0L1825.9,1481.2L1827.9,1457.9L1830.0,1434.9L1832.1,1412.6L1834.2,1391.0L1836.3,1370.2L1838.5,1350.2L1840.6,1331.2L1842.9,1313.3L1845.1,1296.6L1847.4,1281.1L1849.7,1266.8L1852.0,1254.0L1854.3,1242.5L1856.7,1232.6L1859.1,1224.1L1861.5,1217.2L1864.0,1211.8L1866.4,1208.0L1868.9,1205.9L1871.4,1205.2L1873.9,1206.2L1876.5,1208.7L1879.0,1212.7L1881.6,1218.2L1884.2,1225.1L1886.8,1233.4L1889.5,1243.0L1892.1,1253.8L1894.8,1265.8L1897.5,1278.8L1900.2,1292.9L1902.9,1307.8L1905.6,1323.5L1908.4,1340.0L1911.2,1357.0L1914.0,1374.6L1916.8,1392.5L1919.6,1410.8L1922.4,1429.3L1925.3,1447.9L1928.1,1466.6L1931.0,1485.2L1933.9,1503.7L1936.8,1521.9L1939.7,1539.9L1942.7,1557.6L1945.6,1574.8L1948.6,1591.6L1951.6,1607.8L1954.6,1623.6L1957.6,1638.7L1960.6,1653.2L1963.6,1667.1L1966.7,1680.3L1969.7,1692.9L1972.8,1704.8L1975.9,1716.0L1979.0,1726.6L1982.1,1736.5L1985.2,1745.8L1988.4,1754.4L1991.5,1762.4L1994.7,1769.8L1997.8,1776.6L2001.0,1782.9L2004.2,1788.7L2007.4,1794.0L2010.6,1798.8L2013.9,1803.2L2017.1,1807.1L2020.4,1810.7L2023.6,1813.9L2026.9,1816.8L2030.2,1819.4L2033.5,1821.7L2036.8,1823.7L2040.1,1825.5L2043.4,1827.1L2046.8,1828.5L2050.1,1829.8L2053.5,1830.9L2056.8,1831.8L2060.2,1832.6L2063.6,1833.3L2067.0,1834.0L2070.4,1834.5L2073.8,1835.0L2077.3,1835.3L2080.7,1835.7L2084.1,1836.0L2087.6,1836.2L2091.1,1836.4L2094.5,1836.6L2098.0,1836.7L2101.5,1836.8L2105.0,1836.9L2108.5,1837.0L2112.1,1837.1L2115.6,1837.2L2119.1,1837.2L2122.7,1837.2L2126.3,1837.3L2129.8,1837.3L2133.4,1837.3L2137.0,1837.3L2140.6,1837.3L2144.2,1837.4L2147.8,1837.4L2151.4,1837.4L2155.1,1837.4L2158.7,1837.4L2162.3,1837.4L2339.4,1837.4" stroke="#00f" stroke-width="3.5" stroke-dasharray="13.1 3.4 6.6 3.4"/>
</g>
<g font-family="Liberation Sans, Arial, sans-serif" font-size="48.0" fill="#262626">
<text x="1405.3" y="1901.6" text-anchor="middle">480</text>
<text x="1654.4" y="1901.6" text-anchor="middle">460</text>
<text x="1903.5" y="1901.6" text-anchor="middle">440</text>
<text x="2152.6" y="1901.6" text-anchor="middle">420</text>
<text x="2401.7" y="1901.6" text-anchor="middle">400</text>
<text x="1389.7" y="1856.0" text-anchor="end">0</text>
<text x="1389.7" y="1707.1" text-anchor="end">1</text>
<text x="1389.7" y="1558.2" text-anchor="end">2</text>
<text x="1389.7" y="1409.2" text-anchor="end">3</text>
<text x="1389.7" y="1260.3" text-anchor="end">4</text>
<text x="1389.7" y="1111.4" text-anchor="end">5</text>
</g>
<g font-family="Liberation Serif, Times New Roman, serif" font-size="60.8" fill="#262626">
<text x="1903.5" y="1971.1" text-anchor="middle">Absolute Temperature (K)</text>
<text transform="translate(1300.0,1471.8) rotate(-90)" text-anchor="middle">dX/dt</text>
</g>
<text x="1350" y="1056" font-family="Liberation Serif, Times New Roman, serif" font-size="73.5" fill="#000">(d)</text>
<g font-family="Liberation Serif, Times New Roman, serif" font-size="36.8" fill="#000">
<circle cx="2038.0" cy="1146.9" r="3.25" fill="none" stroke="#000" stroke-width="1.6"/>
<path d="M1988.0,1190.9h100.5" stroke="#f00" stroke-width="3.5" fill="none"/>
<path d="M1988.0,1256.9h100.5" stroke="#00f" stroke-width="3.5" stroke-dasharray="13.1 3.4 6.6 3.4" fill="none"/>
<text x="2095.4" y="1160.2">dX/dt-Experiment</text>
<text x="2095.4" y="1203.6">dX/dt-Model</text>
<text x="2095.4" y="1247.6">dX/dt-Model with</text>
<text x="2095.4" y="1290.5">Fitted Parameters</text>
</g>
<g font-family="Liberation Serif, Times New Roman, serif" font-size="36.8" fill="#000">
<text x="1480.5" y="1718.1">–5K/min</text>
<text x="1529.9" y="1604.4">–10K/min</text>
<text x="1579.7" y="1533.2">–15K/min</text>
<text x="1617" y="1444.4">–20K/min</text>
<text x="1667.1" y="1352.1">–30K/min</text>
<text x="1704.1" y="1235.3">–40K/min</text>
</g>
</g>
<g id="panel-e">
<rect x="158.2" y="2083.8" width="996.4" height="744.6" fill="none" stroke="#262626" stroke-width="1.5"/>
<path d="M282.8,2828.4v-10M282.8,2083.8v10M531.8,2828.4v-10M531.8,2083.8v10M781.0,2828.4v-10M781.0,2083.8v10M1030.0,2828.4v-10M1030.0,2083.8v10M158.2,2679.5h10M1154.6,2679.5h-10M158.2,2530.6h10M1154.6,2530.6h-10M158.2,2381.6h10M1154.6,2381.6h-10M158.2,2232.7h10M1154.6,2232.7h-10" fill="none" stroke="#262626" stroke-width="1.5"/>
<clipPath id="clip-e"><rect x="152.2" y="2077.8" width="1008.4" height="756.6"/></clipPath>
<g clip-path="url(#clip-e)" fill="none" stroke-linejoin="round">
<polyline points="710.2,2083.0 714.5,2083.0 781.2,2083.7 795.3,2082.4 810.2,2082.6" stroke="none" marker-start="url(#mk)" marker-mid="url(#mk)" marker-end="url(#mk)"/>
<polyline points="165.0,2827.9 267.8,2827.9 309.3,2827.9 329.4,2820.7 336.9,2803.4 339.8,2788.1 345.0,2774.6 349.9,2755.9 354.8,2734.6 358.5,2713.2 362.0,2695.1 365.4,2674.9 370.3,2649.0 374.7,2619.9 380.4,2583.9 386.5,2541.6 395.1,2486.9 400.6,2434.9 405.5,2398.3 410.6,2364.9 415.0,2333.5 418.4,2307.9 422.2,2284.6 425.0,2263.8 428.8,2244.8 431.7,2227.5 434.6,2212.6 437.4,2198.7 440.0,2187.2 444.3,2173.7 448.1,2160.7 451.5,2150.6 454.7,2142.0 457.3,2135.4 460.5,2127.6 463.9,2121.8 466.8,2114.6 470.3,2109.7 474.0,2105.1 477.8,2101.7 481.2,2098.8 487.0,2095.9 491.3,2093.0 497.1,2090.7 502.8,2089.3 508.6,2087.9 514.3,2086.4 520.1,2085.3 525.9,2084.4 531.6,2083.5 537.4,2083.2 543.1,2083.0 549.5,2083.0" stroke="none" marker-start="url(#mk)" marker-mid="url(#mk)" marker-end="url(#mk)"/>
<path d="M158.2,2828.4L331.5,2828.4L332.0,2828.4L332.8,2828.2L333.7,2827.9L334.7,2827.2L335.7,2826.3L336.9,2825.1L338.1,2823.5L339.3,2821.4L340.6,2819.0L342.0,2816.0L343.4,2812.6L344.8,2808.6L346.3,2804.1L347.8,2799.0L349.3,2793.4L350.8,2787.2L352.4,2780.3L354.0,2772.9L355.7,2764.9L357.4,2756.3L359.1,2747.1L360.8,2737.4L362.5,2727.0L364.3,2716.1L366.1,2704.6L367.9,2692.6L369.7,2680.1L371.6,2667.1L373.4,2653.6L375.3,2639.8L377.3,2625.5L379.2,2610.9L381.1,2595.9L383.1,2580.7L385.1,2565.2L387.1,2549.5L389.1,2533.6L391.1,2517.7L393.2,2501.6L395.2,2485.5L397.3,2469.4L399.4,2453.3L401.5,2437.3L403.7,2421.5L405.8,2405.8L407.9,2390.3L410.1,2375.0L412.3,2360.1L414.5,2345.4L416.7,2331.0L418.9,2317.0L421.2,2303.4L423.4,2290.2L425.7,2277.5L427.9,2265.1L430.2,2253.2L432.5,2241.8L434.8,2230.9L437.2,2220.4L439.5,2210.5L441.9,2201.0L444.2,2192.0L446.6,2183.5L449.0,2175.5L451.4,2167.9L453.8,2160.8L456.2,2154.1L458.6,2147.9L461.0,2142.1L463.5,2136.7L465.9,2131.7L468.4,2127.1L470.9,2122.8L473.4,2118.9L475.9,2115.3L478.4,2112.0L480.9,2108.9L483.4,2106.2L486.0,2103.7L488.5,2101.5L491.1,2099.4L493.6,2097.6L496.2,2095.9L498.8,2094.4L501.4,2093.1L504.0,2091.9L506.6,2090.9L509.2,2090.0L511.8,2089.1L514.5,2088.4L517.1,2087.8L519.8,2087.2L522.5,2086.7L525.1,2086.3L527.8,2085.9L530.5,2085.6L533.2,2085.3L535.9,2085.1L538.6,2084.9L541.4,2084.7L544.1,2084.6L546.8,2084.5L549.6,2084.3L552.3,2084.3L555.1,2084.2L557.9,2084.1L560.7,2084.1L563.4,2084.0L566.2,2084.0L569.0,2083.9L571.9,2083.9L574.7,2083.9L577.5,2083.9L580.3,2083.9L583.2,2083.8L586.0,2083.8L588.9,2083.8L591.7,2083.8L594.6,2083.8L597.5,2083.8L600.4,2083.8L603.3,2083.8L606.2,2083.8L609.1,2083.8L612.0,2083.8L614.9,2083.8L617.8,2083.8L620.8,2083.8L623.7,2083.8L1154.6,2083.8" stroke="#f00" stroke-width="3.5"/>
<path d="M158.2,2828.4L332.3,2828.4L332.8,2828.4L333.5,2828.2L334.4,2827.9L335.3,2827.2L336.4,2826.3L337.4,2825.1L338.6,2823.5L339.8,2821.4L341.0,2819.0L342.3,2816.0L343.6,2812.6L345.0,2808.6L346.4,2804.1L347.8,2799.0L349.2,2793.4L350.7,2787.2L352.2,2780.3L353.8,2772.9L355.3,2764.9L356.9,2756.3L358.5,2747.1L360.2,2737.4L361.8,2727.0L363.5,2716.1L365.2,2704.6L366.9,2692.6L368.7,2680.1L370.4,2667.1L372.2,2653.6L374.0,2639.8L375.8,2625.5L377.7,2610.9L379.5,2595.9L381.4,2580.7L383.3,2565.2L385.2,2549.5L387.1,2533.6L389.0,2517.7L391.0,2501.6L392.9,2485.5L394.9,2469.4L396.9,2453.3L398.9,2437.3L400.9,2421.5L403.0,2405.8L405.0,2390.3L407.1,2375.0L409.2,2360.1L411.2,2345.4L413.3,2331.0L415.5,2317.0L417.6,2303.4L419.7,2290.2L421.9,2277.5L424.0,2265.1L426.2,2253.2L428.4,2241.8L430.6,2230.9L432.8,2220.4L435.0,2210.5L437.3,2201.0L439.5,2192.0L441.8,2183.5L444.0,2175.5L446.3,2167.9L448.6,2160.8L450.9,2154.1L453.2,2147.9L455.5,2142.1L457.8,2136.7L460.2,2131.7L462.5,2127.1L464.9,2122.8L467.2,2118.9L469.6,2115.3L472.0,2112.0L474.4,2108.9L476.8,2106.2L479.2,2103.7L481.6,2101.5L484.0,2099.4L486.5,2097.6L488.9,2095.9L491.4,2094.4L493.9,2093.1L496.3,2091.9L498.8,2090.9L501.3,2090.0L503.8,2089.1L506.3,2088.4L508.8,2087.8L511.4,2087.2L513.9,2086.7L516.4,2086.3L519.0,2085.9L521.6,2085.6L524.1,2085.3L526.7,2085.1L529.3,2084.9L531.9,2084.7L534.5,2084.6L537.1,2084.5L539.7,2084.3L542.3,2084.3L544.9,2084.2L547.6,2084.1L550.2,2084.1L552.9,2084.0L555.5,2084.0L558.2,2083.9L560.9,2083.9L563.5,2083.9L566.2,2083.9L568.9,2083.9L571.6,2083.8L574.3,2083.8L577.1,2083.8L579.8,2083.8L582.5,2083.8L585.2,2083.8L588.0,2083.8L590.7,2083.8L593.5,2083.8L596.3,2083.8L599.0,2083.8L601.8,2083.8L604.6,2083.8L607.4,2083.8L610.2,2083.8L1154.6,2083.8" stroke="#00f" stroke-width="3.5" stroke-dasharray="13.1 3.4 6.6 3.4"/>
<polyline points="364.9,2827.9 373.2,2824.4 379.0,2821.0 389.1,2813.8 395.4,2803.7 402.0,2793.6 408.4,2781.8 408.9,2774.9 415.3,2766.0 418.4,2752.7 423.0,2740.9 427.1,2725.6 431.4,2709.8 433.1,2698.0 437.4,2685.0 439.2,2671.2 441.8,2660.8 446.9,2640.7 451.0,2615.6 454.7,2594.0 456.5,2579.0 461.6,2558.3 466.8,2527.2 467.4,2509.3 473.2,2488.0 479.8,2452.3 488.4,2405.8 493.6,2364.9 497.3,2341.3 501.7,2321.7 507.7,2296.4 511.5,2272.8 516.1,2253.5 519.2,2237.9 522.4,2226.4 523.8,2218.9 528.2,2208.8 530.7,2198.2 534.5,2190.1 541.1,2177.1 544.6,2165.0 549.5,2157.0 556.1,2147.2 560.4,2138.3 568.5,2129.6 577.7,2119.5 584.3,2111.8 591.2,2106.0 602.2,2100.0 613.7,2095.1 621.8,2091.6 630.1,2089.6 641.6,2087.9 654.9,2085.8 669.0,2083.5 679.4,2083.2" stroke="none" marker-start="url(#mk)" marker-mid="url(#mk)" marker-end="url(#mk)"/>
<path d="M158.2,2828.4L403.8,2828.4L404.4,2828.4L405.3,2828.2L406.4,2827.9L407.5,2827.2L408.8,2826.3L410.1,2825.1L411.6,2823.5L413.0,2821.4L414.5,2819.0L416.1,2816.0L417.8,2812.6L419.4,2808.6L421.1,2804.1L422.9,2799.0L424.7,2793.4L426.5,2787.2L428.4,2780.3L430.3,2772.9L432.2,2764.9L434.2,2756.3L436.1,2747.1L438.2,2737.4L440.2,2727.0L442.3,2716.1L444.4,2704.6L446.5,2692.6L448.6,2680.1L450.8,2667.1L453.0,2653.6L455.2,2639.8L457.5,2625.5L459.7,2610.9L462.0,2595.9L464.3,2580.7L466.6,2565.2L469.0,2549.5L471.3,2533.6L473.7,2517.7L476.1,2501.6L478.5,2485.5L481.0,2469.4L483.4,2453.3L485.9,2437.3L488.4,2421.5L490.9,2405.8L493.4,2390.3L496.0,2375.0L498.5,2360.1L501.1,2345.4L503.7,2331.0L506.3,2317.0L508.9,2303.4L511.6,2290.2L514.2,2277.5L516.9,2265.1L519.5,2253.2L522.2,2241.8L525.0,2230.9L527.7,2220.4L530.4,2210.5L533.2,2201.0L535.9,2192.0L538.7,2183.5L541.5,2175.5L544.3,2167.9L547.1,2160.8L549.9,2154.1L552.8,2147.9L555.6,2142.1L558.5,2136.7L561.4,2131.7L564.3,2127.1L567.2,2122.8L570.1,2118.9L573.0,2115.3L576.0,2112.0L578.9,2108.9L581.9,2106.2L584.8,2103.7L587.8,2101.5L590.8,2099.4L593.8,2097.6L596.9,2095.9L599.9,2094.4L602.9,2093.1L606.0,2091.9L609.0,2090.9L612.1,2090.0L615.2,2089.1L618.3,2088.4L621.4,2087.8L624.5,2087.2L627.6,2086.7L630.8,2086.3L633.9,2085.9L637.0,2085.6L640.2,2085.3L643.4,2085.1L646.6,2084.9L649.8,2084.7L653.0,2084.6L656.2,2084.5L659.4,2084.3L662.6,2084.3L665.9,2084.2L669.1,2084.1L672.4,2084.1L675.6,2084.0L678.9,2084.0L682.2,2083.9L685.5,2083.9L688.8,2083.9L692.1,2083.9L695.4,2083.9L698.8,2083.8L702.1,2083.8L705.5,2083.8L708.8,2083.8L712.2,2083.8L715.5,2083.8L718.9,2083.8L722.3,2083.8L725.7,2083.8L729.1,2083.8L732.5,2083.8L736.0,2083.8L739.4,2083.8L742.8,2083.8L746.3,2083.8L1154.6,2083.8" stroke="#f00" stroke-width="3.5"/>
<path d="M158.2,2828.4L403.1,2828.4L403.7,2828.4L404.7,2828.2L405.8,2827.9L407.0,2827.2L408.4,2826.3L409.8,2825.1L411.3,2823.5L412.8,2821.4L414.5,2819.0L416.1,2816.0L417.8,2812.6L419.6,2808.6L421.4,2804.1L423.3,2799.0L425.2,2793.4L427.1,2787.2L429.1,2780.3L431.1,2772.9L433.1,2764.9L435.2,2756.3L437.3,2747.1L439.5,2737.4L441.6,2727.0L443.8,2716.1L446.0,2704.6L448.3,2692.6L450.6,2680.1L452.9,2667.1L455.2,2653.6L457.5,2639.8L459.9,2625.5L462.3,2610.9L464.7,2595.9L467.1,2580.7L469.6,2565.2L472.1,2549.5L474.6,2533.6L477.1,2517.7L479.7,2501.6L482.2,2485.5L484.8,2469.4L487.4,2453.3L490.0,2437.3L492.7,2421.5L495.3,2405.8L498.0,2390.3L500.7,2375.0L503.4,2360.1L506.1,2345.4L508.9,2331.0L511.6,2317.0L514.4,2303.4L517.2,2290.2L520.0,2277.5L522.8,2265.1L525.6,2253.2L528.5,2241.8L531.4,2230.9L534.2,2220.4L537.1,2210.5L540.1,2201.0L543.0,2192.0L545.9,2183.5L548.9,2175.5L551.8,2167.9L554.8,2160.8L557.8,2154.1L560.8,2147.9L563.9,2142.1L566.9,2136.7L569.9,2131.7L573.0,2127.1L576.1,2122.8L579.2,2118.9L582.3,2115.3L585.4,2112.0L588.5,2108.9L591.6,2106.2L594.8,2103.7L597.9,2101.5L601.1,2099.4L604.3,2097.6L607.5,2095.9L610.7,2094.4L613.9,2093.1L617.2,2091.9L620.4,2090.9L623.7,2090.0L626.9,2089.1L630.2,2088.4L633.5,2087.8L636.8,2087.2L640.1,2086.7L643.4,2086.3L646.7,2085.9L650.1,2085.6L653.4,2085.3L656.8,2085.1L660.2,2084.9L663.5,2084.7L666.9,2084.6L670.3,2084.5L673.7,2084.3L677.2,2084.3L680.6,2084.2L684.0,2084.1L687.5,2084.1L690.9,2084.0L694.4,2084.0L697.9,2083.9L701.4,2083.9L704.9,2083.9L708.4,2083.9L711.9,2083.9L715.4,2083.8L719.0,2083.8L722.5,2083.8L726.1,2083.8L729.6,2083.8L733.2,2083.8L736.8,2083.8L740.4,2083.8L744.0,2083.8L747.6,2083.8L751.2,2083.8L754.8,2083.8L758.4,2083.8L762.1,2083.8L765.7,2083.8L1154.6,2083.8" stroke="#00f" stroke-width="3.5" stroke-dasharray="13.1 3.4 6.6 3.4"/>
<polyline points="386.8,2827.9 400.6,2827.3 415.0,2826.7 424.5,2825.3 428.8,2823.0 435.1,2817.2 442.3,2810.0 446.1,2802.8 452.1,2796.2 455.6,2788.4 458.8,2781.8 464.2,2771.7 467.7,2761.6 472.0,2751.3 473.4,2742.1 476.3,2735.1 477.8,2727.4 482.1,2716.1 485.5,2700.9 489.9,2684.7 491.9,2671.5 495.3,2659.4 499.9,2638.9 504.6,2615.3 510.9,2588.0 515.5,2558.3 524.4,2522.0 532.2,2479.1 537.9,2444.4 543.1,2416.5 549.8,2388.8 556.1,2359.5 561.3,2335.8 568.5,2309.9 571.4,2290.3 574.8,2276.8 579.4,2262.4 584.3,2247.7 588.4,2234.7 593.5,2224.1 596.4,2212.6 602.2,2203.9 608.8,2191.8 617.4,2177.4 625.2,2163.6 631.8,2153.5 641.6,2143.4 652.0,2133.1 664.1,2123.9 674.2,2115.5 685.7,2109.5 694.9,2104.6 705.0,2099.7 715.4,2096.8 727.5,2093.6 741.3,2090.2 754.3,2088.1 766.9,2086.4 781.6,2084.4 795.1,2083.2 809.6,2083.0" stroke="none" marker-start="url(#mk)" marker-mid="url(#mk)" marker-end="url(#mk)"/>
<path d="M158.2,2828.4L447.7,2828.4L448.4,2828.4L449.5,2828.2L450.7,2827.9L452.1,2827.2L453.6,2826.3L455.2,2825.1L456.8,2823.5L458.6,2821.4L460.4,2819.0L462.3,2816.0L464.2,2812.6L466.2,2808.6L468.2,2804.1L470.3,2799.0L472.4,2793.4L474.6,2787.2L476.8,2780.3L479.0,2772.9L481.3,2764.9L483.6,2756.3L486.0,2747.1L488.4,2737.4L490.8,2727.0L493.2,2716.1L495.7,2704.6L498.2,2692.6L500.8,2680.1L503.4,2667.1L506.0,2653.6L508.6,2639.8L511.2,2625.5L513.9,2610.9L516.6,2595.9L519.4,2580.7L522.1,2565.2L524.9,2549.5L527.7,2533.6L530.5,2517.7L533.4,2501.6L536.2,2485.5L539.1,2469.4L542.0,2453.3L544.9,2437.3L547.9,2421.5L550.9,2405.8L553.9,2390.3L556.9,2375.0L559.9,2360.1L563.0,2345.4L566.0,2331.0L569.1,2317.0L572.2,2303.4L575.3,2290.2L578.5,2277.5L581.6,2265.1L584.8,2253.2L588.0,2241.8L591.2,2230.9L594.4,2220.4L597.7,2210.5L600.9,2201.0L604.2,2192.0L607.5,2183.5L610.8,2175.5L614.1,2167.9L617.5,2160.8L620.8,2154.1L624.2,2147.9L627.6,2142.1L631.0,2136.7L634.4,2131.7L637.8,2127.1L641.3,2122.8L644.7,2118.9L648.2,2115.3L651.7,2112.0L655.2,2108.9L658.7,2106.2L662.2,2103.7L665.7,2101.5L669.3,2099.4L672.8,2097.6L676.4,2095.9L680.0,2094.4L683.6,2093.1L687.2,2091.9L690.9,2090.9L694.5,2090.0L698.1,2089.1L701.8,2088.4L705.5,2087.8L709.2,2087.2L712.9,2086.7L716.6,2086.3L720.3,2085.9L724.1,2085.6L727.8,2085.3L731.6,2085.1L735.3,2084.9L739.1,2084.7L742.9,2084.6L746.7,2084.5L750.5,2084.3L754.4,2084.3L758.2,2084.2L762.1,2084.1L765.9,2084.1L769.8,2084.0L773.7,2084.0L777.6,2083.9L781.5,2083.9L785.4,2083.9L789.3,2083.9L793.2,2083.9L797.2,2083.8L801.1,2083.8L805.1,2083.8L809.1,2083.8L813.1,2083.8L817.1,2083.8L821.1,2083.8L825.1,2083.8L829.1,2083.8L833.2,2083.8L837.2,2083.8L841.3,2083.8L845.3,2083.8L849.4,2083.8L853.5,2083.8L1154.6,2083.8" stroke="#f00" stroke-width="3.5"/>
<path d="M158.2,2828.4L439.5,2828.4L440.2,2828.4L441.4,2828.2L442.7,2827.9L444.1,2827.2L445.7,2826.3L447.4,2825.1L449.1,2823.5L450.9,2821.4L452.8,2819.0L454.8,2816.0L456.8,2812.6L458.9,2808.6L461.0,2804.1L463.2,2799.0L465.4,2793.4L467.7,2787.2L470.0,2780.3L472.4,2772.9L474.8,2764.9L477.2,2756.3L479.7,2747.1L482.2,2737.4L484.7,2727.0L487.3,2716.1L489.9,2704.6L492.6,2692.6L495.2,2680.1L497.9,2667.1L500.7,2653.6L503.4,2639.8L506.2,2625.5L509.0,2610.9L511.9,2595.9L514.7,2580.7L517.6,2565.2L520.5,2549.5L523.5,2533.6L526.4,2517.7L529.4,2501.6L532.4,2485.5L535.5,2469.4L538.5,2453.3L541.6,2437.3L544.7,2421.5L547.8,2405.8L550.9,2390.3L554.1,2375.0L557.3,2360.1L560.5,2345.4L563.7,2331.0L566.9,2317.0L570.2,2303.4L573.5,2290.2L576.8,2277.5L580.1,2265.1L583.4,2253.2L586.8,2241.8L590.1,2230.9L593.5,2220.4L596.9,2210.5L600.3,2201.0L603.8,2192.0L607.2,2183.5L610.7,2175.5L614.2,2167.9L617.7,2160.8L621.2,2154.1L624.8,2147.9L628.3,2142.1L631.9,2136.7L635.4,2131.7L639.0,2127.1L642.7,2122.8L646.3,2118.9L649.9,2115.3L653.6,2112.0L657.2,2108.9L660.9,2106.2L664.6,2103.7L668.3,2101.5L672.1,2099.4L675.8,2097.6L679.6,2095.9L683.3,2094.4L687.1,2093.1L690.9,2091.9L694.7,2090.9L698.5,2090.0L702.4,2089.1L706.2,2088.4L710.1,2087.8L713.9,2087.2L717.8,2086.7L721.7,2086.3L725.6,2085.9L729.5,2085.6L733.5,2085.3L737.4,2085.1L741.4,2084.9L745.4,2084.7L749.3,2084.6L753.3,2084.5L757.3,2084.3L761.4,2084.3L765.4,2084.2L769.4,2084.1L773.5,2084.1L777.5,2084.0L781.6,2084.0L785.7,2083.9L789.8,2083.9L793.9,2083.9L798.0,2083.9L802.2,2083.9L806.3,2083.8L810.5,2083.8L814.6,2083.8L818.8,2083.8L823.0,2083.8L827.2,2083.8L831.4,2083.8L835.6,2083.8L839.8,2083.8L844.1,2083.8L848.3,2083.8L852.6,2083.8L856.8,2083.8L861.1,2083.8L865.4,2083.8L1154.6,2083.8" stroke="#00f" stroke-width="3.5" stroke-dasharray="13.1 3.4 6.6 3.4"/>
<polyline points="420.7,2827.9 430.8,2824.4 440.0,2822.4 448.4,2819.2 457.3,2815.2 466.2,2808.6 470.6,2804.3 477.5,2799.1 480.1,2793.3 484.1,2788.7 487.0,2782.9 491.0,2777.2 491.6,2773.2 495.6,2769.1 498.5,2762.5 499.1,2758.2 500.5,2755.3 504.3,2749.0 505.1,2743.2 507.1,2737.4 508.0,2732.5 513.5,2722.2 513.8,2713.2 515.8,2708.6 520.4,2696.5 525.0,2678.1 530.2,2657.1 533.9,2639.2 540.0,2618.2 545.7,2592.3 556.4,2556.3 563.9,2517.1 570.8,2487.7 576.3,2463.2 580.6,2444.7 587.2,2424.0 591.2,2404.1 597.9,2383.9 603.6,2363.8 610.2,2345.6 615.7,2328.4 618.6,2316.3 622.9,2304.7 625.2,2295.5 629.5,2288.0 637.6,2272.8 641.9,2258.7 647.4,2247.7 653.2,2235.9 658.6,2225.5 665.5,2214.0 672.2,2202.5 679.4,2191.8 682.0,2185.2 692.0,2177.4 699.0,2167.9 707.3,2159.3 712.5,2152.9 716.5,2148.6 726.9,2143.4 735.2,2137.1 744.7,2131.3 753.1,2126.7 766.1,2121.8 775.6,2117.5 788.2,2113.2 798.0,2109.5 811.9,2106.0 825.4,2102.5 839.5,2100.3 853.3,2097.6 867.4,2095.3 881.4,2093.6 895.5,2091.8 909.3,2090.4 923.1,2089.3 937.0,2088.1 950.8,2087.4 964.6,2086.7 978.9,2086.0 992.7,2085.1 1006.5,2084.4 1020.4,2084.0 1034.2,2083.5 1048.5,2083.3 1062.5,2083.3" stroke="none" marker-start="url(#mk)" marker-mid="url(#mk)" marker-end="url(#mk)"/>
<path d="M158.2,2828.4L466.7,2828.4L467.6,2828.4L469.0,2828.2L470.6,2827.9L472.3,2827.2L474.2,2826.3L476.2,2825.1L478.3,2823.5L480.5,2821.4L482.7,2819.0L485.1,2816.0L487.5,2812.6L490.0,2808.6L492.6,2804.1L495.2,2799.0L497.8,2793.4L500.6,2787.2L503.3,2780.3L506.2,2772.9L509.0,2764.9L512.0,2756.3L514.9,2747.1L517.9,2737.4L521.0,2727.0L524.1,2716.1L527.2,2704.6L530.3,2692.6L533.5,2680.1L536.8,2667.1L540.0,2653.6L543.4,2639.8L546.7,2625.5L550.1,2610.9L553.5,2595.9L556.9,2580.7L560.4,2565.2L563.8,2549.5L567.4,2533.6L570.9,2517.7L574.5,2501.6L578.1,2485.5L581.7,2469.4L585.4,2453.3L589.1,2437.3L592.8,2421.5L596.5,2405.8L600.3,2390.3L604.1,2375.0L607.9,2360.1L611.7,2345.4L615.6,2331.0L619.5,2317.0L623.4,2303.4L627.3,2290.2L631.3,2277.5L635.2,2265.1L639.2,2253.2L643.2,2241.8L647.3,2230.9L651.3,2220.4L655.4,2210.5L659.5,2201.0L663.6,2192.0L667.8,2183.5L671.9,2175.5L676.1,2167.9L680.3,2160.8L684.5,2154.1L688.8,2147.9L693.0,2142.1L697.3,2136.7L701.6,2131.7L705.9,2127.1L710.2,2122.8L714.6,2118.9L718.9,2115.3L723.3,2112.0L727.7,2108.9L732.1,2106.2L736.5,2103.7L741.0,2101.5L745.5,2099.4L749.9,2097.6L754.4,2095.9L758.9,2094.4L763.5,2093.1L768.0,2091.9L772.6,2090.9L777.2,2090.0L781.8,2089.1L786.4,2088.4L791.0,2087.8L795.6,2087.2L800.3,2086.7L805.0,2086.3L809.6,2085.9L814.3,2085.6L819.1,2085.3L823.8,2085.1L828.5,2084.9L833.3,2084.7L838.1,2084.6L842.9,2084.5L847.7,2084.3L852.5,2084.3L857.3,2084.2L862.1,2084.1L867.0,2084.1L871.9,2084.0L876.7,2084.0L881.6,2083.9L886.6,2083.9L891.5,2083.9L896.4,2083.9L901.4,2083.9L906.3,2083.8L911.3,2083.8L916.3,2083.8L921.3,2083.8L926.3,2083.8L931.3,2083.8L936.4,2083.8L941.4,2083.8L946.5,2083.8L951.6,2083.8L956.7,2083.8L961.8,2083.8L966.9,2083.8L972.0,2083.8L977.1,2083.8L1154.6,2083.8" stroke="#f00" stroke-width="3.5"/>
<path d="M158.2,2828.4L471.7,2828.4L472.5,2828.4L473.8,2828.2L475.3,2827.9L476.9,2827.2L478.6,2826.3L480.5,2825.1L482.5,2823.5L484.5,2821.4L486.7,2819.0L488.9,2816.0L491.1,2812.6L493.5,2808.6L495.8,2804.1L498.3,2799.0L500.8,2793.4L503.3,2787.2L505.9,2780.3L508.6,2772.9L511.3,2764.9L514.0,2756.3L516.8,2747.1L519.6,2737.4L522.4,2727.0L525.3,2716.1L528.2,2704.6L531.2,2692.6L534.2,2680.1L537.2,2667.1L540.3,2653.6L543.4,2639.8L546.5,2625.5L549.7,2610.9L552.8,2595.9L556.0,2580.7L559.3,2565.2L562.6,2549.5L565.8,2533.6L569.2,2517.7L572.5,2501.6L575.9,2485.5L579.3,2469.4L582.7,2453.3L586.2,2437.3L589.6,2421.5L593.1,2405.8L596.7,2390.3L600.2,2375.0L603.8,2360.1L607.4,2345.4L611.0,2331.0L614.6,2317.0L618.3,2303.4L621.9,2290.2L625.6,2277.5L629.3,2265.1L633.1,2253.2L636.8,2241.8L640.6,2230.9L644.4,2220.4L648.2,2210.5L652.1,2201.0L655.9,2192.0L659.8,2183.5L663.7,2175.5L667.6,2167.9L671.5,2160.8L675.5,2154.1L679.4,2147.9L683.4,2142.1L687.4,2136.7L691.4,2131.7L695.5,2127.1L699.5,2122.8L703.6,2118.9L707.7,2115.3L711.8,2112.0L715.9,2108.9L720.0,2106.2L724.1,2103.7L728.3,2101.5L732.5,2099.4L736.7,2097.6L740.9,2095.9L745.1,2094.4L749.4,2093.1L753.6,2091.9L757.9,2090.9L762.2,2090.0L766.5,2089.1L770.8,2088.4L775.1,2087.8L779.4,2087.2L783.8,2086.7L788.2,2086.3L792.6,2085.9L797.0,2085.6L801.4,2085.3L805.8,2085.1L810.2,2084.9L814.7,2084.7L819.1,2084.6L823.6,2084.5L828.1,2084.3L832.6,2084.3L837.1,2084.2L841.7,2084.1L846.2,2084.1L850.8,2084.0L855.3,2084.0L859.9,2083.9L864.5,2083.9L869.1,2083.9L873.8,2083.9L878.4,2083.9L883.0,2083.8L887.7,2083.8L892.4,2083.8L897.0,2083.8L901.7,2083.8L906.4,2083.8L911.1,2083.8L915.9,2083.8L920.6,2083.8L925.4,2083.8L930.1,2083.8L934.9,2083.8L939.7,2083.8L944.5,2083.8L949.3,2083.8L1154.6,2083.8" stroke="#00f" stroke-width="3.5" stroke-dasharray="13.1 3.4 6.6 3.4"/>
</g>
<g font-family="Liberation Sans, Arial, sans-serif" font-size="48.0" fill="#262626">
<text x="282.8" y="2892.6" text-anchor="middle">410</text>
<text x="531.8" y="2892.6" text-anchor="middle">400</text>
<text x="781.0" y="2892.6" text-anchor="middle">390</text>
<text x="1030.0" y="2892.6" text-anchor="middle">380</text>
<text x="142.6" y="2847.0" text-anchor="end">0</text>
<text x="142.6" y="2698.1" text-anchor="end">0.2</text>
<text x="142.6" y="2549.2" text-anchor="end">0.4</text>
<text x="142.6" y="2400.2" text-anchor="end">0.6</text>
<text x="142.6" y="2251.3" text-anchor="end">0.8</text>
<text x="142.6" y="2102.4" text-anchor="end">1</text>
</g>
<g font-family="Liberation Serif, Times New Roman, serif" font-size="60.8" fill="#262626">
<text x="656.4" y="2962.1" text-anchor="middle">Absolute Temperature (K)</text>
<text transform="translate(55.0,2464.1) rotate(-90)" text-anchor="middle">Relative Crystallinity</text>
</g>
<text x="42.4" y="2047" font-family="Liberation Serif, Times New Roman, serif" font-size="73.5" fill="#000">(e)</text>
<g font-family="Liberation Serif, Times New Roman, serif" font-size="36.8" fill="#000">
<circle cx="799.5" cy="2137.9" r="3.25" fill="none" stroke="#000" stroke-width="1.6"/>
<path d="M749.5,2181.9h100.5" stroke="#f00" stroke-width="3.5" fill="none"/>
<path d="M749.5,2247.9h100.5" stroke="#00f" stroke-width="3.5" stroke-dasharray="13.1 3.4 6.6 3.4" fill="none"/>
<text x="856.9" y="2151.2">X-Experiment</text>
<text x="856.9" y="2194.6">X-Model</text>
<text x="856.9" y="2238.6">X-Model with</text>
<text x="856.9" y="2281.5">Fitted Parameters</text>
</g>
<rect x="720.6" y="2437.4" width="170.3" height="190.8" fill="#fff" stroke="#000" stroke-width="1.6"/>
<g font-family="Liberation Serif, Times New Roman, serif" font-size="36.8" fill="#000">
<text x="731" y="2482.7">–5K/min</text>
<text x="731" y="2525.5">–10K/min</text>
<text x="731" y="2568.3">–15K/min</text>
<text x="731" y="2611.1">–20K/min</text>
</g>
<path d="M344.1,2498.2L632.4,2498.2" stroke="#f0f" stroke-width="3.4" fill="none"/>
<path d="M657.1,2498.2L622.1,2485.2L631.4,2498.2L622.1,2511.2Z" fill="#f0f"/>
<path d="M933.1,2436.0L933.1,2655.6" stroke="#f0f" stroke-width="3.4" fill="none"/>
<path d="M933.1,2680.3L946.1,2645.3L933.1,2654.6L920.1,2645.3Z" fill="#f0f"/>
</g>
<g id="panel-f">
<rect x="1405.3" y="2083.8" width="996.4" height="744.6" fill="none" stroke="#262626" stroke-width="1.5"/>
<path d="M1529.8,2828.4v-10M1529.8,2083.8v10M1778.9,2828.4v-10M1778.9,2083.8v10M2028.0,2828.4v-10M2028.0,2083.8v10M2277.2,2828.4v-10M2277.2,2083.8v10M1405.3,2722.0h10M2401.7,2722.0h-10M1405.3,2615.7h10M2401.7,2615.7h-10M1405.3,2509.3h10M2401.7,2509.3h-10M1405.3,2402.9h10M2401.7,2402.9h-10M1405.3,2296.5h10M2401.7,2296.5h-10M1405.3,2190.2h10M2401.7,2190.2h-10" fill="none" stroke="#262626" stroke-width="1.5"/>
<clipPath id="clip-f"><rect x="1399.3" y="2077.8" width="1008.4" height="756.6"/></clipPath>
<g clip-path="url(#clip-f)" fill="none" stroke-linejoin="round">
<polyline points="1902.0,2828.0 1916.1,2828.0 1926.2,2828.0 1939.1,2828.0 1951.2,2828.0 1957.3,2828.0 1960.5,2828.0 2043.1,2828.0 2057.3,2828.0" stroke="none" marker-start="url(#mk)" marker-mid="url(#mk)" marker-end="url(#mk)"/>
<polyline points="1412.1,2828.2 1425.3,2828.2 1434.0,2828.2 1449.8,2825.9 1459.9,2824.5 1468.0,2825.1 1480.1,2826.5 1492.2,2826.8 1504.3,2826.8 1513.2,2826.8 1525.9,2825.4 1531.0,2823.9 1536.8,2823.1 1542.0,2821.6 1548.6,2816.4 1555.5,2809.2 1563.6,2796.3 1570.2,2780.4 1577.1,2759.1 1584.3,2730.0 1587.2,2716.8 1592.1,2693.5 1597.0,2670.4 1602.5,2645.4 1606.2,2629.5 1609.7,2614.3 1613.7,2599.3 1618.3,2582.6 1622.6,2571.9 1628.4,2558.1 1634.2,2552.3 1643.4,2551.8 1652.9,2565.9 1658.4,2576.2 1662.7,2589.8 1666.4,2601.3 1670.2,2605.6 1669.9,2615.7 1673.0,2628.1 1675.9,2641.6 1680.0,2655.4 1682.8,2667.0 1686.0,2679.6 1693.8,2693.5 1689.5,2709.3 1696.1,2722.8 1699.5,2733.8 1705.3,2744.7 1708.8,2763.4 1711.6,2770.4 1716.8,2780.7 1724.0,2794.3 1729.2,2800.6 1735.0,2806.4 1742.2,2811.5 1749.4,2815.3 1756.3,2816.7 1763.5,2818.2 1769.5,2819.3 1775.3,2820.2 1780.2,2820.8 1785.9,2821.6 1790.3,2823.1 1796.6,2824.5" stroke="none" marker-start="url(#mk)" marker-mid="url(#mk)" marker-end="url(#mk)"/>
<path d="M1405.3,2828.4L1578.6,2828.4L1579.1,2824.2L1579.9,2818.0L1580.8,2810.7L1581.8,2802.7L1582.8,2794.1L1584.0,2785.1L1585.2,2775.5L1586.4,2765.7L1587.7,2755.6L1589.1,2745.2L1590.5,2734.7L1591.9,2724.0L1593.4,2713.3L1594.9,2702.6L1596.4,2691.8L1597.9,2681.2L1599.5,2670.7L1601.1,2660.3L1602.8,2650.2L1604.5,2640.3L1606.2,2630.7L1607.9,2621.5L1609.6,2612.6L1611.4,2604.2L1613.2,2596.3L1615.0,2588.9L1616.8,2582.0L1618.7,2575.7L1620.5,2570.0L1622.4,2565.0L1624.4,2560.5L1626.3,2556.8L1628.2,2553.7L1630.2,2551.3L1632.2,2549.7L1634.2,2548.7L1636.2,2548.4L1638.2,2548.9L1640.3,2550.0L1642.3,2551.7L1644.4,2554.2L1646.5,2557.2L1648.6,2560.9L1650.8,2565.1L1652.9,2569.9L1655.0,2575.2L1657.2,2581.0L1659.4,2587.2L1661.6,2593.8L1663.8,2600.8L1666.0,2608.1L1668.3,2615.6L1670.5,2623.4L1672.8,2631.4L1675.0,2639.5L1677.3,2647.7L1679.6,2655.9L1681.9,2664.2L1684.3,2672.4L1686.6,2680.6L1689.0,2688.7L1691.3,2696.7L1693.7,2704.5L1696.1,2712.1L1698.5,2719.5L1700.9,2726.7L1703.3,2733.7L1705.7,2740.4L1708.1,2746.8L1710.6,2753.0L1713.0,2758.8L1715.5,2764.4L1718.0,2769.7L1720.5,2774.7L1723.0,2779.3L1725.5,2783.7L1728.0,2787.8L1730.5,2791.6L1733.1,2795.2L1735.6,2798.5L1738.2,2801.5L1740.7,2804.3L1743.3,2806.8L1745.9,2809.2L1748.5,2811.3L1751.1,2813.2L1753.7,2815.0L1756.3,2816.6L1758.9,2818.0L1761.6,2819.3L1764.2,2820.4L1766.9,2821.4L1769.6,2822.3L1772.2,2823.1L1774.9,2823.9L1777.6,2824.5L1780.3,2825.0L1783.0,2825.5L1785.7,2825.9L1788.5,2826.3L1791.2,2826.6L1793.9,2826.9L1796.7,2827.1L1799.4,2827.3L1802.2,2827.5L1805.0,2827.6L1807.8,2827.8L1810.5,2827.9L1813.3,2828.0L1816.1,2828.0L1819.0,2828.1L1821.8,2828.2L1824.6,2828.2L1827.4,2828.2L1830.3,2828.3L1833.1,2828.3L1836.0,2828.3L1838.8,2828.3L1841.7,2828.3L1844.6,2828.4L1847.5,2828.4L1850.4,2828.4L1853.3,2828.4L1856.2,2828.4L1859.1,2828.4L1862.0,2828.4L1864.9,2828.4L1867.9,2828.4L1870.8,2828.4L2401.7,2828.4" stroke="#f00" stroke-width="3.5"/>
<path d="M1405.3,2828.4L1579.4,2828.4L1579.9,2823.9L1580.6,2817.4L1581.5,2809.8L1582.4,2801.4L1583.5,2792.4L1584.5,2782.8L1585.7,2772.8L1586.9,2762.5L1588.1,2751.8L1589.4,2740.9L1590.7,2729.8L1592.1,2718.6L1593.5,2707.4L1594.9,2696.1L1596.3,2684.8L1597.8,2673.6L1599.3,2662.5L1600.9,2651.6L1602.4,2641.0L1604.0,2630.6L1605.6,2620.5L1607.3,2610.8L1608.9,2601.5L1610.6,2592.7L1612.3,2584.3L1614.0,2576.5L1615.8,2569.3L1617.5,2562.7L1619.3,2556.7L1621.1,2551.3L1622.9,2546.7L1624.8,2542.8L1626.6,2539.5L1628.5,2537.0L1630.4,2535.3L1632.3,2534.3L1634.2,2534.0L1636.1,2534.4L1638.1,2535.6L1640.0,2537.4L1642.0,2540.0L1644.0,2543.2L1646.0,2547.1L1648.0,2551.5L1650.1,2556.6L1652.1,2562.2L1654.2,2568.2L1656.3,2574.8L1658.3,2581.7L1660.4,2589.1L1662.6,2596.7L1664.7,2604.7L1666.8,2612.8L1669.0,2621.2L1671.1,2629.7L1673.3,2638.3L1675.5,2647.0L1677.7,2655.7L1679.9,2664.4L1682.1,2673.0L1684.4,2681.5L1686.6,2689.8L1688.9,2698.1L1691.1,2706.1L1693.4,2713.9L1695.7,2721.5L1698.0,2728.8L1700.3,2735.8L1702.6,2742.6L1704.9,2749.1L1707.3,2755.2L1709.6,2761.1L1712.0,2766.6L1714.3,2771.9L1716.7,2776.8L1719.1,2781.4L1721.5,2785.7L1723.9,2789.7L1726.3,2793.5L1728.7,2796.9L1731.1,2800.1L1733.6,2803.0L1736.0,2805.7L1738.5,2808.2L1741.0,2810.4L1743.4,2812.5L1745.9,2814.3L1748.4,2816.0L1750.9,2817.5L1753.4,2818.8L1755.9,2820.0L1758.5,2821.1L1761.0,2822.0L1763.5,2822.9L1766.1,2823.6L1768.7,2824.3L1771.2,2824.9L1773.8,2825.4L1776.4,2825.8L1779.0,2826.2L1781.6,2826.5L1784.2,2826.8L1786.8,2827.0L1789.4,2827.3L1792.0,2827.4L1794.7,2827.6L1797.3,2827.7L1800.0,2827.8L1802.6,2827.9L1805.3,2828.0L1808.0,2828.1L1810.6,2828.1L1813.3,2828.2L1816.0,2828.2L1818.7,2828.3L1821.4,2828.3L1824.2,2828.3L1826.9,2828.3L1829.6,2828.3L1832.3,2828.4L1835.1,2828.4L1837.8,2828.4L1840.6,2828.4L1843.4,2828.4L1846.1,2828.4L1848.9,2828.4L1851.7,2828.4L1854.5,2828.4L1857.3,2828.4L2401.7,2828.4" stroke="#00f" stroke-width="3.5" stroke-dasharray="13.1 3.4 6.6 3.4"/>
<polyline points="1515.2,2828.8 1529.6,2828.8 1542.6,2828.8 1557.8,2828.8 1572.2,2828.8 1577.1,2828.8 1584.9,2828.2 1590.7,2826.5 1605.1,2815.9 1614.0,2803.5 1620.3,2792.2 1626.4,2780.4 1636.8,2753.9 1642.8,2734.4 1649.4,2709.0 1655.8,2683.7 1656.6,2678.5 1662.1,2648.2 1665.6,2630.1 1669.6,2605.6 1674.5,2579.1 1678.8,2555.2 1680.8,2543.7 1684.6,2517.2 1686.9,2507.1 1688.9,2491.3 1694.4,2462.2 1699.0,2442.3 1759.2,2488.1 1763.5,2512.0 1766.4,2530.7 1769.5,2545.1 1771.0,2553.2 1775.0,2577.7 1777.9,2590.3 1781.6,2607.6 1788.2,2642.5 1791.7,2657.7 1796.3,2676.2 1803.2,2701.2 1807.0,2715.6 1815.0,2736.9 1824.8,2757.7 1831.5,2768.6 1839.2,2778.4 1849.3,2789.4 1860.8,2799.2 1868.6,2806.4 1877.2,2813.8 1888.8,2822.5 1701.9,2424.9 1703.7,2417.1 1709.1,2398.7 1714.3,2384.3 1721.5,2375.1 1727.3,2376.5 1735.9,2401.0 1737.4,2413.4 1745.1,2420.6 1748.6,2439.9 1755.2,2456.3" stroke="none" marker-start="url(#mk)" marker-mid="url(#mk)" marker-end="url(#mk)"/>
<path d="M1405.3,2828.4L1650.9,2828.4L1651.5,2821.2L1652.4,2810.6L1653.5,2798.2L1654.6,2784.6L1655.9,2769.9L1657.2,2754.4L1658.7,2738.2L1660.1,2721.4L1661.6,2704.1L1663.2,2686.4L1664.9,2668.5L1666.5,2650.3L1668.2,2632.0L1670.0,2613.6L1671.8,2595.3L1673.6,2577.2L1675.5,2559.2L1677.4,2541.5L1679.3,2524.2L1681.3,2507.3L1683.2,2491.0L1685.3,2475.2L1687.3,2460.2L1689.4,2445.8L1691.5,2432.3L1693.6,2419.6L1695.7,2407.9L1697.9,2397.2L1700.1,2387.4L1702.3,2378.8L1704.6,2371.2L1706.8,2364.8L1709.1,2359.6L1711.4,2355.6L1713.7,2352.7L1716.1,2351.0L1718.4,2350.6L1720.8,2351.3L1723.2,2353.2L1725.6,2356.2L1728.1,2360.4L1730.5,2365.6L1733.0,2371.9L1735.5,2379.1L1738.0,2387.3L1740.5,2396.3L1743.1,2406.2L1745.6,2416.8L1748.2,2428.1L1750.8,2440.0L1753.4,2452.4L1756.0,2465.3L1758.7,2478.6L1761.3,2492.1L1764.0,2506.0L1766.6,2519.9L1769.3,2534.0L1772.1,2548.1L1774.8,2562.2L1777.5,2576.1L1780.3,2590.0L1783.0,2603.5L1785.8,2616.9L1788.6,2629.9L1791.4,2642.6L1794.2,2654.9L1797.0,2666.8L1799.9,2678.2L1802.7,2689.2L1805.6,2699.7L1808.5,2709.7L1811.4,2719.2L1814.3,2728.2L1817.2,2736.7L1820.1,2744.7L1823.1,2752.1L1826.0,2759.1L1829.0,2765.7L1831.9,2771.7L1834.9,2777.3L1837.9,2782.5L1840.9,2787.2L1844.0,2791.6L1847.0,2795.6L1850.0,2799.2L1853.1,2802.5L1856.1,2805.5L1859.2,2808.2L1862.3,2810.6L1865.4,2812.8L1868.5,2814.8L1871.6,2816.5L1874.7,2818.1L1877.9,2819.4L1881.0,2820.6L1884.1,2821.7L1887.3,2822.6L1890.5,2823.5L1893.7,2824.2L1896.9,2824.8L1900.1,2825.3L1903.3,2825.8L1906.5,2826.2L1909.7,2826.6L1913.0,2826.8L1916.2,2827.1L1919.5,2827.3L1922.7,2827.5L1926.0,2827.6L1929.3,2827.8L1932.6,2827.9L1935.9,2828.0L1939.2,2828.1L1942.5,2828.1L1945.9,2828.2L1949.2,2828.2L1952.6,2828.2L1955.9,2828.3L1959.3,2828.3L1962.6,2828.3L1966.0,2828.3L1969.4,2828.3L1972.8,2828.4L1976.2,2828.4L1979.6,2828.4L1983.1,2828.4L1986.5,2828.4L1989.9,2828.4L1993.4,2828.4L2401.7,2828.4" stroke="#f00" stroke-width="3.5"/>
<path d="M1405.3,2828.4L1650.2,2828.4L1650.8,2821.6L1651.8,2811.6L1652.9,2799.9L1654.1,2787.0L1655.5,2773.2L1656.9,2758.5L1658.4,2743.2L1659.9,2727.4L1661.6,2711.0L1663.2,2694.3L1664.9,2677.4L1666.7,2660.2L1668.5,2642.9L1670.4,2625.6L1672.3,2608.3L1674.2,2591.2L1676.2,2574.2L1678.2,2557.5L1680.2,2541.1L1682.3,2525.2L1684.4,2509.8L1686.6,2494.9L1688.7,2480.7L1690.9,2467.1L1693.1,2454.3L1695.4,2442.4L1697.7,2431.3L1700.0,2421.2L1702.3,2412.0L1704.6,2403.8L1707.0,2396.7L1709.4,2390.6L1711.8,2385.7L1714.2,2381.9L1716.7,2379.2L1719.2,2377.6L1721.7,2377.2L1724.2,2377.9L1726.8,2379.6L1729.3,2382.5L1731.9,2386.4L1734.5,2391.4L1737.1,2397.3L1739.8,2404.1L1742.4,2411.8L1745.1,2420.4L1747.8,2429.7L1750.5,2439.7L1753.2,2450.4L1756.0,2461.6L1758.7,2473.3L1761.5,2485.5L1764.3,2498.0L1767.1,2510.9L1769.9,2523.9L1772.7,2537.1L1775.6,2550.4L1778.5,2563.7L1781.3,2577.0L1784.2,2590.2L1787.2,2603.2L1790.1,2616.1L1793.0,2628.7L1796.0,2641.0L1798.9,2652.9L1801.9,2664.5L1804.9,2675.8L1807.9,2686.6L1811.0,2696.9L1814.0,2706.8L1817.0,2716.3L1820.1,2725.3L1823.2,2733.8L1826.3,2741.8L1829.4,2749.3L1832.5,2756.4L1835.6,2763.0L1838.7,2769.1L1841.9,2774.9L1845.0,2780.2L1848.2,2785.0L1851.4,2789.5L1854.6,2793.6L1857.8,2797.4L1861.0,2800.8L1864.3,2804.0L1867.5,2806.8L1870.8,2809.3L1874.0,2811.6L1877.3,2813.7L1880.6,2815.5L1883.9,2817.2L1887.2,2818.6L1890.5,2819.9L1893.8,2821.1L1897.2,2822.1L1900.5,2823.0L1903.9,2823.7L1907.3,2824.4L1910.6,2825.0L1914.0,2825.5L1917.4,2825.9L1920.8,2826.3L1924.3,2826.7L1927.7,2826.9L1931.1,2827.2L1934.6,2827.4L1938.0,2827.5L1941.5,2827.7L1945.0,2827.8L1948.5,2827.9L1952.0,2828.0L1955.5,2828.1L1959.0,2828.1L1962.5,2828.2L1966.1,2828.2L1969.6,2828.3L1973.2,2828.3L1976.7,2828.3L1980.3,2828.3L1983.9,2828.3L1987.5,2828.4L1991.1,2828.4L1994.7,2828.4L1998.3,2828.4L2001.9,2828.4L2005.5,2828.4L2009.2,2828.4L2012.8,2828.4L2401.7,2828.4" stroke="#00f" stroke-width="3.5" stroke-dasharray="13.1 3.4 6.6 3.4"/>
<polyline points="1600.7,2828.8 1611.7,2828.8 1620.9,2828.2 1624.7,2828.2 1634.2,2826.5 1636.8,2824.5 1649.1,2815.0 1659.2,2800.3 1667.9,2782.5 1676.5,2758.5 1682.5,2738.1 1689.5,2709.3 1699.5,2664.7 1702.4,2646.2 1705.9,2627.5 1710.5,2595.5 1715.4,2573.4 1719.1,2544.3 1721.1,2533.0 1724.0,2513.4 1725.5,2501.9 1730.1,2470.2 1733.2,2445.2 1823.4,2462.2 1827.7,2485.2 1832.9,2513.2 1836.3,2530.7 1841.5,2556.1 1844.1,2567.3 1849.3,2590.3 1855.9,2617.1 1864.6,2646.8 1872.4,2669.8 1879.3,2687.4 1888.2,2709.0 1899.7,2728.0 1742.2,2377.4 1747.4,2345.7 1751.8,2320.9 1758.1,2291.5 1763.0,2274.0 1771.0,2259.0 1779.7,2261.9 1785.4,2274.3 1790.6,2290.1 1797.3,2319.5 1803.6,2350.0 1808.5,2377.6 1816.3,2421.7 1818.9,2437.3 1911.3,2746.1 1921.4,2759.0 1932.3,2770.3 1941.9,2778.8 1952.4,2786.9 1962.5,2793.7 1974.6,2799.8 1988.3,2807.0 2001.2,2812.7 2014.1,2818.7 2028.2,2824.0 2042.9,2827.8 2057.3,2828.1" stroke="none" marker-start="url(#mk)" marker-mid="url(#mk)" marker-end="url(#mk)"/>
<path d="M1405.3,2828.4L1694.8,2828.4L1695.5,2819.2L1696.6,2805.9L1697.8,2790.2L1699.2,2773.0L1700.7,2754.4L1702.3,2734.8L1703.9,2714.2L1705.7,2693.0L1707.5,2671.1L1709.4,2648.7L1711.3,2626.0L1713.3,2602.9L1715.3,2579.8L1717.4,2556.6L1719.5,2533.4L1721.7,2510.4L1723.9,2487.6L1726.1,2465.3L1728.4,2443.3L1730.7,2422.0L1733.1,2401.3L1735.5,2381.4L1737.9,2362.3L1740.3,2344.1L1742.8,2327.0L1745.3,2311.0L1747.9,2296.1L1750.5,2282.5L1753.1,2270.2L1755.7,2259.3L1758.3,2249.7L1761.0,2241.6L1763.7,2235.0L1766.5,2229.9L1769.2,2226.3L1772.0,2224.2L1774.8,2223.6L1777.6,2224.5L1780.5,2226.9L1783.3,2230.7L1786.2,2236.0L1789.1,2242.6L1792.0,2250.5L1795.0,2259.7L1798.0,2270.0L1801.0,2281.5L1804.0,2294.0L1807.0,2307.4L1810.1,2321.7L1813.1,2336.7L1816.2,2352.5L1819.3,2368.8L1822.4,2385.6L1825.6,2402.8L1828.7,2420.2L1831.9,2437.9L1835.1,2455.8L1838.3,2473.6L1841.5,2491.4L1844.8,2509.1L1848.0,2526.6L1851.3,2543.8L1854.6,2560.7L1857.9,2577.1L1861.2,2593.2L1864.6,2608.8L1867.9,2623.8L1871.3,2638.3L1874.7,2652.2L1878.1,2665.5L1881.5,2678.1L1884.9,2690.2L1888.4,2701.5L1891.8,2712.3L1895.3,2722.4L1898.8,2731.9L1902.3,2740.7L1905.8,2749.0L1909.3,2756.6L1912.8,2763.7L1916.4,2770.3L1919.9,2776.3L1923.5,2781.8L1927.1,2786.9L1930.7,2791.5L1934.3,2795.6L1938.0,2799.4L1941.6,2802.8L1945.2,2805.9L1948.9,2808.7L1952.6,2811.1L1956.3,2813.4L1960.0,2815.3L1963.7,2817.0L1967.4,2818.6L1971.2,2819.9L1974.9,2821.1L1978.7,2822.1L1982.4,2823.1L1986.2,2823.8L1990.0,2824.5L1993.8,2825.1L1997.6,2825.6L2001.5,2826.1L2005.3,2826.4L2009.2,2826.8L2013.0,2827.0L2016.9,2827.3L2020.8,2827.4L2024.7,2827.6L2028.6,2827.8L2032.5,2827.9L2036.4,2828.0L2040.3,2828.0L2044.3,2828.1L2048.2,2828.2L2052.2,2828.2L2056.2,2828.2L2060.2,2828.3L2064.2,2828.3L2068.2,2828.3L2072.2,2828.3L2076.2,2828.3L2080.3,2828.4L2084.3,2828.4L2088.4,2828.4L2092.4,2828.4L2096.5,2828.4L2100.6,2828.4L2401.7,2828.4" stroke="#f00" stroke-width="3.5"/>
<path d="M1405.3,2828.4L1686.6,2828.4L1687.3,2819.7L1688.5,2806.9L1689.8,2792.0L1691.2,2775.6L1692.8,2757.9L1694.5,2739.2L1696.2,2719.6L1698.0,2699.3L1699.9,2678.5L1701.9,2657.2L1703.9,2635.5L1706.0,2613.6L1708.1,2591.5L1710.3,2569.4L1712.5,2547.3L1714.8,2525.4L1717.1,2503.7L1719.5,2482.4L1721.9,2461.5L1724.3,2441.2L1726.8,2421.4L1729.3,2402.4L1731.8,2384.3L1734.4,2367.0L1737.0,2350.6L1739.7,2335.4L1742.3,2321.2L1745.0,2308.3L1747.8,2296.5L1750.5,2286.1L1753.3,2277.0L1756.1,2269.3L1759.0,2263.0L1761.8,2258.1L1764.7,2254.6L1767.6,2252.6L1770.6,2252.1L1773.5,2253.0L1776.5,2255.2L1779.5,2258.9L1782.6,2263.9L1785.6,2270.2L1788.7,2277.8L1791.8,2286.5L1794.9,2296.4L1798.0,2307.3L1801.2,2319.2L1804.4,2332.0L1807.6,2345.6L1810.8,2359.9L1814.0,2374.9L1817.3,2390.4L1820.6,2406.4L1823.9,2422.8L1827.2,2439.5L1830.5,2456.3L1833.9,2473.3L1837.2,2490.3L1840.6,2507.3L1844.0,2524.1L1847.4,2540.8L1850.9,2557.2L1854.3,2573.3L1857.8,2589.0L1861.3,2604.3L1864.8,2619.1L1868.3,2633.4L1871.9,2647.2L1875.4,2660.5L1879.0,2673.1L1882.5,2685.2L1886.1,2696.7L1889.8,2707.5L1893.4,2717.8L1897.0,2727.4L1900.7,2736.4L1904.3,2744.9L1908.0,2752.7L1911.7,2760.0L1915.4,2766.8L1919.2,2773.0L1922.9,2778.7L1926.7,2784.0L1930.4,2788.8L1934.2,2793.2L1938.0,2797.2L1941.8,2800.8L1945.6,2804.0L1949.5,2807.0L1953.3,2809.6L1957.2,2812.0L1961.0,2814.1L1964.9,2815.9L1968.8,2817.6L1972.7,2819.0L1976.6,2820.3L1980.6,2821.5L1984.5,2822.4L1988.5,2823.3L1992.5,2824.1L1996.4,2824.7L2000.4,2825.3L2004.4,2825.8L2008.5,2826.2L2012.5,2826.5L2016.5,2826.8L2020.6,2827.1L2024.6,2827.3L2028.7,2827.5L2032.8,2827.6L2036.9,2827.8L2041.0,2827.9L2045.1,2828.0L2049.3,2828.1L2053.4,2828.1L2057.6,2828.2L2061.7,2828.2L2065.9,2828.3L2070.1,2828.3L2074.3,2828.3L2078.5,2828.3L2082.7,2828.3L2086.9,2828.4L2091.2,2828.4L2095.4,2828.4L2099.7,2828.4L2103.9,2828.4L2108.2,2828.4L2112.5,2828.4L2401.7,2828.4" stroke="#00f" stroke-width="3.5" stroke-dasharray="13.1 3.4 6.6 3.4"/>
<polyline points="1636.2,2825.9 1647.7,2823.1 1661.8,2816.2 1671.6,2808.1 1678.5,2800.3 1687.2,2787.9 1694.6,2771.2 1709.3,2730.0 1713.7,2714.5 1717.7,2696.3 1724.9,2662.4 1726.3,2650.0 1731.2,2622.6 1734.1,2605.6 1739.0,2578.2 1742.7,2549.4 1746.5,2526.4 1747.6,2514.9 1752.0,2482.6 1754.8,2455.8 1751.8,2487.4 1755.2,2465.8 1761.0,2413.9 1763.3,2396.4 1767.6,2364.1 1772.5,2327.5 1778.2,2295.3 1786.9,2243.1 1792.9,2221.5 1804.7,2197.9 1811.4,2197.1 1818.0,2205.1 1823.5,2217.2 1827.5,2229.9 1834.7,2255.5 1838.7,2273.1 1845.6,2304.8 1851.4,2331.6 1856.9,2359.5 1862.9,2388.0 1865.5,2401.6 1870.4,2426.0 1872.1,2434.1 1876.5,2454.0 1884.8,2490.8 1889.4,2507.5 1894.8,2530.4 1900.4,2551.0 1905.6,2570.7 1912.5,2592.9 1919.8,2613.5 1926.6,2632.0 1929.4,2639.3 1939.1,2662.3 1946.0,2677.2 1954.4,2694.1 1960.1,2703.0 1964.5,2709.0 1974.6,2725.2 1982.3,2736.0 1991.9,2747.3 2000.8,2755.4 2012.9,2766.3 2023.0,2773.5 2035.1,2780.8 2045.2,2784.8 2058.9,2789.7 2073.0,2794.5 2087.1,2799.0 2100.0,2805.8 2114.8,2815.2 2128.5,2823.3 2142.6,2828.1 2156.7,2828.1 2170.5,2828.1 2184.6,2828.1 2198.3,2828.1 2212.1,2828.1 2226.2,2828.1 2240.0,2828.1 2254.1,2828.1 2267.8,2828.1 2281.9,2828.1 2296.0,2828.1 2309.8,2828.1" stroke="none" marker-start="url(#mk)" marker-mid="url(#mk)" marker-end="url(#mk)"/>
<path d="M1405.3,2828.4L1713.8,2828.4L1714.7,2818.7L1716.1,2804.5L1717.7,2787.9L1719.4,2769.6L1721.3,2749.9L1723.3,2729.1L1725.4,2707.4L1727.6,2684.8L1729.8,2661.6L1732.2,2637.9L1734.6,2613.8L1737.1,2589.4L1739.7,2564.8L1742.3,2540.2L1744.9,2515.7L1747.7,2491.3L1750.4,2467.2L1753.3,2443.4L1756.1,2420.2L1759.1,2397.6L1762.0,2375.6L1765.0,2354.5L1768.1,2334.3L1771.2,2315.0L1774.3,2296.9L1777.4,2279.9L1780.6,2264.1L1783.9,2249.7L1787.1,2236.6L1790.5,2225.0L1793.8,2214.9L1797.2,2206.3L1800.6,2199.3L1804.0,2193.9L1807.5,2190.0L1810.9,2187.8L1814.5,2187.2L1818.0,2188.2L1821.6,2190.7L1825.2,2194.8L1828.8,2200.3L1832.5,2207.4L1836.2,2215.8L1839.9,2225.5L1843.6,2236.5L1847.4,2248.6L1851.2,2261.8L1855.0,2276.1L1858.8,2291.2L1862.7,2307.2L1866.6,2323.8L1870.5,2341.1L1874.4,2358.9L1878.4,2377.2L1882.3,2395.7L1886.3,2414.5L1890.3,2433.3L1894.4,2452.3L1898.4,2471.1L1902.5,2489.9L1906.6,2508.4L1910.7,2526.7L1914.9,2544.6L1919.0,2562.0L1923.2,2579.1L1927.4,2595.6L1931.6,2611.5L1935.9,2626.8L1940.1,2641.6L1944.4,2655.7L1948.7,2669.1L1953.0,2681.8L1957.3,2693.9L1961.7,2705.3L1966.0,2716.0L1970.4,2726.1L1974.8,2735.5L1979.2,2744.2L1983.6,2752.3L1988.1,2759.8L1992.6,2766.8L1997.0,2773.2L2001.5,2779.0L2006.0,2784.4L2010.6,2789.2L2015.1,2793.7L2019.7,2797.7L2024.3,2801.3L2028.9,2804.6L2033.5,2807.5L2038.1,2810.1L2042.7,2812.4L2047.4,2814.5L2052.1,2816.4L2056.7,2818.0L2061.4,2819.4L2066.2,2820.7L2070.9,2821.8L2075.6,2822.7L2080.4,2823.6L2085.2,2824.3L2090.0,2824.9L2094.8,2825.5L2099.6,2825.9L2104.4,2826.3L2109.2,2826.7L2114.1,2826.9L2119.0,2827.2L2123.8,2827.4L2128.7,2827.6L2133.7,2827.7L2138.6,2827.8L2143.5,2827.9L2148.5,2828.0L2153.4,2828.1L2158.4,2828.1L2163.4,2828.2L2168.4,2828.2L2173.4,2828.3L2178.4,2828.3L2183.5,2828.3L2188.5,2828.3L2193.6,2828.3L2198.7,2828.4L2203.8,2828.4L2208.9,2828.4L2214.0,2828.4L2219.1,2828.4L2224.2,2828.4L2401.7,2828.4" stroke="#f00" stroke-width="3.5"/>
<path d="M1405.3,2828.4L1718.8,2828.4L1719.6,2818.0L1720.9,2802.9L1722.4,2785.2L1724.0,2765.6L1725.7,2744.6L1727.6,2722.3L1729.6,2699.0L1731.6,2674.9L1733.8,2650.2L1736.0,2624.8L1738.2,2599.0L1740.6,2573.0L1742.9,2546.7L1745.4,2520.4L1747.9,2494.2L1750.4,2468.1L1753.0,2442.3L1755.7,2417.0L1758.4,2392.2L1761.1,2368.0L1763.9,2344.5L1766.7,2321.9L1769.5,2300.3L1772.4,2279.8L1775.3,2260.3L1778.3,2242.2L1781.3,2225.4L1784.3,2209.9L1787.4,2196.0L1790.5,2183.6L1793.6,2172.8L1796.8,2163.6L1799.9,2156.1L1803.1,2150.3L1806.4,2146.2L1809.7,2143.8L1812.9,2143.2L1816.3,2144.2L1819.6,2146.9L1823.0,2151.3L1826.4,2157.2L1829.8,2164.7L1833.3,2173.7L1836.7,2184.1L1840.2,2195.8L1843.8,2208.8L1847.3,2222.9L1850.9,2238.1L1854.5,2254.3L1858.1,2271.4L1861.7,2289.2L1865.4,2307.7L1869.0,2326.7L1872.7,2346.2L1876.4,2366.0L1880.2,2386.0L1883.9,2406.2L1887.7,2426.4L1891.5,2446.6L1895.3,2466.6L1899.2,2486.4L1903.0,2505.9L1906.9,2525.1L1910.8,2543.7L1914.7,2561.9L1918.6,2579.6L1922.6,2596.6L1926.5,2613.0L1930.5,2628.7L1934.5,2643.8L1938.5,2658.1L1942.6,2671.8L1946.6,2684.7L1950.7,2696.9L1954.8,2708.3L1958.9,2719.0L1963.0,2729.1L1967.1,2738.4L1971.2,2747.1L1975.4,2755.1L1979.6,2762.5L1983.8,2769.4L1988.0,2775.6L1992.2,2781.3L1996.5,2786.5L2000.7,2791.3L2005.0,2795.6L2009.3,2799.4L2013.6,2802.9L2017.9,2806.1L2022.2,2808.9L2026.5,2811.4L2030.9,2813.6L2035.3,2815.5L2039.7,2817.3L2044.1,2818.8L2048.5,2820.1L2052.9,2821.3L2057.3,2822.3L2061.8,2823.2L2066.2,2824.0L2070.7,2824.7L2075.2,2825.3L2079.7,2825.7L2084.2,2826.2L2088.8,2826.5L2093.3,2826.8L2097.9,2827.1L2102.4,2827.3L2107.0,2827.5L2111.6,2827.7L2116.2,2827.8L2120.9,2827.9L2125.5,2828.0L2130.1,2828.1L2134.8,2828.1L2139.5,2828.2L2144.1,2828.2L2148.8,2828.3L2153.5,2828.3L2158.2,2828.3L2163.0,2828.3L2167.7,2828.3L2172.5,2828.4L2177.2,2828.4L2182.0,2828.4L2186.8,2828.4L2191.6,2828.4L2196.4,2828.4L2401.7,2828.4" stroke="#00f" stroke-width="3.5" stroke-dasharray="13.1 3.4 6.6 3.4"/>
</g>
<g font-family="Liberation Sans, Arial, sans-serif" font-size="48.0" fill="#262626">
<text x="1529.8" y="2892.6" text-anchor="middle">410</text>
<text x="1778.9" y="2892.6" text-anchor="middle">400</text>
<text x="2028.0" y="2892.6" text-anchor="middle">390</text>
<text x="2277.2" y="2892.6" text-anchor="middle">380</text>
<text x="1389.7" y="2847.0" text-anchor="end">0</text>
<text x="1389.7" y="2740.6" text-anchor="end">0.5</text>
<text x="1389.7" y="2634.3" text-anchor="end">1</text>
<text x="1389.7" y="2527.9" text-anchor="end">1.5</text>
<text x="1389.7" y="2421.5" text-anchor="end">2</text>
<text x="1389.7" y="2315.1" text-anchor="end">2.5</text>
<text x="1389.7" y="2208.8" text-anchor="end">3</text>
<text x="1389.7" y="2102.4" text-anchor="end">3.5</text>
</g>
<g font-family="Liberation Serif, Times New Roman, serif" font-size="60.8" fill="#262626">
<text x="1903.5" y="2962.1" text-anchor="middle">Absolute Temperature (K)</text>
<text transform="translate(1300.0,2462.8) rotate(-90)" text-anchor="middle">dX/dt</text>
</g>
<text x="1294" y="2047" font-family="Liberation Serif, Times New Roman, serif" font-size="73.5" fill="#000">(f)</text>
<g font-family="Liberation Serif, Times New Roman, serif" font-size="36.8" fill="#000">
<circle cx="2038.0" cy="2137.9" r="3.25" fill="none" stroke="#000" stroke-width="1.6"/>
<path d="M1988.0,2181.9h100.5" stroke="#f00" stroke-width="3.5" fill="none"/>
<path d="M1988.0,2247.9h100.5" stroke="#00f" stroke-width="3.5" stroke-dasharray="13.1 3.4 6.6 3.4" fill="none"/>
<text x="2095.4" y="2151.2">dX/dt-Experiment</text>
<text x="2095.4" y="2194.6">dX/dt-Model</text>
<text x="2095.4" y="2238.6">dX/dt-Model with</text>
<text x="2095.4" y="2281.5">Fitted Parameters</text>
</g>
<g font-family="Liberation Serif, Times New Roman, serif" font-size="36.8" fill="#000">
<text x="1479.8" y="2581.2">–5K/min</text>
<text x="1554.4" y="2388.5">–10K/min</text>
<text x="1586.7" y="2280.8">–15K/min</text>
<text x="1654" y="2164.7">–20K/min</text>
</g>
</g>
</g>
<rect x="0" y="2975" width="2456" height="1.4" fill="#e4e4e4"/>
</svg>
</body></html>
